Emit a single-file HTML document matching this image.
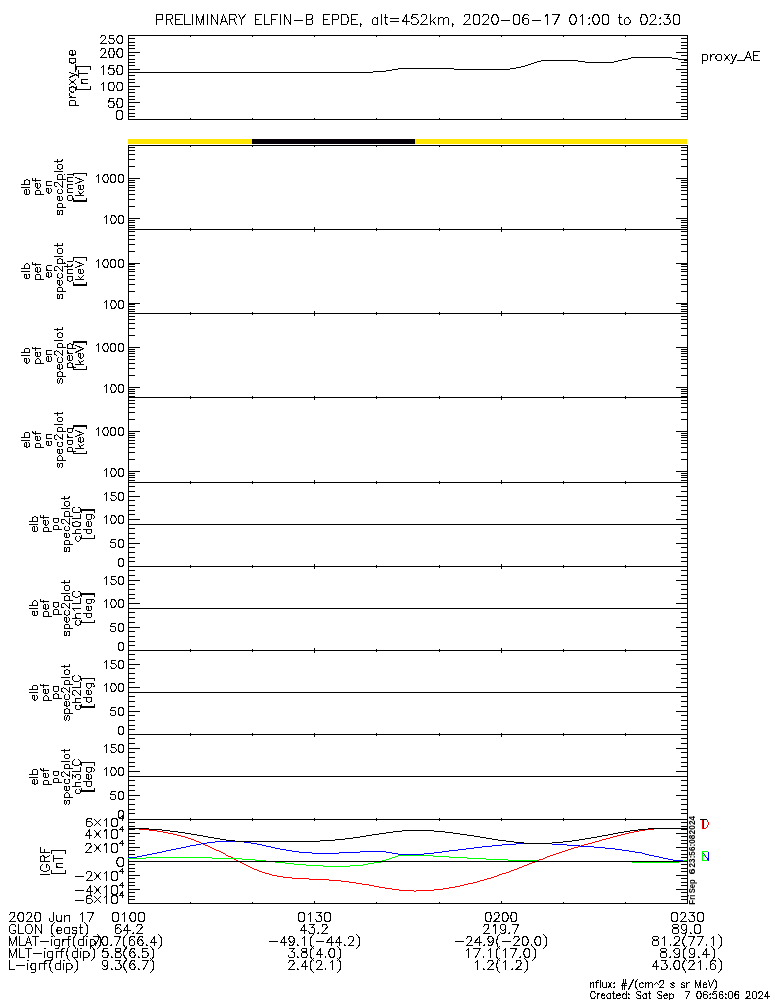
<!DOCTYPE html>
<html><head><meta charset="utf-8"><style>
html,body{margin:0;padding:0;background:#fff;width:775px;height:1000px;overflow:hidden}
svg{display:block}
text{font-family:"Liberation Sans",sans-serif;font-kerning:none;white-space:pre}
</style></head><body>
<svg width="775" height="1000" viewBox="0 0 775 1000">
<rect width="775" height="1000" fill="#fff"/>
<g shape-rendering="crispEdges">
<rect x="128" y="35" width="560" height="1" fill="#000"/>
<rect x="128" y="119" width="560" height="1" fill="#000"/>
<rect x="128" y="35" width="1" height="85" fill="#000"/>
<rect x="687" y="35" width="1" height="85" fill="#000"/>
<rect x="190" y="36" width="1" height="1" fill="#000"/>
<rect x="190" y="118" width="1" height="1" fill="#000"/>
<rect x="252" y="36" width="1" height="1" fill="#000"/>
<rect x="252" y="118" width="1" height="1" fill="#000"/>
<rect x="314" y="36" width="1" height="1" fill="#000"/>
<rect x="314" y="118" width="1" height="1" fill="#000"/>
<rect x="376" y="36" width="1" height="1" fill="#000"/>
<rect x="376" y="118" width="1" height="1" fill="#000"/>
<rect x="439" y="36" width="1" height="1" fill="#000"/>
<rect x="439" y="118" width="1" height="1" fill="#000"/>
<rect x="501" y="36" width="1" height="1" fill="#000"/>
<rect x="501" y="118" width="1" height="1" fill="#000"/>
<rect x="563" y="36" width="1" height="1" fill="#000"/>
<rect x="563" y="118" width="1" height="1" fill="#000"/>
<rect x="625" y="36" width="1" height="1" fill="#000"/>
<rect x="625" y="118" width="1" height="1" fill="#000"/>
<rect x="128" y="116" width="7" height="1" fill="#000"/>
<rect x="681" y="116" width="7" height="1" fill="#000"/>
<rect x="128" y="113" width="7" height="1" fill="#000"/>
<rect x="681" y="113" width="7" height="1" fill="#000"/>
<rect x="128" y="109" width="7" height="1" fill="#000"/>
<rect x="681" y="109" width="7" height="1" fill="#000"/>
<rect x="128" y="106" width="7" height="1" fill="#000"/>
<rect x="681" y="106" width="7" height="1" fill="#000"/>
<rect x="128" y="99" width="7" height="1" fill="#000"/>
<rect x="681" y="99" width="7" height="1" fill="#000"/>
<rect x="128" y="96" width="7" height="1" fill="#000"/>
<rect x="681" y="96" width="7" height="1" fill="#000"/>
<rect x="128" y="92" width="7" height="1" fill="#000"/>
<rect x="681" y="92" width="7" height="1" fill="#000"/>
<rect x="128" y="89" width="7" height="1" fill="#000"/>
<rect x="681" y="89" width="7" height="1" fill="#000"/>
<rect x="128" y="82" width="7" height="1" fill="#000"/>
<rect x="681" y="82" width="7" height="1" fill="#000"/>
<rect x="128" y="79" width="7" height="1" fill="#000"/>
<rect x="681" y="79" width="7" height="1" fill="#000"/>
<rect x="128" y="75" width="7" height="1" fill="#000"/>
<rect x="681" y="75" width="7" height="1" fill="#000"/>
<rect x="128" y="72" width="7" height="1" fill="#000"/>
<rect x="681" y="72" width="7" height="1" fill="#000"/>
<rect x="128" y="65" width="7" height="1" fill="#000"/>
<rect x="681" y="65" width="7" height="1" fill="#000"/>
<rect x="128" y="62" width="7" height="1" fill="#000"/>
<rect x="681" y="62" width="7" height="1" fill="#000"/>
<rect x="128" y="59" width="7" height="1" fill="#000"/>
<rect x="681" y="59" width="7" height="1" fill="#000"/>
<rect x="128" y="55" width="7" height="1" fill="#000"/>
<rect x="681" y="55" width="7" height="1" fill="#000"/>
<rect x="128" y="48" width="7" height="1" fill="#000"/>
<rect x="681" y="48" width="7" height="1" fill="#000"/>
<rect x="128" y="45" width="7" height="1" fill="#000"/>
<rect x="681" y="45" width="7" height="1" fill="#000"/>
<rect x="128" y="42" width="7" height="1" fill="#000"/>
<rect x="681" y="42" width="7" height="1" fill="#000"/>
<rect x="128" y="38" width="7" height="1" fill="#000"/>
<rect x="681" y="38" width="7" height="1" fill="#000"/>
<rect x="128" y="102" width="12" height="1" fill="#000"/>
<rect x="676" y="102" width="12" height="1" fill="#000"/>
<rect x="128" y="86" width="12" height="1" fill="#000"/>
<rect x="676" y="86" width="12" height="1" fill="#000"/>
<rect x="128" y="69" width="12" height="1" fill="#000"/>
<rect x="676" y="69" width="12" height="1" fill="#000"/>
<rect x="128" y="52" width="12" height="1" fill="#000"/>
<rect x="676" y="52" width="12" height="1" fill="#000"/>
<rect x="129" y="72" width="244" height="1" fill="#000"/>
<rect x="373" y="71" width="13" height="1" fill="#000"/>
<rect x="386" y="70" width="6" height="1" fill="#000"/>
<rect x="392" y="69" width="6" height="1" fill="#000"/>
<rect x="398" y="68" width="56" height="1" fill="#000"/>
<rect x="454" y="69" width="56" height="1" fill="#000"/>
<rect x="510" y="68" width="6" height="1" fill="#000"/>
<rect x="516" y="67" width="5" height="1" fill="#000"/>
<rect x="521" y="66" width="4" height="1" fill="#000"/>
<rect x="525" y="65" width="3" height="1" fill="#000"/>
<rect x="528" y="64" width="3" height="1" fill="#000"/>
<rect x="531" y="63" width="3" height="1" fill="#000"/>
<rect x="534" y="62" width="3" height="1" fill="#000"/>
<rect x="537" y="61" width="4" height="1" fill="#000"/>
<rect x="541" y="60" width="37" height="1" fill="#000"/>
<rect x="578" y="61" width="7" height="1" fill="#000"/>
<rect x="585" y="62" width="29" height="1" fill="#000"/>
<rect x="614" y="61" width="4" height="1" fill="#000"/>
<rect x="618" y="60" width="4" height="1" fill="#000"/>
<rect x="622" y="59" width="6" height="1" fill="#000"/>
<rect x="628" y="58" width="3" height="1" fill="#000"/>
<rect x="631" y="57" width="41" height="1" fill="#000"/>
<rect x="672" y="58" width="6" height="1" fill="#000"/>
<rect x="678" y="59" width="6" height="1" fill="#000"/>
<rect x="684" y="60" width="3" height="1" fill="#000"/>
<rect x="128" y="139" width="124" height="5" fill="#ffe600"/>
<rect x="252" y="139" width="163" height="5" fill="#050005"/>
<rect x="415" y="139" width="272" height="5" fill="#ffe600"/>
<rect x="128" y="145" width="560" height="1" fill="#000"/>
<rect x="128" y="229" width="560" height="1" fill="#000"/>
<rect x="128" y="145" width="1" height="85" fill="#000"/>
<rect x="687" y="145" width="1" height="85" fill="#000"/>
<rect x="190" y="146" width="1" height="1" fill="#000"/>
<rect x="190" y="228" width="1" height="1" fill="#000"/>
<rect x="252" y="146" width="1" height="1" fill="#000"/>
<rect x="252" y="228" width="1" height="1" fill="#000"/>
<rect x="314" y="146" width="1" height="1" fill="#000"/>
<rect x="314" y="227" width="1" height="2" fill="#000"/>
<rect x="376" y="146" width="1" height="1" fill="#000"/>
<rect x="376" y="228" width="1" height="1" fill="#000"/>
<rect x="439" y="146" width="1" height="1" fill="#000"/>
<rect x="439" y="228" width="1" height="1" fill="#000"/>
<rect x="501" y="146" width="1" height="1" fill="#000"/>
<rect x="501" y="227" width="1" height="2" fill="#000"/>
<rect x="563" y="146" width="1" height="1" fill="#000"/>
<rect x="563" y="228" width="1" height="1" fill="#000"/>
<rect x="625" y="146" width="1" height="1" fill="#000"/>
<rect x="625" y="228" width="1" height="1" fill="#000"/>
<rect x="128" y="227" width="7" height="1" fill="#000"/>
<rect x="681" y="227" width="7" height="1" fill="#000"/>
<rect x="128" y="225" width="7" height="1" fill="#000"/>
<rect x="681" y="225" width="7" height="1" fill="#000"/>
<rect x="128" y="222" width="7" height="1" fill="#000"/>
<rect x="681" y="222" width="7" height="1" fill="#000"/>
<rect x="128" y="220" width="7" height="1" fill="#000"/>
<rect x="681" y="220" width="7" height="1" fill="#000"/>
<rect x="128" y="206" width="7" height="1" fill="#000"/>
<rect x="681" y="206" width="7" height="1" fill="#000"/>
<rect x="128" y="199" width="7" height="1" fill="#000"/>
<rect x="681" y="199" width="7" height="1" fill="#000"/>
<rect x="128" y="194" width="7" height="1" fill="#000"/>
<rect x="681" y="194" width="7" height="1" fill="#000"/>
<rect x="128" y="190" width="7" height="1" fill="#000"/>
<rect x="681" y="190" width="7" height="1" fill="#000"/>
<rect x="128" y="187" width="7" height="1" fill="#000"/>
<rect x="681" y="187" width="7" height="1" fill="#000"/>
<rect x="128" y="185" width="7" height="1" fill="#000"/>
<rect x="681" y="185" width="7" height="1" fill="#000"/>
<rect x="128" y="182" width="7" height="1" fill="#000"/>
<rect x="681" y="182" width="7" height="1" fill="#000"/>
<rect x="128" y="180" width="7" height="1" fill="#000"/>
<rect x="681" y="180" width="7" height="1" fill="#000"/>
<rect x="128" y="166" width="7" height="1" fill="#000"/>
<rect x="681" y="166" width="7" height="1" fill="#000"/>
<rect x="128" y="159" width="7" height="1" fill="#000"/>
<rect x="681" y="159" width="7" height="1" fill="#000"/>
<rect x="128" y="154" width="7" height="1" fill="#000"/>
<rect x="681" y="154" width="7" height="1" fill="#000"/>
<rect x="128" y="150" width="7" height="1" fill="#000"/>
<rect x="681" y="150" width="7" height="1" fill="#000"/>
<rect x="128" y="147" width="7" height="1" fill="#000"/>
<rect x="681" y="147" width="7" height="1" fill="#000"/>
<rect x="128" y="218" width="12" height="1" fill="#000"/>
<rect x="676" y="218" width="12" height="1" fill="#000"/>
<rect x="128" y="178" width="12" height="1" fill="#000"/>
<rect x="676" y="178" width="12" height="1" fill="#000"/>
<rect x="128" y="229" width="560" height="1" fill="#000"/>
<rect x="128" y="313" width="560" height="1" fill="#000"/>
<rect x="128" y="229" width="1" height="85" fill="#000"/>
<rect x="687" y="229" width="1" height="85" fill="#000"/>
<rect x="190" y="230" width="1" height="1" fill="#000"/>
<rect x="190" y="312" width="1" height="1" fill="#000"/>
<rect x="252" y="230" width="1" height="1" fill="#000"/>
<rect x="252" y="312" width="1" height="1" fill="#000"/>
<rect x="314" y="230" width="1" height="2" fill="#000"/>
<rect x="314" y="311" width="1" height="2" fill="#000"/>
<rect x="376" y="230" width="1" height="1" fill="#000"/>
<rect x="376" y="312" width="1" height="1" fill="#000"/>
<rect x="439" y="230" width="1" height="1" fill="#000"/>
<rect x="439" y="312" width="1" height="1" fill="#000"/>
<rect x="501" y="230" width="1" height="2" fill="#000"/>
<rect x="501" y="311" width="1" height="2" fill="#000"/>
<rect x="563" y="230" width="1" height="1" fill="#000"/>
<rect x="563" y="312" width="1" height="1" fill="#000"/>
<rect x="625" y="230" width="1" height="1" fill="#000"/>
<rect x="625" y="312" width="1" height="1" fill="#000"/>
<rect x="128" y="311" width="7" height="1" fill="#000"/>
<rect x="681" y="311" width="7" height="1" fill="#000"/>
<rect x="128" y="309" width="7" height="1" fill="#000"/>
<rect x="681" y="309" width="7" height="1" fill="#000"/>
<rect x="128" y="306" width="7" height="1" fill="#000"/>
<rect x="681" y="306" width="7" height="1" fill="#000"/>
<rect x="128" y="304" width="7" height="1" fill="#000"/>
<rect x="681" y="304" width="7" height="1" fill="#000"/>
<rect x="128" y="291" width="7" height="1" fill="#000"/>
<rect x="681" y="291" width="7" height="1" fill="#000"/>
<rect x="128" y="284" width="7" height="1" fill="#000"/>
<rect x="681" y="284" width="7" height="1" fill="#000"/>
<rect x="128" y="279" width="7" height="1" fill="#000"/>
<rect x="681" y="279" width="7" height="1" fill="#000"/>
<rect x="128" y="275" width="7" height="1" fill="#000"/>
<rect x="681" y="275" width="7" height="1" fill="#000"/>
<rect x="128" y="271" width="7" height="1" fill="#000"/>
<rect x="681" y="271" width="7" height="1" fill="#000"/>
<rect x="128" y="269" width="7" height="1" fill="#000"/>
<rect x="681" y="269" width="7" height="1" fill="#000"/>
<rect x="128" y="266" width="7" height="1" fill="#000"/>
<rect x="681" y="266" width="7" height="1" fill="#000"/>
<rect x="128" y="264" width="7" height="1" fill="#000"/>
<rect x="681" y="264" width="7" height="1" fill="#000"/>
<rect x="128" y="251" width="7" height="1" fill="#000"/>
<rect x="681" y="251" width="7" height="1" fill="#000"/>
<rect x="128" y="244" width="7" height="1" fill="#000"/>
<rect x="681" y="244" width="7" height="1" fill="#000"/>
<rect x="128" y="239" width="7" height="1" fill="#000"/>
<rect x="681" y="239" width="7" height="1" fill="#000"/>
<rect x="128" y="235" width="7" height="1" fill="#000"/>
<rect x="681" y="235" width="7" height="1" fill="#000"/>
<rect x="128" y="231" width="7" height="1" fill="#000"/>
<rect x="681" y="231" width="7" height="1" fill="#000"/>
<rect x="128" y="303" width="12" height="1" fill="#000"/>
<rect x="676" y="303" width="12" height="1" fill="#000"/>
<rect x="128" y="263" width="12" height="1" fill="#000"/>
<rect x="676" y="263" width="12" height="1" fill="#000"/>
<rect x="128" y="313" width="560" height="1" fill="#000"/>
<rect x="128" y="397" width="560" height="1" fill="#000"/>
<rect x="128" y="313" width="1" height="85" fill="#000"/>
<rect x="687" y="313" width="1" height="85" fill="#000"/>
<rect x="190" y="314" width="1" height="1" fill="#000"/>
<rect x="190" y="396" width="1" height="1" fill="#000"/>
<rect x="252" y="314" width="1" height="1" fill="#000"/>
<rect x="252" y="396" width="1" height="1" fill="#000"/>
<rect x="314" y="314" width="1" height="2" fill="#000"/>
<rect x="314" y="396" width="1" height="1" fill="#000"/>
<rect x="376" y="314" width="1" height="1" fill="#000"/>
<rect x="376" y="396" width="1" height="1" fill="#000"/>
<rect x="439" y="314" width="1" height="1" fill="#000"/>
<rect x="439" y="396" width="1" height="1" fill="#000"/>
<rect x="501" y="314" width="1" height="2" fill="#000"/>
<rect x="501" y="396" width="1" height="1" fill="#000"/>
<rect x="563" y="314" width="1" height="1" fill="#000"/>
<rect x="563" y="396" width="1" height="1" fill="#000"/>
<rect x="625" y="314" width="1" height="1" fill="#000"/>
<rect x="625" y="396" width="1" height="1" fill="#000"/>
<rect x="128" y="396" width="7" height="1" fill="#000"/>
<rect x="681" y="396" width="7" height="1" fill="#000"/>
<rect x="128" y="393" width="7" height="1" fill="#000"/>
<rect x="681" y="393" width="7" height="1" fill="#000"/>
<rect x="128" y="391" width="7" height="1" fill="#000"/>
<rect x="681" y="391" width="7" height="1" fill="#000"/>
<rect x="128" y="389" width="7" height="1" fill="#000"/>
<rect x="681" y="389" width="7" height="1" fill="#000"/>
<rect x="128" y="375" width="7" height="1" fill="#000"/>
<rect x="681" y="375" width="7" height="1" fill="#000"/>
<rect x="128" y="368" width="7" height="1" fill="#000"/>
<rect x="681" y="368" width="7" height="1" fill="#000"/>
<rect x="128" y="363" width="7" height="1" fill="#000"/>
<rect x="681" y="363" width="7" height="1" fill="#000"/>
<rect x="128" y="359" width="7" height="1" fill="#000"/>
<rect x="681" y="359" width="7" height="1" fill="#000"/>
<rect x="128" y="356" width="7" height="1" fill="#000"/>
<rect x="681" y="356" width="7" height="1" fill="#000"/>
<rect x="128" y="353" width="7" height="1" fill="#000"/>
<rect x="681" y="353" width="7" height="1" fill="#000"/>
<rect x="128" y="351" width="7" height="1" fill="#000"/>
<rect x="681" y="351" width="7" height="1" fill="#000"/>
<rect x="128" y="349" width="7" height="1" fill="#000"/>
<rect x="681" y="349" width="7" height="1" fill="#000"/>
<rect x="128" y="335" width="7" height="1" fill="#000"/>
<rect x="681" y="335" width="7" height="1" fill="#000"/>
<rect x="128" y="328" width="7" height="1" fill="#000"/>
<rect x="681" y="328" width="7" height="1" fill="#000"/>
<rect x="128" y="323" width="7" height="1" fill="#000"/>
<rect x="681" y="323" width="7" height="1" fill="#000"/>
<rect x="128" y="319" width="7" height="1" fill="#000"/>
<rect x="681" y="319" width="7" height="1" fill="#000"/>
<rect x="128" y="316" width="7" height="1" fill="#000"/>
<rect x="681" y="316" width="7" height="1" fill="#000"/>
<rect x="128" y="387" width="12" height="1" fill="#000"/>
<rect x="676" y="387" width="12" height="1" fill="#000"/>
<rect x="128" y="347" width="12" height="1" fill="#000"/>
<rect x="676" y="347" width="12" height="1" fill="#000"/>
<rect x="128" y="397" width="560" height="1" fill="#000"/>
<rect x="128" y="482" width="560" height="1" fill="#000"/>
<rect x="128" y="397" width="1" height="86" fill="#000"/>
<rect x="687" y="397" width="1" height="86" fill="#000"/>
<rect x="190" y="398" width="1" height="1" fill="#000"/>
<rect x="190" y="481" width="1" height="1" fill="#000"/>
<rect x="252" y="398" width="1" height="1" fill="#000"/>
<rect x="252" y="481" width="1" height="1" fill="#000"/>
<rect x="314" y="398" width="1" height="2" fill="#000"/>
<rect x="314" y="480" width="1" height="2" fill="#000"/>
<rect x="376" y="398" width="1" height="1" fill="#000"/>
<rect x="376" y="481" width="1" height="1" fill="#000"/>
<rect x="439" y="398" width="1" height="1" fill="#000"/>
<rect x="439" y="481" width="1" height="1" fill="#000"/>
<rect x="501" y="398" width="1" height="2" fill="#000"/>
<rect x="501" y="480" width="1" height="2" fill="#000"/>
<rect x="563" y="398" width="1" height="1" fill="#000"/>
<rect x="563" y="481" width="1" height="1" fill="#000"/>
<rect x="625" y="398" width="1" height="1" fill="#000"/>
<rect x="625" y="481" width="1" height="1" fill="#000"/>
<rect x="128" y="480" width="7" height="1" fill="#000"/>
<rect x="681" y="480" width="7" height="1" fill="#000"/>
<rect x="128" y="477" width="7" height="1" fill="#000"/>
<rect x="681" y="477" width="7" height="1" fill="#000"/>
<rect x="128" y="475" width="7" height="1" fill="#000"/>
<rect x="681" y="475" width="7" height="1" fill="#000"/>
<rect x="128" y="473" width="7" height="1" fill="#000"/>
<rect x="681" y="473" width="7" height="1" fill="#000"/>
<rect x="128" y="459" width="7" height="1" fill="#000"/>
<rect x="681" y="459" width="7" height="1" fill="#000"/>
<rect x="128" y="452" width="7" height="1" fill="#000"/>
<rect x="681" y="452" width="7" height="1" fill="#000"/>
<rect x="128" y="447" width="7" height="1" fill="#000"/>
<rect x="681" y="447" width="7" height="1" fill="#000"/>
<rect x="128" y="443" width="7" height="1" fill="#000"/>
<rect x="681" y="443" width="7" height="1" fill="#000"/>
<rect x="128" y="440" width="7" height="1" fill="#000"/>
<rect x="681" y="440" width="7" height="1" fill="#000"/>
<rect x="128" y="437" width="7" height="1" fill="#000"/>
<rect x="681" y="437" width="7" height="1" fill="#000"/>
<rect x="128" y="435" width="7" height="1" fill="#000"/>
<rect x="681" y="435" width="7" height="1" fill="#000"/>
<rect x="128" y="433" width="7" height="1" fill="#000"/>
<rect x="681" y="433" width="7" height="1" fill="#000"/>
<rect x="128" y="419" width="7" height="1" fill="#000"/>
<rect x="681" y="419" width="7" height="1" fill="#000"/>
<rect x="128" y="412" width="7" height="1" fill="#000"/>
<rect x="681" y="412" width="7" height="1" fill="#000"/>
<rect x="128" y="407" width="7" height="1" fill="#000"/>
<rect x="681" y="407" width="7" height="1" fill="#000"/>
<rect x="128" y="403" width="7" height="1" fill="#000"/>
<rect x="681" y="403" width="7" height="1" fill="#000"/>
<rect x="128" y="400" width="7" height="1" fill="#000"/>
<rect x="681" y="400" width="7" height="1" fill="#000"/>
<rect x="128" y="471" width="12" height="1" fill="#000"/>
<rect x="676" y="471" width="12" height="1" fill="#000"/>
<rect x="128" y="431" width="12" height="1" fill="#000"/>
<rect x="676" y="431" width="12" height="1" fill="#000"/>
<rect x="128" y="482" width="560" height="1" fill="#000"/>
<rect x="128" y="566" width="560" height="1" fill="#000"/>
<rect x="128" y="482" width="1" height="85" fill="#000"/>
<rect x="687" y="482" width="1" height="85" fill="#000"/>
<rect x="190" y="483" width="1" height="1" fill="#000"/>
<rect x="190" y="565" width="1" height="1" fill="#000"/>
<rect x="252" y="483" width="1" height="1" fill="#000"/>
<rect x="252" y="565" width="1" height="1" fill="#000"/>
<rect x="314" y="483" width="1" height="1" fill="#000"/>
<rect x="314" y="564" width="1" height="2" fill="#000"/>
<rect x="376" y="483" width="1" height="1" fill="#000"/>
<rect x="376" y="565" width="1" height="1" fill="#000"/>
<rect x="439" y="483" width="1" height="1" fill="#000"/>
<rect x="439" y="565" width="1" height="1" fill="#000"/>
<rect x="501" y="483" width="1" height="1" fill="#000"/>
<rect x="501" y="564" width="1" height="2" fill="#000"/>
<rect x="563" y="483" width="1" height="1" fill="#000"/>
<rect x="563" y="565" width="1" height="1" fill="#000"/>
<rect x="625" y="483" width="1" height="1" fill="#000"/>
<rect x="625" y="565" width="1" height="1" fill="#000"/>
<rect x="128" y="486" width="7" height="1" fill="#000"/>
<rect x="681" y="486" width="7" height="1" fill="#000"/>
<rect x="128" y="491" width="7" height="1" fill="#000"/>
<rect x="681" y="491" width="7" height="1" fill="#000"/>
<rect x="128" y="500" width="7" height="1" fill="#000"/>
<rect x="681" y="500" width="7" height="1" fill="#000"/>
<rect x="128" y="505" width="7" height="1" fill="#000"/>
<rect x="681" y="505" width="7" height="1" fill="#000"/>
<rect x="128" y="510" width="7" height="1" fill="#000"/>
<rect x="681" y="510" width="7" height="1" fill="#000"/>
<rect x="128" y="514" width="7" height="1" fill="#000"/>
<rect x="681" y="514" width="7" height="1" fill="#000"/>
<rect x="128" y="524" width="7" height="1" fill="#000"/>
<rect x="681" y="524" width="7" height="1" fill="#000"/>
<rect x="128" y="528" width="7" height="1" fill="#000"/>
<rect x="681" y="528" width="7" height="1" fill="#000"/>
<rect x="128" y="533" width="7" height="1" fill="#000"/>
<rect x="681" y="533" width="7" height="1" fill="#000"/>
<rect x="128" y="538" width="7" height="1" fill="#000"/>
<rect x="681" y="538" width="7" height="1" fill="#000"/>
<rect x="128" y="547" width="7" height="1" fill="#000"/>
<rect x="681" y="547" width="7" height="1" fill="#000"/>
<rect x="128" y="552" width="7" height="1" fill="#000"/>
<rect x="681" y="552" width="7" height="1" fill="#000"/>
<rect x="128" y="557" width="7" height="1" fill="#000"/>
<rect x="681" y="557" width="7" height="1" fill="#000"/>
<rect x="128" y="561" width="7" height="1" fill="#000"/>
<rect x="681" y="561" width="7" height="1" fill="#000"/>
<rect x="128" y="496" width="12" height="1" fill="#000"/>
<rect x="676" y="496" width="12" height="1" fill="#000"/>
<rect x="128" y="519" width="12" height="1" fill="#000"/>
<rect x="676" y="519" width="12" height="1" fill="#000"/>
<rect x="128" y="543" width="12" height="1" fill="#000"/>
<rect x="676" y="543" width="12" height="1" fill="#000"/>
<rect x="128" y="524" width="560" height="1" fill="#000"/>
<rect x="128" y="566" width="560" height="1" fill="#000"/>
<rect x="128" y="650" width="560" height="1" fill="#000"/>
<rect x="128" y="566" width="1" height="85" fill="#000"/>
<rect x="687" y="566" width="1" height="85" fill="#000"/>
<rect x="190" y="567" width="1" height="1" fill="#000"/>
<rect x="190" y="649" width="1" height="1" fill="#000"/>
<rect x="252" y="567" width="1" height="1" fill="#000"/>
<rect x="252" y="649" width="1" height="1" fill="#000"/>
<rect x="314" y="567" width="1" height="2" fill="#000"/>
<rect x="314" y="648" width="1" height="2" fill="#000"/>
<rect x="376" y="567" width="1" height="1" fill="#000"/>
<rect x="376" y="649" width="1" height="1" fill="#000"/>
<rect x="439" y="567" width="1" height="1" fill="#000"/>
<rect x="439" y="649" width="1" height="1" fill="#000"/>
<rect x="501" y="567" width="1" height="2" fill="#000"/>
<rect x="501" y="648" width="1" height="2" fill="#000"/>
<rect x="563" y="567" width="1" height="1" fill="#000"/>
<rect x="563" y="649" width="1" height="1" fill="#000"/>
<rect x="625" y="567" width="1" height="1" fill="#000"/>
<rect x="625" y="649" width="1" height="1" fill="#000"/>
<rect x="128" y="570" width="7" height="1" fill="#000"/>
<rect x="681" y="570" width="7" height="1" fill="#000"/>
<rect x="128" y="575" width="7" height="1" fill="#000"/>
<rect x="681" y="575" width="7" height="1" fill="#000"/>
<rect x="128" y="584" width="7" height="1" fill="#000"/>
<rect x="681" y="584" width="7" height="1" fill="#000"/>
<rect x="128" y="589" width="7" height="1" fill="#000"/>
<rect x="681" y="589" width="7" height="1" fill="#000"/>
<rect x="128" y="594" width="7" height="1" fill="#000"/>
<rect x="681" y="594" width="7" height="1" fill="#000"/>
<rect x="128" y="598" width="7" height="1" fill="#000"/>
<rect x="681" y="598" width="7" height="1" fill="#000"/>
<rect x="128" y="608" width="7" height="1" fill="#000"/>
<rect x="681" y="608" width="7" height="1" fill="#000"/>
<rect x="128" y="612" width="7" height="1" fill="#000"/>
<rect x="681" y="612" width="7" height="1" fill="#000"/>
<rect x="128" y="617" width="7" height="1" fill="#000"/>
<rect x="681" y="617" width="7" height="1" fill="#000"/>
<rect x="128" y="622" width="7" height="1" fill="#000"/>
<rect x="681" y="622" width="7" height="1" fill="#000"/>
<rect x="128" y="631" width="7" height="1" fill="#000"/>
<rect x="681" y="631" width="7" height="1" fill="#000"/>
<rect x="128" y="636" width="7" height="1" fill="#000"/>
<rect x="681" y="636" width="7" height="1" fill="#000"/>
<rect x="128" y="641" width="7" height="1" fill="#000"/>
<rect x="681" y="641" width="7" height="1" fill="#000"/>
<rect x="128" y="645" width="7" height="1" fill="#000"/>
<rect x="681" y="645" width="7" height="1" fill="#000"/>
<rect x="128" y="580" width="12" height="1" fill="#000"/>
<rect x="676" y="580" width="12" height="1" fill="#000"/>
<rect x="128" y="603" width="12" height="1" fill="#000"/>
<rect x="676" y="603" width="12" height="1" fill="#000"/>
<rect x="128" y="627" width="12" height="1" fill="#000"/>
<rect x="676" y="627" width="12" height="1" fill="#000"/>
<rect x="128" y="608" width="560" height="1" fill="#000"/>
<rect x="128" y="650" width="560" height="1" fill="#000"/>
<rect x="128" y="734" width="560" height="1" fill="#000"/>
<rect x="128" y="650" width="1" height="85" fill="#000"/>
<rect x="687" y="650" width="1" height="85" fill="#000"/>
<rect x="190" y="651" width="1" height="1" fill="#000"/>
<rect x="190" y="733" width="1" height="1" fill="#000"/>
<rect x="252" y="651" width="1" height="1" fill="#000"/>
<rect x="252" y="733" width="1" height="1" fill="#000"/>
<rect x="314" y="651" width="1" height="2" fill="#000"/>
<rect x="314" y="733" width="1" height="1" fill="#000"/>
<rect x="376" y="651" width="1" height="1" fill="#000"/>
<rect x="376" y="733" width="1" height="1" fill="#000"/>
<rect x="439" y="651" width="1" height="1" fill="#000"/>
<rect x="439" y="733" width="1" height="1" fill="#000"/>
<rect x="501" y="651" width="1" height="2" fill="#000"/>
<rect x="501" y="733" width="1" height="1" fill="#000"/>
<rect x="563" y="651" width="1" height="1" fill="#000"/>
<rect x="563" y="733" width="1" height="1" fill="#000"/>
<rect x="625" y="651" width="1" height="1" fill="#000"/>
<rect x="625" y="733" width="1" height="1" fill="#000"/>
<rect x="128" y="654" width="7" height="1" fill="#000"/>
<rect x="681" y="654" width="7" height="1" fill="#000"/>
<rect x="128" y="659" width="7" height="1" fill="#000"/>
<rect x="681" y="659" width="7" height="1" fill="#000"/>
<rect x="128" y="668" width="7" height="1" fill="#000"/>
<rect x="681" y="668" width="7" height="1" fill="#000"/>
<rect x="128" y="673" width="7" height="1" fill="#000"/>
<rect x="681" y="673" width="7" height="1" fill="#000"/>
<rect x="128" y="678" width="7" height="1" fill="#000"/>
<rect x="681" y="678" width="7" height="1" fill="#000"/>
<rect x="128" y="682" width="7" height="1" fill="#000"/>
<rect x="681" y="682" width="7" height="1" fill="#000"/>
<rect x="128" y="692" width="7" height="1" fill="#000"/>
<rect x="681" y="692" width="7" height="1" fill="#000"/>
<rect x="128" y="696" width="7" height="1" fill="#000"/>
<rect x="681" y="696" width="7" height="1" fill="#000"/>
<rect x="128" y="701" width="7" height="1" fill="#000"/>
<rect x="681" y="701" width="7" height="1" fill="#000"/>
<rect x="128" y="706" width="7" height="1" fill="#000"/>
<rect x="681" y="706" width="7" height="1" fill="#000"/>
<rect x="128" y="715" width="7" height="1" fill="#000"/>
<rect x="681" y="715" width="7" height="1" fill="#000"/>
<rect x="128" y="720" width="7" height="1" fill="#000"/>
<rect x="681" y="720" width="7" height="1" fill="#000"/>
<rect x="128" y="725" width="7" height="1" fill="#000"/>
<rect x="681" y="725" width="7" height="1" fill="#000"/>
<rect x="128" y="729" width="7" height="1" fill="#000"/>
<rect x="681" y="729" width="7" height="1" fill="#000"/>
<rect x="128" y="664" width="12" height="1" fill="#000"/>
<rect x="676" y="664" width="12" height="1" fill="#000"/>
<rect x="128" y="687" width="12" height="1" fill="#000"/>
<rect x="676" y="687" width="12" height="1" fill="#000"/>
<rect x="128" y="711" width="12" height="1" fill="#000"/>
<rect x="676" y="711" width="12" height="1" fill="#000"/>
<rect x="128" y="692" width="560" height="1" fill="#000"/>
<rect x="128" y="734" width="560" height="1" fill="#000"/>
<rect x="128" y="819" width="560" height="1" fill="#000"/>
<rect x="128" y="734" width="1" height="86" fill="#000"/>
<rect x="687" y="734" width="1" height="86" fill="#000"/>
<rect x="190" y="735" width="1" height="1" fill="#000"/>
<rect x="190" y="818" width="1" height="1" fill="#000"/>
<rect x="252" y="735" width="1" height="1" fill="#000"/>
<rect x="252" y="818" width="1" height="1" fill="#000"/>
<rect x="314" y="735" width="1" height="2" fill="#000"/>
<rect x="314" y="818" width="1" height="1" fill="#000"/>
<rect x="376" y="735" width="1" height="1" fill="#000"/>
<rect x="376" y="818" width="1" height="1" fill="#000"/>
<rect x="439" y="735" width="1" height="1" fill="#000"/>
<rect x="439" y="818" width="1" height="1" fill="#000"/>
<rect x="501" y="735" width="1" height="2" fill="#000"/>
<rect x="501" y="818" width="1" height="1" fill="#000"/>
<rect x="563" y="735" width="1" height="1" fill="#000"/>
<rect x="563" y="818" width="1" height="1" fill="#000"/>
<rect x="625" y="735" width="1" height="1" fill="#000"/>
<rect x="625" y="818" width="1" height="1" fill="#000"/>
<rect x="128" y="738" width="7" height="1" fill="#000"/>
<rect x="681" y="738" width="7" height="1" fill="#000"/>
<rect x="128" y="743" width="7" height="1" fill="#000"/>
<rect x="681" y="743" width="7" height="1" fill="#000"/>
<rect x="128" y="752" width="7" height="1" fill="#000"/>
<rect x="681" y="752" width="7" height="1" fill="#000"/>
<rect x="128" y="757" width="7" height="1" fill="#000"/>
<rect x="681" y="757" width="7" height="1" fill="#000"/>
<rect x="128" y="762" width="7" height="1" fill="#000"/>
<rect x="681" y="762" width="7" height="1" fill="#000"/>
<rect x="128" y="766" width="7" height="1" fill="#000"/>
<rect x="681" y="766" width="7" height="1" fill="#000"/>
<rect x="128" y="776" width="7" height="1" fill="#000"/>
<rect x="681" y="776" width="7" height="1" fill="#000"/>
<rect x="128" y="780" width="7" height="1" fill="#000"/>
<rect x="681" y="780" width="7" height="1" fill="#000"/>
<rect x="128" y="785" width="7" height="1" fill="#000"/>
<rect x="681" y="785" width="7" height="1" fill="#000"/>
<rect x="128" y="790" width="7" height="1" fill="#000"/>
<rect x="681" y="790" width="7" height="1" fill="#000"/>
<rect x="128" y="799" width="7" height="1" fill="#000"/>
<rect x="681" y="799" width="7" height="1" fill="#000"/>
<rect x="128" y="804" width="7" height="1" fill="#000"/>
<rect x="681" y="804" width="7" height="1" fill="#000"/>
<rect x="128" y="809" width="7" height="1" fill="#000"/>
<rect x="681" y="809" width="7" height="1" fill="#000"/>
<rect x="128" y="813" width="7" height="1" fill="#000"/>
<rect x="681" y="813" width="7" height="1" fill="#000"/>
<rect x="128" y="748" width="12" height="1" fill="#000"/>
<rect x="676" y="748" width="12" height="1" fill="#000"/>
<rect x="128" y="771" width="12" height="1" fill="#000"/>
<rect x="676" y="771" width="12" height="1" fill="#000"/>
<rect x="128" y="795" width="12" height="1" fill="#000"/>
<rect x="676" y="795" width="12" height="1" fill="#000"/>
<rect x="128" y="776" width="560" height="1" fill="#000"/>
<rect x="128" y="819" width="560" height="1" fill="#000"/>
<rect x="128" y="903" width="560" height="1" fill="#000"/>
<rect x="128" y="819" width="1" height="85" fill="#000"/>
<rect x="687" y="819" width="1" height="85" fill="#000"/>
<rect x="190" y="820" width="1" height="1" fill="#000"/>
<rect x="190" y="902" width="1" height="1" fill="#000"/>
<rect x="252" y="820" width="1" height="1" fill="#000"/>
<rect x="252" y="902" width="1" height="1" fill="#000"/>
<rect x="314" y="820" width="1" height="1" fill="#000"/>
<rect x="314" y="901" width="1" height="2" fill="#000"/>
<rect x="376" y="820" width="1" height="1" fill="#000"/>
<rect x="376" y="902" width="1" height="1" fill="#000"/>
<rect x="439" y="820" width="1" height="1" fill="#000"/>
<rect x="439" y="902" width="1" height="1" fill="#000"/>
<rect x="501" y="820" width="1" height="1" fill="#000"/>
<rect x="501" y="901" width="1" height="2" fill="#000"/>
<rect x="563" y="820" width="1" height="1" fill="#000"/>
<rect x="563" y="902" width="1" height="1" fill="#000"/>
<rect x="625" y="820" width="1" height="1" fill="#000"/>
<rect x="625" y="902" width="1" height="1" fill="#000"/>
<rect x="128" y="899" width="7" height="1" fill="#000"/>
<rect x="681" y="899" width="7" height="1" fill="#000"/>
<rect x="128" y="896" width="7" height="1" fill="#000"/>
<rect x="681" y="896" width="7" height="1" fill="#000"/>
<rect x="128" y="892" width="7" height="1" fill="#000"/>
<rect x="681" y="892" width="7" height="1" fill="#000"/>
<rect x="128" y="885" width="7" height="1" fill="#000"/>
<rect x="681" y="885" width="7" height="1" fill="#000"/>
<rect x="128" y="882" width="7" height="1" fill="#000"/>
<rect x="681" y="882" width="7" height="1" fill="#000"/>
<rect x="128" y="878" width="7" height="1" fill="#000"/>
<rect x="681" y="878" width="7" height="1" fill="#000"/>
<rect x="128" y="871" width="7" height="1" fill="#000"/>
<rect x="681" y="871" width="7" height="1" fill="#000"/>
<rect x="128" y="868" width="7" height="1" fill="#000"/>
<rect x="681" y="868" width="7" height="1" fill="#000"/>
<rect x="128" y="864" width="7" height="1" fill="#000"/>
<rect x="681" y="864" width="7" height="1" fill="#000"/>
<rect x="128" y="857" width="7" height="1" fill="#000"/>
<rect x="681" y="857" width="7" height="1" fill="#000"/>
<rect x="128" y="854" width="7" height="1" fill="#000"/>
<rect x="681" y="854" width="7" height="1" fill="#000"/>
<rect x="128" y="850" width="7" height="1" fill="#000"/>
<rect x="681" y="850" width="7" height="1" fill="#000"/>
<rect x="128" y="843" width="7" height="1" fill="#000"/>
<rect x="681" y="843" width="7" height="1" fill="#000"/>
<rect x="128" y="840" width="7" height="1" fill="#000"/>
<rect x="681" y="840" width="7" height="1" fill="#000"/>
<rect x="128" y="836" width="7" height="1" fill="#000"/>
<rect x="681" y="836" width="7" height="1" fill="#000"/>
<rect x="128" y="829" width="7" height="1" fill="#000"/>
<rect x="681" y="829" width="7" height="1" fill="#000"/>
<rect x="128" y="826" width="7" height="1" fill="#000"/>
<rect x="681" y="826" width="7" height="1" fill="#000"/>
<rect x="128" y="822" width="7" height="1" fill="#000"/>
<rect x="681" y="822" width="7" height="1" fill="#000"/>
<rect x="128" y="889" width="12" height="1" fill="#000"/>
<rect x="676" y="889" width="12" height="1" fill="#000"/>
<rect x="128" y="875" width="12" height="1" fill="#000"/>
<rect x="676" y="875" width="12" height="1" fill="#000"/>
<rect x="128" y="861" width="12" height="1" fill="#000"/>
<rect x="676" y="861" width="12" height="1" fill="#000"/>
<rect x="128" y="847" width="12" height="1" fill="#000"/>
<rect x="676" y="847" width="12" height="1" fill="#000"/>
<rect x="128" y="833" width="12" height="1" fill="#000"/>
<rect x="676" y="833" width="12" height="1" fill="#000"/>
<rect x="129" y="828" width="10" height="1" fill="#ff0000"/>
<rect x="139" y="829" width="10" height="1" fill="#ff0000"/>
<rect x="149" y="830" width="8" height="1" fill="#ff0000"/>
<rect x="157" y="831" width="6" height="1" fill="#ff0000"/>
<rect x="163" y="832" width="5" height="1" fill="#ff0000"/>
<rect x="168" y="833" width="5" height="1" fill="#ff0000"/>
<rect x="173" y="834" width="4" height="1" fill="#ff0000"/>
<rect x="177" y="835" width="4" height="1" fill="#ff0000"/>
<rect x="181" y="836" width="4" height="1" fill="#ff0000"/>
<rect x="185" y="837" width="3" height="1" fill="#ff0000"/>
<rect x="188" y="838" width="3" height="1" fill="#ff0000"/>
<rect x="191" y="839" width="3" height="1" fill="#ff0000"/>
<rect x="194" y="840" width="2" height="1" fill="#ff0000"/>
<rect x="196" y="841" width="3" height="1" fill="#ff0000"/>
<rect x="199" y="842" width="2" height="1" fill="#ff0000"/>
<rect x="201" y="843" width="2" height="1" fill="#ff0000"/>
<rect x="203" y="844" width="2" height="1" fill="#ff0000"/>
<rect x="205" y="845" width="3" height="1" fill="#ff0000"/>
<rect x="208" y="846" width="2" height="1" fill="#ff0000"/>
<rect x="210" y="847" width="2" height="1" fill="#ff0000"/>
<rect x="212" y="848" width="2" height="1" fill="#ff0000"/>
<rect x="214" y="849" width="2" height="1" fill="#ff0000"/>
<rect x="216" y="850" width="3" height="1" fill="#ff0000"/>
<rect x="219" y="851" width="2" height="1" fill="#ff0000"/>
<rect x="221" y="852" width="2" height="1" fill="#ff0000"/>
<rect x="223" y="853" width="2" height="1" fill="#ff0000"/>
<rect x="225" y="854" width="1" height="1" fill="#ff0000"/>
<rect x="226" y="855" width="2" height="1" fill="#ff0000"/>
<rect x="228" y="856" width="3" height="1" fill="#ff0000"/>
<rect x="231" y="857" width="2" height="1" fill="#ff0000"/>
<rect x="233" y="858" width="1" height="1" fill="#ff0000"/>
<rect x="234" y="859" width="2" height="1" fill="#ff0000"/>
<rect x="236" y="860" width="2" height="1" fill="#ff0000"/>
<rect x="238" y="861" width="2" height="1" fill="#ff0000"/>
<rect x="240" y="862" width="2" height="1" fill="#ff0000"/>
<rect x="242" y="863" width="2" height="1" fill="#ff0000"/>
<rect x="244" y="864" width="2" height="1" fill="#ff0000"/>
<rect x="246" y="865" width="2" height="1" fill="#ff0000"/>
<rect x="248" y="866" width="2" height="1" fill="#ff0000"/>
<rect x="250" y="867" width="2" height="1" fill="#ff0000"/>
<rect x="252" y="868" width="2" height="1" fill="#ff0000"/>
<rect x="254" y="869" width="3" height="1" fill="#ff0000"/>
<rect x="257" y="870" width="2" height="1" fill="#ff0000"/>
<rect x="259" y="871" width="3" height="1" fill="#ff0000"/>
<rect x="262" y="872" width="3" height="1" fill="#ff0000"/>
<rect x="265" y="873" width="4" height="1" fill="#ff0000"/>
<rect x="269" y="874" width="3" height="1" fill="#ff0000"/>
<rect x="272" y="875" width="5" height="1" fill="#ff0000"/>
<rect x="277" y="876" width="6" height="1" fill="#ff0000"/>
<rect x="283" y="877" width="9" height="1" fill="#ff0000"/>
<rect x="292" y="878" width="17" height="1" fill="#ff0000"/>
<rect x="309" y="879" width="20" height="1" fill="#ff0000"/>
<rect x="329" y="880" width="12" height="1" fill="#ff0000"/>
<rect x="341" y="881" width="8" height="1" fill="#ff0000"/>
<rect x="349" y="882" width="7" height="1" fill="#ff0000"/>
<rect x="356" y="883" width="6" height="1" fill="#ff0000"/>
<rect x="362" y="884" width="7" height="1" fill="#ff0000"/>
<rect x="369" y="885" width="5" height="1" fill="#ff0000"/>
<rect x="374" y="886" width="5" height="1" fill="#ff0000"/>
<rect x="379" y="887" width="6" height="1" fill="#ff0000"/>
<rect x="385" y="888" width="7" height="1" fill="#ff0000"/>
<rect x="392" y="889" width="7" height="1" fill="#ff0000"/>
<rect x="399" y="890" width="15" height="1" fill="#ff0000"/>
<rect x="414" y="891" width="2" height="1" fill="#ff0000"/>
<rect x="416" y="890" width="18" height="1" fill="#ff0000"/>
<rect x="434" y="889" width="9" height="1" fill="#ff0000"/>
<rect x="443" y="888" width="6" height="1" fill="#ff0000"/>
<rect x="449" y="887" width="6" height="1" fill="#ff0000"/>
<rect x="455" y="886" width="5" height="1" fill="#ff0000"/>
<rect x="460" y="885" width="4" height="1" fill="#ff0000"/>
<rect x="464" y="884" width="4" height="1" fill="#ff0000"/>
<rect x="468" y="883" width="5" height="1" fill="#ff0000"/>
<rect x="473" y="882" width="4" height="1" fill="#ff0000"/>
<rect x="477" y="881" width="3" height="1" fill="#ff0000"/>
<rect x="480" y="880" width="4" height="1" fill="#ff0000"/>
<rect x="484" y="879" width="3" height="1" fill="#ff0000"/>
<rect x="487" y="878" width="4" height="1" fill="#ff0000"/>
<rect x="491" y="877" width="3" height="1" fill="#ff0000"/>
<rect x="494" y="876" width="3" height="1" fill="#ff0000"/>
<rect x="497" y="875" width="2" height="1" fill="#ff0000"/>
<rect x="499" y="874" width="3" height="1" fill="#ff0000"/>
<rect x="502" y="873" width="4" height="1" fill="#ff0000"/>
<rect x="506" y="872" width="3" height="1" fill="#ff0000"/>
<rect x="509" y="871" width="2" height="1" fill="#ff0000"/>
<rect x="511" y="870" width="3" height="1" fill="#ff0000"/>
<rect x="514" y="869" width="3" height="1" fill="#ff0000"/>
<rect x="517" y="868" width="2" height="1" fill="#ff0000"/>
<rect x="519" y="867" width="3" height="1" fill="#ff0000"/>
<rect x="522" y="866" width="2" height="1" fill="#ff0000"/>
<rect x="524" y="865" width="3" height="1" fill="#ff0000"/>
<rect x="527" y="864" width="2" height="1" fill="#ff0000"/>
<rect x="529" y="863" width="3" height="1" fill="#ff0000"/>
<rect x="532" y="862" width="3" height="1" fill="#ff0000"/>
<rect x="535" y="861" width="2" height="1" fill="#ff0000"/>
<rect x="537" y="860" width="2" height="1" fill="#ff0000"/>
<rect x="539" y="859" width="4" height="1" fill="#ff0000"/>
<rect x="543" y="858" width="2" height="1" fill="#ff0000"/>
<rect x="545" y="857" width="2" height="1" fill="#ff0000"/>
<rect x="547" y="856" width="3" height="1" fill="#ff0000"/>
<rect x="550" y="855" width="3" height="1" fill="#ff0000"/>
<rect x="553" y="854" width="3" height="1" fill="#ff0000"/>
<rect x="556" y="853" width="3" height="1" fill="#ff0000"/>
<rect x="559" y="852" width="3" height="1" fill="#ff0000"/>
<rect x="562" y="851" width="3" height="1" fill="#ff0000"/>
<rect x="565" y="850" width="3" height="1" fill="#ff0000"/>
<rect x="568" y="849" width="3" height="1" fill="#ff0000"/>
<rect x="571" y="848" width="3" height="1" fill="#ff0000"/>
<rect x="574" y="847" width="4" height="1" fill="#ff0000"/>
<rect x="578" y="846" width="3" height="1" fill="#ff0000"/>
<rect x="581" y="845" width="3" height="1" fill="#ff0000"/>
<rect x="584" y="844" width="4" height="1" fill="#ff0000"/>
<rect x="588" y="843" width="4" height="1" fill="#ff0000"/>
<rect x="592" y="842" width="3" height="1" fill="#ff0000"/>
<rect x="595" y="841" width="4" height="1" fill="#ff0000"/>
<rect x="599" y="840" width="3" height="1" fill="#ff0000"/>
<rect x="602" y="839" width="4" height="1" fill="#ff0000"/>
<rect x="606" y="838" width="4" height="1" fill="#ff0000"/>
<rect x="610" y="837" width="3" height="1" fill="#ff0000"/>
<rect x="613" y="836" width="4" height="1" fill="#ff0000"/>
<rect x="617" y="835" width="4" height="1" fill="#ff0000"/>
<rect x="621" y="834" width="4" height="1" fill="#ff0000"/>
<rect x="625" y="833" width="4" height="1" fill="#ff0000"/>
<rect x="629" y="832" width="5" height="1" fill="#ff0000"/>
<rect x="634" y="831" width="5" height="1" fill="#ff0000"/>
<rect x="639" y="830" width="6" height="1" fill="#ff0000"/>
<rect x="645" y="829" width="9" height="1" fill="#ff0000"/>
<rect x="654" y="828" width="33" height="1" fill="#ff0000"/>
<rect x="128" y="857" width="9" height="1" fill="#0000ff"/>
<rect x="137" y="856" width="5" height="1" fill="#0000ff"/>
<rect x="142" y="855" width="5" height="1" fill="#0000ff"/>
<rect x="147" y="854" width="5" height="1" fill="#0000ff"/>
<rect x="152" y="853" width="5" height="1" fill="#0000ff"/>
<rect x="157" y="852" width="5" height="1" fill="#0000ff"/>
<rect x="162" y="851" width="4" height="1" fill="#0000ff"/>
<rect x="166" y="850" width="5" height="1" fill="#0000ff"/>
<rect x="171" y="849" width="5" height="1" fill="#0000ff"/>
<rect x="176" y="848" width="5" height="1" fill="#0000ff"/>
<rect x="181" y="847" width="5" height="1" fill="#0000ff"/>
<rect x="186" y="846" width="4" height="1" fill="#0000ff"/>
<rect x="190" y="845" width="6" height="1" fill="#0000ff"/>
<rect x="196" y="844" width="5" height="1" fill="#0000ff"/>
<rect x="201" y="843" width="6" height="1" fill="#0000ff"/>
<rect x="207" y="842" width="8" height="1" fill="#0000ff"/>
<rect x="215" y="841" width="29" height="1" fill="#0000ff"/>
<rect x="244" y="842" width="7" height="1" fill="#0000ff"/>
<rect x="251" y="843" width="6" height="1" fill="#0000ff"/>
<rect x="257" y="844" width="5" height="1" fill="#0000ff"/>
<rect x="262" y="845" width="4" height="1" fill="#0000ff"/>
<rect x="266" y="846" width="5" height="1" fill="#0000ff"/>
<rect x="271" y="847" width="4" height="1" fill="#0000ff"/>
<rect x="275" y="848" width="5" height="1" fill="#0000ff"/>
<rect x="280" y="849" width="6" height="1" fill="#0000ff"/>
<rect x="286" y="850" width="6" height="1" fill="#0000ff"/>
<rect x="292" y="851" width="7" height="1" fill="#0000ff"/>
<rect x="299" y="852" width="13" height="1" fill="#0000ff"/>
<rect x="312" y="853" width="27" height="1" fill="#0000ff"/>
<rect x="339" y="852" width="21" height="1" fill="#0000ff"/>
<rect x="360" y="851" width="26" height="1" fill="#0000ff"/>
<rect x="386" y="852" width="6" height="1" fill="#0000ff"/>
<rect x="392" y="853" width="6" height="1" fill="#0000ff"/>
<rect x="398" y="854" width="26" height="1" fill="#0000ff"/>
<rect x="424" y="853" width="10" height="1" fill="#0000ff"/>
<rect x="434" y="852" width="8" height="1" fill="#0000ff"/>
<rect x="442" y="851" width="7" height="1" fill="#0000ff"/>
<rect x="449" y="850" width="9" height="1" fill="#0000ff"/>
<rect x="458" y="849" width="8" height="1" fill="#0000ff"/>
<rect x="466" y="848" width="8" height="1" fill="#0000ff"/>
<rect x="474" y="847" width="8" height="1" fill="#0000ff"/>
<rect x="482" y="846" width="10" height="1" fill="#0000ff"/>
<rect x="492" y="845" width="10" height="1" fill="#0000ff"/>
<rect x="502" y="844" width="14" height="1" fill="#0000ff"/>
<rect x="516" y="843" width="36" height="1" fill="#0000ff"/>
<rect x="552" y="844" width="15" height="1" fill="#0000ff"/>
<rect x="567" y="845" width="13" height="1" fill="#0000ff"/>
<rect x="580" y="846" width="14" height="1" fill="#0000ff"/>
<rect x="594" y="847" width="11" height="1" fill="#0000ff"/>
<rect x="605" y="848" width="10" height="1" fill="#0000ff"/>
<rect x="615" y="849" width="7" height="1" fill="#0000ff"/>
<rect x="622" y="850" width="7" height="1" fill="#0000ff"/>
<rect x="629" y="851" width="6" height="1" fill="#0000ff"/>
<rect x="635" y="852" width="7" height="1" fill="#0000ff"/>
<rect x="642" y="853" width="3" height="1" fill="#0000ff"/>
<rect x="645" y="854" width="4" height="1" fill="#0000ff"/>
<rect x="649" y="855" width="5" height="1" fill="#0000ff"/>
<rect x="654" y="856" width="5" height="1" fill="#0000ff"/>
<rect x="659" y="857" width="4" height="1" fill="#0000ff"/>
<rect x="663" y="858" width="5" height="1" fill="#0000ff"/>
<rect x="668" y="859" width="5" height="1" fill="#0000ff"/>
<rect x="673" y="860" width="14" height="1" fill="#0000ff"/>
<rect x="128" y="858" width="18" height="1" fill="#00ff00"/>
<rect x="146" y="857" width="66" height="1" fill="#00ff00"/>
<rect x="212" y="858" width="30" height="1" fill="#00ff00"/>
<rect x="242" y="859" width="13" height="1" fill="#00ff00"/>
<rect x="255" y="860" width="11" height="1" fill="#00ff00"/>
<rect x="266" y="861" width="9" height="1" fill="#00ff00"/>
<rect x="275" y="862" width="10" height="1" fill="#00ff00"/>
<rect x="285" y="863" width="9" height="1" fill="#00ff00"/>
<rect x="294" y="864" width="12" height="1" fill="#00ff00"/>
<rect x="306" y="865" width="17" height="1" fill="#00ff00"/>
<rect x="323" y="866" width="27" height="1" fill="#00ff00"/>
<rect x="350" y="865" width="13" height="1" fill="#00ff00"/>
<rect x="363" y="864" width="5" height="1" fill="#00ff00"/>
<rect x="368" y="863" width="6" height="1" fill="#00ff00"/>
<rect x="374" y="862" width="7" height="1" fill="#00ff00"/>
<rect x="381" y="861" width="1" height="1" fill="#00ff00"/>
<rect x="382" y="860" width="4" height="1" fill="#00ff00"/>
<rect x="386" y="859" width="3" height="1" fill="#00ff00"/>
<rect x="389" y="858" width="3" height="1" fill="#00ff00"/>
<rect x="392" y="857" width="3" height="1" fill="#00ff00"/>
<rect x="395" y="856" width="3" height="1" fill="#00ff00"/>
<rect x="398" y="855" width="35" height="1" fill="#00ff00"/>
<rect x="433" y="856" width="16" height="1" fill="#00ff00"/>
<rect x="449" y="857" width="18" height="1" fill="#00ff00"/>
<rect x="467" y="858" width="19" height="1" fill="#00ff00"/>
<rect x="486" y="859" width="22" height="1" fill="#00ff00"/>
<rect x="508" y="860" width="29" height="1" fill="#00ff00"/>
<rect x="537" y="861" width="95" height="1" fill="#00ff00"/>
<rect x="632" y="862" width="47" height="1" fill="#00ff00"/>
<rect x="679" y="861" width="4" height="1" fill="#00ff00"/>
<rect x="683" y="860" width="4" height="1" fill="#00ff00"/>
<rect x="128" y="828" width="21" height="1" fill="#000000"/>
<rect x="149" y="829" width="13" height="1" fill="#000000"/>
<rect x="162" y="830" width="8" height="1" fill="#000000"/>
<rect x="170" y="831" width="8" height="1" fill="#000000"/>
<rect x="178" y="832" width="7" height="1" fill="#000000"/>
<rect x="185" y="833" width="6" height="1" fill="#000000"/>
<rect x="191" y="834" width="6" height="1" fill="#000000"/>
<rect x="197" y="835" width="6" height="1" fill="#000000"/>
<rect x="203" y="836" width="5" height="1" fill="#000000"/>
<rect x="208" y="837" width="6" height="1" fill="#000000"/>
<rect x="214" y="838" width="6" height="1" fill="#000000"/>
<rect x="220" y="839" width="6" height="1" fill="#000000"/>
<rect x="226" y="840" width="9" height="1" fill="#000000"/>
<rect x="235" y="841" width="85" height="1" fill="#000000"/>
<rect x="320" y="840" width="15" height="1" fill="#000000"/>
<rect x="335" y="839" width="10" height="1" fill="#000000"/>
<rect x="345" y="838" width="8" height="1" fill="#000000"/>
<rect x="353" y="837" width="7" height="1" fill="#000000"/>
<rect x="360" y="836" width="6" height="1" fill="#000000"/>
<rect x="366" y="835" width="6" height="1" fill="#000000"/>
<rect x="372" y="834" width="7" height="1" fill="#000000"/>
<rect x="379" y="833" width="7" height="1" fill="#000000"/>
<rect x="386" y="832" width="7" height="1" fill="#000000"/>
<rect x="393" y="831" width="9" height="1" fill="#000000"/>
<rect x="402" y="830" width="32" height="1" fill="#000000"/>
<rect x="434" y="831" width="11" height="1" fill="#000000"/>
<rect x="445" y="832" width="8" height="1" fill="#000000"/>
<rect x="453" y="833" width="7" height="1" fill="#000000"/>
<rect x="460" y="834" width="7" height="1" fill="#000000"/>
<rect x="467" y="835" width="7" height="1" fill="#000000"/>
<rect x="474" y="836" width="6" height="1" fill="#000000"/>
<rect x="480" y="837" width="6" height="1" fill="#000000"/>
<rect x="486" y="838" width="6" height="1" fill="#000000"/>
<rect x="492" y="839" width="6" height="1" fill="#000000"/>
<rect x="498" y="840" width="8" height="1" fill="#000000"/>
<rect x="506" y="841" width="8" height="1" fill="#000000"/>
<rect x="514" y="842" width="10" height="1" fill="#000000"/>
<rect x="524" y="843" width="28" height="1" fill="#000000"/>
<rect x="552" y="842" width="11" height="1" fill="#000000"/>
<rect x="563" y="841" width="9" height="1" fill="#000000"/>
<rect x="572" y="840" width="7" height="1" fill="#000000"/>
<rect x="579" y="839" width="6" height="1" fill="#000000"/>
<rect x="585" y="838" width="6" height="1" fill="#000000"/>
<rect x="591" y="837" width="6" height="1" fill="#000000"/>
<rect x="597" y="836" width="5" height="1" fill="#000000"/>
<rect x="602" y="835" width="6" height="1" fill="#000000"/>
<rect x="608" y="834" width="5" height="1" fill="#000000"/>
<rect x="613" y="833" width="5" height="1" fill="#000000"/>
<rect x="618" y="832" width="6" height="1" fill="#000000"/>
<rect x="624" y="831" width="6" height="1" fill="#000000"/>
<rect x="630" y="830" width="8" height="1" fill="#000000"/>
<rect x="638" y="829" width="10" height="1" fill="#000000"/>
<rect x="648" y="828" width="39" height="1" fill="#000000"/>
<rect x="128" y="861" width="560" height="1" fill="#000"/>
<rect x="702" y="819" width="1" height="10" fill="#ff0000"/>
<rect x="703" y="828" width="1" height="1" fill="#ff0000"/>
<rect x="704" y="828" width="1" height="1" fill="#ff0000"/>
<rect x="705" y="828" width="1" height="1" fill="#ff0000"/>
<rect x="706" y="827" width="1" height="1" fill="#ff0000"/>
<rect x="707" y="825" width="1" height="2" fill="#ff0000"/>
<rect x="708" y="822" width="1" height="3" fill="#ff0000"/>
<rect x="707" y="820" width="1" height="2" fill="#ff0000"/>
<rect x="703" y="819" width="1" height="1" fill="#ff0000"/>
<rect x="704" y="819" width="1" height="1" fill="#ff0000"/>
<rect x="705" y="819" width="1" height="1" fill="#ff0000"/>
<rect x="706" y="819" width="1" height="1" fill="#ff0000"/>
<rect x="700" y="819" width="7" height="1" fill="#000"/>
<rect x="703" y="819" width="1" height="10" fill="#000"/>
<rect x="702" y="852" width="1" height="9" fill="#0000ff"/>
<rect x="703" y="853" width="1" height="1" fill="#0000ff"/>
<rect x="704" y="854" width="1" height="1" fill="#0000ff"/>
<rect x="705" y="855" width="1" height="2" fill="#0000ff"/>
<rect x="706" y="857" width="1" height="1" fill="#0000ff"/>
<rect x="707" y="858" width="1" height="2" fill="#0000ff"/>
<rect x="708" y="852" width="1" height="9" fill="#0000ff"/>
<rect x="702" y="851" width="1" height="10" fill="#00ff00"/>
<rect x="702" y="851" width="6" height="1" fill="#00ff00"/>
<rect x="702" y="855" width="4" height="1" fill="#00ff00"/>
<rect x="702" y="860" width="6" height="1" fill="#00ff00"/>
<path fill="none" stroke="#000" stroke-width="1" stroke-linecap="square" d="M156.5 14.5L156.5 24.5M156.5 14.5L160.5 14.5L162.5 14.5L162.5 15.5L162.5 16.5L162.5 17.5L162.5 18.5L162.5 19.5L160.5 19.5L156.5 19.5M166.5 14.5L166.5 24.5M166.5 14.5L170.5 14.5L171.5 14.5L172.5 15.5L172.5 16.5L172.5 17.5L172.5 18.5L171.5 18.5L170.5 19.5L166.5 19.5M169.5 19.5L172.5 24.5M175.5 14.5L175.5 24.5M175.5 14.5L182.5 14.5M175.5 19.5L179.5 19.5M175.5 24.5L182.5 24.5M184.5 14.5L184.5 24.5M184.5 24.5L190.5 24.5M192.5 14.5L192.5 24.5M196.5 14.5L196.5 24.5M196.5 14.5L200.5 24.5M203.5 14.5L200.5 24.5M203.5 14.5L203.5 24.5M207.5 14.5L207.5 24.5M211.5 14.5L211.5 24.5M211.5 14.5L217.5 24.5M217.5 14.5L217.5 24.5M223.5 14.5L220.5 24.5M223.5 14.5L227.5 24.5M221.5 21.5L226.5 21.5M229.5 14.5L229.5 24.5M229.5 14.5L233.5 14.5L235.5 14.5L235.5 15.5L236.5 16.5L236.5 17.5L235.5 18.5L233.5 19.5L229.5 19.5M233.5 19.5L236.5 24.5M238.5 14.5L241.5 19.5L241.5 24.5M245.5 14.5L241.5 19.5M255.5 14.5L255.5 24.5M255.5 14.5L261.5 14.5M255.5 19.5L258.5 19.5M255.5 24.5L261.5 24.5M264.5 14.5L264.5 24.5M264.5 24.5L269.5 24.5M271.5 14.5L271.5 24.5M271.5 14.5L277.5 14.5M271.5 19.5L275.5 19.5M280.5 14.5L280.5 24.5M284.5 14.5L284.5 24.5M284.5 14.5L290.5 24.5M290.5 14.5L290.5 24.5M294.5 20.5L302.5 20.5M306.5 14.5L306.5 24.5M306.5 14.5L310.5 14.5L311.5 14.5L312.5 15.5L312.5 16.5L312.5 17.5L312.5 18.5L311.5 18.5L310.5 19.5M306.5 19.5L310.5 19.5L311.5 19.5L312.5 20.5L312.5 21.5L312.5 22.5L312.5 23.5L311.5 24.5L310.5 24.5L306.5 24.5M323.5 14.5L323.5 24.5M323.5 14.5L329.5 14.5M323.5 19.5L327.5 19.5M323.5 24.5L329.5 24.5M332.5 14.5L332.5 24.5M332.5 14.5L336.5 14.5L337.5 14.5L338.5 15.5L338.5 16.5L338.5 17.5L338.5 18.5L337.5 19.5L336.5 19.5L332.5 19.5M341.5 14.5L341.5 24.5M341.5 14.5L345.5 14.5L346.5 14.5L347.5 15.5L347.5 16.5L348.5 18.5L348.5 20.5L347.5 22.5L347.5 23.5L346.5 24.5L345.5 24.5L341.5 24.5M351.5 14.5L351.5 24.5M351.5 14.5L357.5 14.5M351.5 19.5L355.5 19.5M351.5 24.5L357.5 24.5M361.5 24.5L360.5 24.5L360.5 23.5L361.5 24.5L360.5 25.5L360.5 26.5M377.5 17.5L377.5 24.5M377.5 19.5L376.5 18.5L375.5 17.5L374.5 17.5L373.5 18.5L372.5 19.5L372.5 20.5L372.5 21.5L372.5 23.5L373.5 24.5L374.5 24.5L375.5 24.5L376.5 24.5L377.5 23.5M381.5 14.5L381.5 24.5M385.5 14.5L385.5 22.5L386.5 24.5L387.5 24.5M384.5 17.5L387.5 17.5M390.5 18.5L398.5 18.5M390.5 21.5L398.5 21.5M406.5 14.5L402.5 21.5L409.5 21.5M406.5 14.5L406.5 24.5M417.5 14.5L412.5 14.5L411.5 18.5L412.5 18.5L413.5 17.5L415.5 17.5L416.5 18.5L417.5 19.5L418.5 20.5L418.5 21.5L417.5 23.5L416.5 24.5L415.5 24.5L413.5 24.5L412.5 24.5L411.5 23.5L411.5 22.5M421.5 16.5L421.5 15.5L422.5 14.5L423.5 14.5L424.5 14.5L425.5 14.5L426.5 15.5L426.5 16.5L426.5 17.5L426.5 18.5L425.5 19.5L420.5 24.5L427.5 24.5M430.5 14.5L430.5 24.5M435.5 17.5L430.5 22.5M432.5 20.5L435.5 24.5M438.5 17.5L438.5 24.5M438.5 19.5L439.5 18.5L440.5 17.5L442.5 17.5L443.5 18.5L443.5 19.5L443.5 24.5M443.5 19.5L444.5 18.5L445.5 17.5L447.5 17.5L448.5 18.5L448.5 19.5L448.5 24.5M453.5 24.5L452.5 24.5L452.5 23.5L453.5 24.5L452.5 25.5L452.5 26.5M464.5 16.5L464.5 15.5L465.5 14.5L466.5 14.5L468.5 14.5L469.5 14.5L469.5 15.5L469.5 16.5L469.5 17.5L469.5 18.5L468.5 19.5L463.5 24.5L470.5 24.5M475.5 14.5L474.5 14.5L473.5 16.5L473.5 18.5L473.5 20.5L473.5 22.5L474.5 24.5L475.5 24.5L476.5 24.5L478.5 24.5L479.5 22.5L479.5 20.5L479.5 18.5L479.5 16.5L478.5 14.5L476.5 14.5L475.5 14.5M482.5 16.5L483.5 15.5L483.5 14.5L484.5 14.5L486.5 14.5L487.5 14.5L488.5 15.5L488.5 16.5L488.5 17.5L488.5 18.5L487.5 19.5L482.5 24.5L488.5 24.5M494.5 14.5L493.5 14.5L492.5 16.5L491.5 18.5L491.5 20.5L492.5 22.5L493.5 24.5L494.5 24.5L495.5 24.5L496.5 24.5L497.5 22.5L498.5 20.5L498.5 18.5L497.5 16.5L496.5 14.5L495.5 14.5L494.5 14.5M501.5 20.5L509.5 20.5M515.5 14.5L514.5 14.5L513.5 16.5L513.5 18.5L513.5 20.5L513.5 22.5L514.5 24.5L515.5 24.5L516.5 24.5L518.5 24.5L519.5 22.5L519.5 20.5L519.5 18.5L519.5 16.5L518.5 14.5L516.5 14.5L515.5 14.5M528.5 15.5L527.5 14.5L526.5 14.5L525.5 14.5L524.5 14.5L523.5 16.5L522.5 18.5L522.5 21.5L523.5 23.5L524.5 24.5L525.5 24.5L526.5 24.5L527.5 24.5L528.5 23.5L528.5 21.5L528.5 19.5L527.5 18.5L526.5 18.5L525.5 18.5L524.5 18.5L523.5 19.5L522.5 21.5M532.5 20.5L540.5 20.5M545.5 16.5L545.5 15.5L547.5 14.5L547.5 24.5M559.5 14.5L554.5 24.5M552.5 14.5L559.5 14.5M572.5 14.5L571.5 14.5L570.5 16.5L569.5 18.5L569.5 20.5L570.5 22.5L571.5 24.5L572.5 24.5L573.5 24.5L574.5 24.5L575.5 22.5L576.5 20.5L576.5 18.5L575.5 16.5L574.5 14.5L573.5 14.5L572.5 14.5M580.5 16.5L581.5 15.5L582.5 14.5L582.5 24.5M589.5 17.5L588.5 18.5L589.5 18.5L589.5 17.5M589.5 23.5L588.5 24.5L589.5 24.5L589.5 23.5M595.5 14.5L594.5 14.5L593.5 16.5L592.5 18.5L592.5 20.5L593.5 22.5L594.5 24.5L595.5 24.5L596.5 24.5L597.5 24.5L598.5 22.5L599.5 20.5L599.5 18.5L598.5 16.5L597.5 14.5L596.5 14.5L595.5 14.5M604.5 14.5L603.5 14.5L602.5 16.5L602.5 18.5L602.5 20.5L602.5 22.5L603.5 24.5L604.5 24.5L605.5 24.5L607.5 24.5L608.5 22.5L608.5 20.5L608.5 18.5L608.5 16.5L607.5 14.5L605.5 14.5L604.5 14.5M619.5 14.5L619.5 22.5L620.5 24.5L621.5 24.5L622.5 24.5M618.5 17.5L621.5 17.5M626.5 17.5L625.5 18.5L624.5 19.5L624.5 20.5L624.5 21.5L624.5 23.5L625.5 24.5L626.5 24.5L628.5 24.5L629.5 23.5L630.5 21.5L630.5 20.5L629.5 19.5L628.5 18.5L628.5 17.5L626.5 17.5M643.5 14.5L641.5 14.5L641.5 16.5L640.5 18.5L640.5 20.5L641.5 22.5L641.5 24.5L643.5 24.5L644.5 24.5L645.5 24.5L646.5 22.5L647.5 20.5L647.5 18.5L646.5 16.5L645.5 14.5L644.5 14.5L643.5 14.5M650.5 16.5L650.5 15.5L651.5 14.5L652.5 14.5L653.5 14.5L654.5 14.5L655.5 15.5L655.5 16.5L655.5 17.5L655.5 18.5L654.5 19.5L649.5 24.5L656.5 24.5M660.5 17.5L659.5 18.5L660.5 18.5L660.5 17.5M660.5 23.5L659.5 24.5L660.5 24.5L660.5 23.5M664.5 14.5L669.5 14.5L666.5 18.5L668.5 18.5L669.5 18.5L669.5 19.5L670.5 20.5L670.5 21.5L669.5 23.5L668.5 24.5L667.5 24.5L666.5 24.5L664.5 24.5L664.5 23.5L663.5 22.5M675.5 14.5L674.5 14.5L673.5 16.5L673.5 18.5L673.5 20.5L673.5 22.5L674.5 24.5L675.5 24.5L676.5 24.5L678.5 24.5L679.5 22.5L679.5 20.5L679.5 18.5L679.5 16.5L678.5 14.5L676.5 14.5L675.5 14.5M100.5 37.5L101.5 36.5L101.5 35.5L102.5 35.5L104.5 35.5L105.5 36.5L105.5 37.5L105.5 38.5L104.5 39.5L100.5 43.5L106.5 43.5M113.5 35.5L109.5 35.5L109.5 38.5L110.5 38.5L111.5 38.5L113.5 38.5L113.5 39.5L114.5 40.5L114.5 41.5L113.5 42.5L113.5 43.5L111.5 43.5L110.5 43.5L109.5 43.5L109.5 42.5L108.5 41.5M119.5 35.5L118.5 35.5L117.5 37.5L116.5 38.5L116.5 40.5L117.5 41.5L118.5 43.5L119.5 43.5L120.5 43.5L121.5 43.5L122.5 41.5L122.5 40.5L122.5 38.5L122.5 37.5L121.5 35.5L120.5 35.5L119.5 35.5M100.5 50.5L101.5 49.5L101.5 48.5L102.5 48.5L104.5 48.5L105.5 49.5L105.5 50.5L105.5 51.5L104.5 53.5L100.5 57.5L106.5 57.5M111.5 48.5L109.5 48.5L109.5 50.5L108.5 52.5L108.5 53.5L109.5 55.5L109.5 57.5L111.5 57.5L113.5 57.5L113.5 55.5L114.5 53.5L114.5 52.5L113.5 50.5L113.5 48.5L111.5 48.5M119.5 48.5L118.5 48.5L117.5 50.5L116.5 52.5L116.5 53.5L117.5 55.5L118.5 57.5L119.5 57.5L120.5 57.5L121.5 57.5L122.5 55.5L122.5 53.5L122.5 52.5L122.5 50.5L121.5 48.5L120.5 48.5L119.5 48.5M101.5 67.5L102.5 66.5L103.5 65.5L103.5 74.5M113.5 65.5L109.5 65.5L108.5 69.5L109.5 68.5L110.5 68.5L111.5 68.5L113.5 68.5L113.5 69.5L114.5 71.5L113.5 73.5L113.5 74.5L111.5 74.5L110.5 74.5L109.5 74.5L108.5 73.5L108.5 72.5M119.5 65.5L117.5 65.5L117.5 67.5L116.5 69.5L116.5 70.5L117.5 72.5L117.5 74.5L119.5 74.5L120.5 74.5L121.5 74.5L122.5 72.5L122.5 70.5L122.5 69.5L122.5 67.5L121.5 65.5L120.5 65.5L119.5 65.5M101.5 84.5L102.5 83.5L103.5 82.5L103.5 90.5M110.5 82.5L109.5 82.5L108.5 84.5L108.5 85.5L108.5 87.5L108.5 88.5L109.5 90.5L110.5 90.5L111.5 90.5L113.5 90.5L113.5 88.5L114.5 87.5L114.5 85.5L113.5 84.5L113.5 82.5L111.5 82.5L110.5 82.5M119.5 82.5L117.5 82.5L117.5 84.5L116.5 85.5L116.5 87.5L117.5 88.5L117.5 90.5L119.5 90.5L120.5 90.5L121.5 90.5L122.5 88.5L122.5 87.5L122.5 85.5L122.5 84.5L121.5 82.5L120.5 82.5L119.5 82.5M113.5 98.5L109.5 98.5L108.5 102.5L109.5 101.5L110.5 101.5L111.5 101.5L113.5 101.5L113.5 102.5L114.5 104.5L113.5 106.5L113.5 107.5L111.5 107.5L110.5 107.5L109.5 107.5L108.5 106.5L108.5 105.5M119.5 98.5L117.5 98.5L117.5 100.5L116.5 102.5L116.5 103.5L117.5 105.5L117.5 107.5L119.5 107.5L120.5 107.5L121.5 107.5L122.5 105.5L122.5 103.5L122.5 102.5L122.5 100.5L121.5 98.5L120.5 98.5L119.5 98.5M119.5 110.5L117.5 110.5L116.5 112.5L116.5 114.5L116.5 115.5L116.5 117.5L117.5 119.5L119.5 119.5L121.5 119.5L122.5 117.5L122.5 115.5L122.5 114.5L122.5 112.5L121.5 110.5L119.5 110.5M69.5 105.5L78.5 105.5M70.5 105.5L69.5 104.5L69.5 103.5L69.5 102.5L69.5 101.5L70.5 100.5L72.5 100.5L74.5 100.5L75.5 101.5L75.5 102.5L75.5 103.5L75.5 104.5L74.5 105.5M69.5 97.5L75.5 97.5M72.5 97.5L70.5 96.5L69.5 95.5L69.5 93.5M69.5 90.5L70.5 91.5L72.5 92.5L74.5 91.5L75.5 90.5L75.5 88.5L75.5 87.5L74.5 87.5L72.5 86.5L70.5 87.5L69.5 87.5L69.5 88.5L69.5 90.5M69.5 84.5L75.5 79.5M69.5 79.5L75.5 84.5M69.5 77.5L75.5 74.5M69.5 72.5L75.5 74.5L77.5 75.5L78.5 76.5L78.5 77.5M75.5 71.5L75.5 64.5M69.5 58.5L75.5 58.5M70.5 58.5L69.5 59.5L69.5 60.5L69.5 61.5L69.5 62.5L70.5 62.5L72.5 63.5L74.5 62.5L75.5 62.5L75.5 61.5L75.5 60.5L75.5 59.5L74.5 58.5M72.5 55.5L72.5 50.5L71.5 50.5L70.5 50.5L69.5 51.5L69.5 53.5L69.5 54.5L70.5 54.5L72.5 55.5L74.5 54.5L75.5 54.5L75.5 53.5L75.5 51.5L74.5 50.5M76.5 89.5L90.5 89.5M76.5 89.5L90.5 89.5M76.5 89.5L76.5 86.5M90.5 89.5L90.5 86.5M81.5 83.5L87.5 83.5M83.5 83.5L81.5 82.5L81.5 81.5L81.5 80.5L81.5 79.5L83.5 79.5L87.5 79.5M78.5 73.5L87.5 73.5M78.5 76.5L78.5 70.5M76.5 66.5L90.5 66.5M76.5 66.5L90.5 66.5M76.5 69.5L76.5 66.5M90.5 69.5L90.5 66.5M702.5 54.5L702.5 63.5M702.5 55.5L703.5 54.5L704.5 54.5L705.5 54.5L706.5 54.5L707.5 55.5L707.5 57.5L707.5 59.5L706.5 60.5L705.5 60.5L704.5 60.5L703.5 60.5L702.5 59.5M710.5 54.5L710.5 60.5M710.5 57.5L711.5 55.5L712.5 54.5L714.5 54.5M718.5 54.5L717.5 54.5L716.5 55.5L715.5 57.5L716.5 59.5L717.5 60.5L718.5 60.5L719.5 60.5L720.5 60.5L721.5 59.5L721.5 57.5L721.5 55.5L720.5 54.5L719.5 54.5L718.5 54.5M724.5 54.5L729.5 60.5M729.5 54.5L724.5 60.5M731.5 54.5L733.5 60.5M736.5 54.5L733.5 60.5L732.5 62.5L732.5 63.5L731.5 63.5L730.5 63.5M737.5 60.5L744.5 60.5M748.5 51.5L744.5 60.5M748.5 51.5L751.5 60.5M746.5 57.5L750.5 57.5M753.5 51.5L753.5 60.5M753.5 51.5L759.5 51.5M753.5 55.5L757.5 55.5M753.5 60.5L759.5 60.5M96.5 176.5L97.5 175.5L98.5 174.5L98.5 182.5M105.5 174.5L104.5 174.5L103.5 176.5L102.5 177.5L102.5 179.5L103.5 180.5L104.5 182.5L105.5 182.5L106.5 182.5L107.5 182.5L107.5 180.5L108.5 179.5L108.5 177.5L107.5 176.5L107.5 174.5L106.5 174.5L105.5 174.5M112.5 174.5L111.5 174.5L110.5 176.5L110.5 177.5L110.5 179.5L110.5 180.5L111.5 182.5L112.5 182.5L113.5 182.5L114.5 182.5L115.5 180.5L115.5 179.5L115.5 177.5L115.5 176.5L114.5 174.5L113.5 174.5L112.5 174.5M120.5 174.5L119.5 174.5L118.5 176.5L118.5 177.5L118.5 179.5L118.5 180.5L119.5 182.5L120.5 182.5L121.5 182.5L122.5 182.5L123.5 180.5L123.5 179.5L123.5 177.5L123.5 176.5L122.5 174.5L121.5 174.5L120.5 174.5M104.5 217.5L105.5 216.5L106.5 215.5L106.5 223.5M113.5 215.5L111.5 215.5L111.5 217.5L110.5 218.5L110.5 220.5L111.5 221.5L111.5 223.5L113.5 223.5L114.5 223.5L115.5 221.5L116.5 220.5L116.5 218.5L115.5 217.5L114.5 215.5L113.5 215.5M120.5 215.5L119.5 215.5L118.5 217.5L118.5 218.5L118.5 220.5L118.5 221.5L119.5 223.5L120.5 223.5L121.5 223.5L122.5 223.5L123.5 221.5L123.5 220.5L123.5 218.5L123.5 217.5L122.5 215.5L121.5 215.5L120.5 215.5M26.5 194.5L26.5 189.5L25.5 189.5L24.5 190.5L24.5 191.5L24.5 192.5L24.5 193.5L25.5 194.5L26.5 194.5L27.5 194.5L28.5 194.5L29.5 193.5L29.5 192.5L29.5 191.5L29.5 190.5L28.5 189.5M21.5 187.5L29.5 187.5M21.5 184.5L29.5 184.5M25.5 184.5L24.5 183.5L24.5 182.5L24.5 181.5L24.5 180.5L25.5 180.5L26.5 179.5L27.5 179.5L28.5 180.5L29.5 180.5L29.5 181.5L29.5 182.5L29.5 183.5L28.5 184.5M35.5 194.5L43.5 194.5M36.5 194.5L35.5 194.5L35.5 193.5L35.5 192.5L35.5 191.5L36.5 190.5L37.5 190.5L38.5 190.5L39.5 190.5L40.5 191.5L40.5 192.5L40.5 193.5L40.5 194.5L39.5 194.5M37.5 188.5L37.5 183.5L36.5 183.5L35.5 183.5L35.5 184.5L35.5 185.5L35.5 186.5L36.5 187.5L37.5 188.5L38.5 188.5L39.5 187.5L40.5 186.5L40.5 185.5L40.5 184.5L39.5 183.5M32.5 178.5L32.5 179.5L32.5 180.5L34.5 180.5L40.5 180.5M35.5 181.5L35.5 178.5M48.5 193.5L48.5 188.5L47.5 188.5L46.5 188.5L46.5 189.5L46.5 191.5L47.5 192.5L48.5 193.5L49.5 193.5L50.5 192.5L51.5 191.5L51.5 189.5L50.5 188.5M46.5 185.5L51.5 185.5M47.5 185.5L46.5 184.5L46.5 183.5L46.5 182.5L46.5 181.5L47.5 181.5L51.5 181.5M58.5 210.5L57.5 210.5L57.5 211.5L57.5 213.5L57.5 214.5L58.5 214.5L59.5 214.5L59.5 213.5L59.5 211.5L60.5 210.5L61.5 210.5L62.5 210.5L62.5 211.5L62.5 213.5L62.5 214.5L61.5 214.5M57.5 207.5L65.5 207.5M58.5 207.5L57.5 206.5L57.5 205.5L57.5 204.5L58.5 203.5L59.5 203.5L60.5 203.5L61.5 203.5L62.5 204.5L62.5 205.5L62.5 206.5L61.5 207.5M59.5 200.5L59.5 196.5L58.5 196.5L57.5 196.5L57.5 197.5L57.5 198.5L57.5 199.5L58.5 200.5L59.5 200.5L60.5 200.5L61.5 200.5L62.5 199.5L62.5 198.5L62.5 197.5L61.5 196.5M58.5 189.5L57.5 190.5L57.5 192.5L58.5 193.5L59.5 193.5L60.5 193.5L61.5 193.5L62.5 192.5L62.5 190.5L61.5 189.5M56.5 186.5L55.5 186.5L54.5 185.5L54.5 183.5L54.5 182.5L55.5 182.5L56.5 182.5L57.5 182.5L58.5 183.5L62.5 187.5L62.5 181.5M57.5 179.5L65.5 179.5M58.5 179.5L57.5 178.5L57.5 177.5L57.5 176.5L57.5 175.5L58.5 174.5L59.5 174.5L60.5 174.5L61.5 174.5L62.5 175.5L62.5 176.5L62.5 177.5L62.5 178.5L61.5 179.5M54.5 171.5L62.5 171.5M57.5 167.5L57.5 168.5L58.5 168.5L59.5 169.5L60.5 169.5L61.5 168.5L62.5 168.5L62.5 167.5L62.5 166.5L62.5 165.5L61.5 164.5L60.5 164.5L59.5 164.5L58.5 164.5L57.5 165.5L57.5 166.5L57.5 167.5M54.5 161.5L60.5 161.5L62.5 160.5L62.5 159.5M57.5 162.5L57.5 159.5M67.5 198.5L67.5 199.5L68.5 200.5L69.5 200.5L70.5 200.5L71.5 200.5L72.5 199.5L72.5 198.5L72.5 197.5L72.5 196.5L71.5 195.5L70.5 195.5L69.5 195.5L68.5 195.5L67.5 196.5L67.5 197.5L67.5 198.5M67.5 192.5L72.5 192.5M68.5 192.5L67.5 191.5L67.5 190.5L67.5 189.5L68.5 188.5L72.5 188.5M68.5 188.5L67.5 187.5L67.5 186.5L67.5 185.5L67.5 184.5L68.5 184.5L72.5 184.5M67.5 181.5L72.5 181.5M68.5 181.5L67.5 180.5L67.5 179.5L67.5 178.5L67.5 177.5L68.5 177.5L72.5 177.5M64.5 174.5L64.5 173.5L64.5 174.5M67.5 174.5L72.5 174.5M73.5 201.5L86.5 201.5M73.5 200.5L86.5 200.5M73.5 201.5L73.5 198.5M86.5 201.5L86.5 198.5M75.5 195.5L83.5 195.5M78.5 191.5L81.5 195.5M80.5 194.5L83.5 191.5M80.5 189.5L80.5 185.5L79.5 185.5L78.5 185.5L78.5 186.5L78.5 187.5L78.5 188.5L79.5 189.5L80.5 189.5L81.5 189.5L82.5 189.5L83.5 188.5L83.5 187.5L83.5 186.5L83.5 185.5L82.5 185.5M75.5 183.5L83.5 180.5M75.5 177.5L83.5 180.5M73.5 173.5L86.5 173.5M73.5 173.5L86.5 173.5M73.5 175.5L73.5 173.5M86.5 175.5L86.5 173.5M96.5 261.5L97.5 260.5L98.5 259.5L98.5 267.5M105.5 259.5L104.5 259.5L103.5 261.5L102.5 262.5L102.5 264.5L103.5 265.5L104.5 267.5L105.5 267.5L106.5 267.5L107.5 267.5L107.5 265.5L108.5 264.5L108.5 262.5L107.5 261.5L107.5 259.5L106.5 259.5L105.5 259.5M112.5 259.5L111.5 259.5L110.5 261.5L110.5 262.5L110.5 264.5L110.5 265.5L111.5 267.5L112.5 267.5L113.5 267.5L114.5 267.5L115.5 265.5L115.5 264.5L115.5 262.5L115.5 261.5L114.5 259.5L113.5 259.5L112.5 259.5M120.5 259.5L119.5 259.5L118.5 261.5L118.5 262.5L118.5 264.5L118.5 265.5L119.5 267.5L120.5 267.5L121.5 267.5L122.5 267.5L123.5 265.5L123.5 264.5L123.5 262.5L123.5 261.5L122.5 259.5L121.5 259.5L120.5 259.5M104.5 302.5L105.5 301.5L106.5 300.5L106.5 308.5M113.5 300.5L111.5 300.5L111.5 302.5L110.5 303.5L110.5 305.5L111.5 306.5L111.5 308.5L113.5 308.5L114.5 308.5L115.5 306.5L116.5 305.5L116.5 303.5L115.5 302.5L114.5 300.5L113.5 300.5M120.5 300.5L119.5 300.5L118.5 302.5L118.5 303.5L118.5 305.5L118.5 306.5L119.5 308.5L120.5 308.5L121.5 308.5L122.5 308.5L123.5 306.5L123.5 305.5L123.5 303.5L123.5 302.5L122.5 300.5L121.5 300.5L120.5 300.5M26.5 278.5L26.5 274.5L25.5 274.5L24.5 274.5L24.5 275.5L24.5 276.5L24.5 277.5L25.5 278.5L26.5 278.5L27.5 278.5L28.5 278.5L29.5 277.5L29.5 276.5L29.5 275.5L29.5 274.5L28.5 274.5M21.5 271.5L29.5 271.5M21.5 268.5L29.5 268.5M25.5 268.5L24.5 267.5L24.5 266.5L24.5 265.5L25.5 264.5L26.5 263.5L27.5 263.5L28.5 264.5L29.5 265.5L29.5 266.5L29.5 267.5L28.5 268.5M35.5 279.5L43.5 279.5M36.5 279.5L35.5 278.5L35.5 277.5L35.5 276.5L35.5 275.5L36.5 274.5L37.5 274.5L38.5 274.5L39.5 274.5L40.5 275.5L40.5 276.5L40.5 277.5L40.5 278.5L39.5 279.5M37.5 272.5L37.5 267.5L36.5 267.5L35.5 268.5L35.5 269.5L35.5 270.5L35.5 271.5L36.5 271.5L37.5 272.5L38.5 272.5L39.5 271.5L40.5 271.5L40.5 270.5L40.5 269.5L40.5 268.5L39.5 267.5M32.5 262.5L32.5 263.5L32.5 264.5L34.5 264.5L40.5 264.5M35.5 265.5L35.5 263.5M48.5 277.5L48.5 272.5L47.5 272.5L46.5 273.5L46.5 274.5L46.5 275.5L46.5 276.5L47.5 276.5L48.5 277.5L49.5 277.5L50.5 276.5L51.5 276.5L51.5 275.5L51.5 274.5L51.5 273.5L50.5 272.5M46.5 270.5L51.5 270.5M47.5 270.5L46.5 268.5L46.5 266.5L47.5 265.5L51.5 265.5M58.5 294.5L57.5 294.5L57.5 296.5L57.5 297.5L57.5 298.5L58.5 298.5L59.5 298.5L59.5 297.5L59.5 295.5L60.5 294.5L61.5 294.5L62.5 294.5L62.5 296.5L62.5 297.5L62.5 298.5L61.5 298.5M57.5 291.5L65.5 291.5M58.5 291.5L57.5 291.5L57.5 290.5L57.5 289.5L57.5 288.5L58.5 287.5L59.5 287.5L60.5 287.5L61.5 287.5L62.5 288.5L62.5 289.5L62.5 290.5L62.5 291.5L61.5 291.5M59.5 285.5L59.5 280.5L58.5 280.5L57.5 280.5L57.5 281.5L57.5 282.5L57.5 283.5L58.5 284.5L59.5 285.5L60.5 285.5L61.5 284.5L62.5 283.5L62.5 282.5L62.5 281.5L61.5 280.5M58.5 273.5L57.5 274.5L57.5 275.5L57.5 276.5L57.5 277.5L58.5 277.5L59.5 278.5L60.5 278.5L61.5 277.5L62.5 277.5L62.5 276.5L62.5 275.5L62.5 274.5L61.5 273.5M56.5 270.5L55.5 270.5L54.5 270.5L54.5 269.5L54.5 267.5L55.5 266.5L56.5 266.5L57.5 266.5L58.5 267.5L62.5 271.5L62.5 266.5M57.5 263.5L65.5 263.5M58.5 263.5L57.5 262.5L57.5 261.5L57.5 260.5L57.5 259.5L58.5 259.5L59.5 258.5L60.5 258.5L61.5 259.5L62.5 259.5L62.5 260.5L62.5 261.5L62.5 262.5L61.5 263.5M54.5 256.5L62.5 256.5M57.5 251.5L57.5 252.5L58.5 253.5L59.5 253.5L60.5 253.5L61.5 253.5L62.5 252.5L62.5 251.5L62.5 250.5L62.5 249.5L61.5 248.5L60.5 248.5L59.5 248.5L58.5 248.5L57.5 249.5L57.5 250.5L57.5 251.5M54.5 245.5L60.5 245.5L62.5 245.5L62.5 244.5L62.5 243.5M57.5 246.5L57.5 243.5M67.5 276.5L72.5 276.5M68.5 276.5L67.5 277.5L67.5 278.5L67.5 279.5L67.5 280.5L68.5 280.5L69.5 281.5L70.5 281.5L71.5 280.5L72.5 280.5L72.5 279.5L72.5 278.5L72.5 277.5L71.5 276.5M67.5 273.5L72.5 273.5M68.5 273.5L67.5 272.5L67.5 271.5L67.5 270.5L67.5 269.5L68.5 269.5L72.5 269.5M64.5 266.5L70.5 266.5L72.5 265.5L72.5 264.5M67.5 267.5L67.5 264.5M64.5 262.5L64.5 261.5L64.5 262.5M67.5 261.5L72.5 261.5M73.5 285.5L86.5 285.5M73.5 284.5L86.5 284.5M73.5 285.5L73.5 282.5M86.5 285.5L86.5 282.5M75.5 279.5L83.5 279.5M78.5 276.5L81.5 279.5M80.5 278.5L83.5 275.5M80.5 273.5L80.5 269.5L79.5 269.5L78.5 269.5L78.5 270.5L78.5 271.5L78.5 272.5L79.5 273.5L80.5 273.5L81.5 273.5L82.5 273.5L83.5 272.5L83.5 271.5L83.5 270.5L82.5 269.5M75.5 267.5L83.5 264.5M75.5 261.5L83.5 264.5M73.5 257.5L86.5 257.5M73.5 257.5L86.5 257.5M73.5 260.5L73.5 257.5M86.5 260.5L86.5 257.5M96.5 345.5L97.5 344.5L98.5 343.5L98.5 351.5M105.5 343.5L104.5 343.5L103.5 345.5L102.5 346.5L102.5 348.5L103.5 349.5L104.5 351.5L105.5 351.5L106.5 351.5L107.5 351.5L107.5 349.5L108.5 348.5L108.5 346.5L107.5 345.5L107.5 343.5L106.5 343.5L105.5 343.5M112.5 343.5L111.5 343.5L110.5 345.5L110.5 346.5L110.5 348.5L110.5 349.5L111.5 351.5L112.5 351.5L113.5 351.5L114.5 351.5L115.5 349.5L115.5 348.5L115.5 346.5L115.5 345.5L114.5 343.5L113.5 343.5L112.5 343.5M120.5 343.5L119.5 343.5L118.5 345.5L118.5 346.5L118.5 348.5L118.5 349.5L119.5 351.5L120.5 351.5L121.5 351.5L122.5 351.5L123.5 349.5L123.5 348.5L123.5 346.5L123.5 345.5L122.5 343.5L121.5 343.5L120.5 343.5M104.5 386.5L105.5 385.5L106.5 384.5L106.5 392.5M113.5 384.5L111.5 384.5L111.5 386.5L110.5 387.5L110.5 389.5L111.5 390.5L111.5 392.5L113.5 392.5L114.5 392.5L115.5 390.5L116.5 389.5L116.5 387.5L115.5 386.5L114.5 384.5L113.5 384.5M120.5 384.5L119.5 384.5L118.5 386.5L118.5 387.5L118.5 389.5L118.5 390.5L119.5 392.5L120.5 392.5L121.5 392.5L122.5 392.5L123.5 390.5L123.5 389.5L123.5 387.5L123.5 386.5L122.5 384.5L121.5 384.5L120.5 384.5M26.5 363.5L26.5 358.5L25.5 358.5L24.5 358.5L24.5 359.5L24.5 360.5L24.5 361.5L25.5 362.5L26.5 363.5L27.5 363.5L28.5 362.5L29.5 361.5L29.5 360.5L29.5 359.5L28.5 358.5M21.5 355.5L29.5 355.5M21.5 352.5L29.5 352.5M25.5 352.5L24.5 352.5L24.5 351.5L24.5 350.5L24.5 349.5L25.5 348.5L26.5 348.5L27.5 348.5L28.5 348.5L29.5 349.5L29.5 350.5L29.5 351.5L29.5 352.5L28.5 352.5M35.5 363.5L43.5 363.5M36.5 363.5L35.5 362.5L35.5 361.5L35.5 360.5L36.5 359.5L37.5 358.5L38.5 358.5L39.5 359.5L40.5 360.5L40.5 361.5L40.5 362.5L39.5 363.5M37.5 356.5L37.5 352.5L36.5 352.5L35.5 352.5L35.5 353.5L35.5 354.5L35.5 355.5L36.5 356.5L37.5 356.5L38.5 356.5L39.5 356.5L40.5 355.5L40.5 354.5L40.5 353.5L40.5 352.5L39.5 352.5M32.5 347.5L32.5 348.5L34.5 348.5L40.5 348.5M35.5 350.5L35.5 347.5M48.5 361.5L48.5 356.5L47.5 356.5L46.5 357.5L46.5 358.5L46.5 359.5L46.5 360.5L47.5 361.5L48.5 361.5L49.5 361.5L50.5 361.5L51.5 360.5L51.5 359.5L51.5 358.5L51.5 357.5L50.5 356.5M46.5 354.5L51.5 354.5M47.5 354.5L46.5 353.5L46.5 352.5L46.5 351.5L46.5 350.5L47.5 350.5L51.5 350.5M58.5 378.5L57.5 379.5L57.5 380.5L57.5 381.5L57.5 382.5L58.5 383.5L59.5 382.5L59.5 381.5L59.5 380.5L60.5 379.5L60.5 378.5L61.5 378.5L62.5 379.5L62.5 380.5L62.5 381.5L62.5 382.5L61.5 383.5M57.5 376.5L65.5 376.5M58.5 376.5L57.5 375.5L57.5 374.5L57.5 373.5L57.5 372.5L58.5 372.5L59.5 371.5L60.5 371.5L61.5 372.5L62.5 372.5L62.5 373.5L62.5 374.5L62.5 375.5L61.5 376.5M59.5 369.5L59.5 364.5L58.5 364.5L57.5 365.5L57.5 366.5L57.5 367.5L57.5 368.5L58.5 368.5L59.5 369.5L60.5 369.5L61.5 368.5L62.5 368.5L62.5 367.5L62.5 366.5L62.5 365.5L61.5 364.5M58.5 357.5L57.5 358.5L57.5 359.5L57.5 360.5L57.5 361.5L58.5 362.5L59.5 362.5L60.5 362.5L61.5 362.5L62.5 361.5L62.5 360.5L62.5 359.5L62.5 358.5L61.5 357.5M56.5 355.5L55.5 354.5L54.5 354.5L54.5 353.5L54.5 352.5L54.5 351.5L55.5 351.5L56.5 350.5L57.5 351.5L58.5 351.5L62.5 355.5L62.5 350.5M57.5 347.5L65.5 347.5M58.5 347.5L57.5 346.5L57.5 344.5L58.5 343.5L59.5 343.5L60.5 343.5L61.5 343.5L62.5 344.5L62.5 346.5L61.5 347.5M54.5 340.5L62.5 340.5M57.5 335.5L57.5 336.5L58.5 337.5L59.5 337.5L60.5 337.5L61.5 337.5L62.5 336.5L62.5 335.5L62.5 334.5L62.5 333.5L61.5 333.5L60.5 332.5L59.5 332.5L58.5 333.5L57.5 333.5L57.5 334.5L57.5 335.5M54.5 329.5L60.5 329.5L62.5 329.5L62.5 328.5L62.5 327.5M57.5 330.5L57.5 328.5M67.5 367.5L75.5 367.5M68.5 367.5L67.5 366.5L67.5 365.5L67.5 364.5L67.5 363.5L68.5 363.5L69.5 362.5L70.5 362.5L71.5 363.5L72.5 363.5L72.5 364.5L72.5 365.5L72.5 366.5L71.5 367.5M69.5 360.5L69.5 355.5L68.5 355.5L67.5 356.5L67.5 357.5L67.5 358.5L67.5 359.5L68.5 360.5L69.5 360.5L70.5 360.5L71.5 360.5L72.5 359.5L72.5 358.5L72.5 357.5L72.5 356.5L71.5 355.5M67.5 353.5L72.5 353.5M69.5 353.5L68.5 352.5L67.5 352.5L67.5 351.5L67.5 350.5M67.5 348.5L75.5 348.5M68.5 348.5L67.5 347.5L67.5 346.5L67.5 345.5L67.5 344.5L68.5 344.5L69.5 343.5L70.5 343.5L71.5 344.5L72.5 344.5L72.5 345.5L72.5 346.5L72.5 347.5L71.5 348.5M73.5 369.5L86.5 369.5M73.5 369.5L86.5 369.5M73.5 369.5L73.5 366.5M86.5 369.5L86.5 366.5M75.5 364.5L83.5 364.5M78.5 360.5L81.5 364.5M80.5 362.5L83.5 360.5M80.5 358.5L80.5 353.5L79.5 353.5L78.5 353.5L78.5 354.5L78.5 355.5L78.5 356.5L79.5 357.5L80.5 358.5L81.5 358.5L82.5 357.5L83.5 356.5L83.5 355.5L83.5 354.5L82.5 353.5M75.5 352.5L83.5 348.5M75.5 345.5L83.5 348.5M73.5 342.5L86.5 342.5M73.5 341.5L86.5 341.5M73.5 344.5L73.5 341.5M86.5 344.5L86.5 341.5M96.5 429.5L97.5 428.5L98.5 427.5L98.5 435.5M105.5 427.5L104.5 427.5L103.5 429.5L102.5 430.5L102.5 432.5L103.5 433.5L104.5 435.5L105.5 435.5L106.5 435.5L107.5 435.5L107.5 433.5L108.5 432.5L108.5 430.5L107.5 429.5L107.5 427.5L106.5 427.5L105.5 427.5M112.5 427.5L111.5 427.5L110.5 429.5L110.5 430.5L110.5 432.5L110.5 433.5L111.5 435.5L112.5 435.5L113.5 435.5L114.5 435.5L115.5 433.5L115.5 432.5L115.5 430.5L115.5 429.5L114.5 427.5L113.5 427.5L112.5 427.5M120.5 427.5L119.5 427.5L118.5 429.5L118.5 430.5L118.5 432.5L118.5 433.5L119.5 435.5L120.5 435.5L121.5 435.5L122.5 435.5L123.5 433.5L123.5 432.5L123.5 430.5L123.5 429.5L122.5 427.5L121.5 427.5L120.5 427.5M104.5 470.5L105.5 469.5L106.5 468.5L106.5 476.5M113.5 468.5L111.5 468.5L111.5 470.5L110.5 471.5L110.5 473.5L111.5 474.5L111.5 476.5L113.5 476.5L114.5 476.5L115.5 474.5L116.5 473.5L116.5 471.5L115.5 470.5L114.5 468.5L113.5 468.5M120.5 468.5L119.5 468.5L118.5 470.5L118.5 471.5L118.5 473.5L118.5 474.5L119.5 476.5L120.5 476.5L121.5 476.5L122.5 476.5L123.5 474.5L123.5 473.5L123.5 471.5L123.5 470.5L122.5 468.5L121.5 468.5L120.5 468.5M26.5 447.5L26.5 442.5L25.5 442.5L24.5 443.5L24.5 444.5L24.5 445.5L24.5 446.5L25.5 446.5L26.5 447.5L27.5 447.5L28.5 446.5L29.5 446.5L29.5 445.5L29.5 444.5L29.5 443.5L28.5 442.5M21.5 440.5L29.5 440.5M21.5 437.5L29.5 437.5M25.5 437.5L24.5 436.5L24.5 435.5L24.5 434.5L24.5 433.5L25.5 432.5L26.5 432.5L27.5 432.5L28.5 432.5L29.5 433.5L29.5 434.5L29.5 435.5L29.5 436.5L28.5 437.5M35.5 447.5L43.5 447.5M36.5 447.5L35.5 446.5L35.5 445.5L35.5 444.5L36.5 443.5L37.5 443.5L38.5 443.5L39.5 443.5L40.5 444.5L40.5 445.5L40.5 446.5L39.5 447.5M37.5 440.5L37.5 436.5L36.5 436.5L35.5 436.5L35.5 437.5L35.5 438.5L35.5 439.5L36.5 440.5L37.5 440.5L38.5 440.5L39.5 440.5L40.5 439.5L40.5 438.5L40.5 437.5L39.5 436.5M32.5 431.5L32.5 432.5L34.5 433.5L40.5 433.5M35.5 434.5L35.5 431.5M48.5 445.5L48.5 441.5L47.5 441.5L46.5 441.5L46.5 442.5L46.5 443.5L46.5 444.5L47.5 445.5L48.5 445.5L49.5 445.5L50.5 445.5L51.5 444.5L51.5 443.5L51.5 442.5L51.5 441.5L50.5 441.5M46.5 438.5L51.5 438.5M47.5 438.5L46.5 437.5L46.5 436.5L46.5 435.5L46.5 434.5L47.5 434.5L51.5 434.5M58.5 463.5L57.5 463.5L57.5 464.5L57.5 465.5L57.5 466.5L58.5 467.5L59.5 466.5L59.5 464.5L60.5 463.5L61.5 463.5L62.5 463.5L62.5 464.5L62.5 465.5L62.5 466.5L61.5 467.5M57.5 460.5L65.5 460.5M58.5 460.5L57.5 459.5L57.5 458.5L57.5 457.5L58.5 456.5L59.5 455.5L60.5 455.5L61.5 456.5L62.5 457.5L62.5 458.5L62.5 459.5L61.5 460.5M59.5 453.5L59.5 449.5L58.5 449.5L57.5 449.5L57.5 450.5L57.5 451.5L57.5 452.5L58.5 453.5L59.5 453.5L60.5 453.5L61.5 453.5L62.5 452.5L62.5 451.5L62.5 450.5L62.5 449.5L61.5 449.5M58.5 442.5L57.5 442.5L57.5 443.5L57.5 444.5L57.5 445.5L58.5 446.5L59.5 446.5L60.5 446.5L61.5 446.5L62.5 445.5L62.5 444.5L62.5 443.5L62.5 442.5L61.5 442.5M56.5 439.5L55.5 439.5L54.5 438.5L54.5 437.5L54.5 436.5L54.5 435.5L55.5 435.5L56.5 434.5L57.5 435.5L58.5 436.5L62.5 439.5L62.5 434.5M57.5 431.5L65.5 431.5M58.5 431.5L57.5 431.5L57.5 430.5L57.5 429.5L57.5 428.5L58.5 427.5L59.5 427.5L60.5 427.5L61.5 427.5L62.5 428.5L62.5 429.5L62.5 430.5L62.5 431.5L61.5 431.5M54.5 424.5L62.5 424.5M57.5 420.5L58.5 421.5L59.5 421.5L60.5 421.5L61.5 421.5L62.5 420.5L62.5 418.5L61.5 417.5L60.5 417.5L59.5 417.5L58.5 417.5L57.5 418.5L57.5 420.5M54.5 413.5L60.5 413.5L62.5 413.5L62.5 412.5M57.5 415.5L57.5 412.5M67.5 451.5L75.5 451.5M68.5 451.5L67.5 450.5L67.5 449.5L67.5 448.5L68.5 447.5L69.5 447.5L70.5 447.5L71.5 447.5L72.5 448.5L72.5 449.5L72.5 450.5L71.5 451.5M67.5 440.5L72.5 440.5M68.5 440.5L67.5 441.5L67.5 442.5L67.5 443.5L68.5 444.5L69.5 444.5L70.5 444.5L71.5 444.5L72.5 443.5L72.5 442.5L72.5 441.5L71.5 440.5M67.5 437.5L72.5 437.5M69.5 437.5L68.5 436.5L67.5 436.5L67.5 435.5L67.5 434.5M67.5 428.5L72.5 428.5M68.5 428.5L67.5 428.5L67.5 429.5L67.5 430.5L67.5 431.5L68.5 432.5L69.5 432.5L70.5 432.5L71.5 432.5L72.5 431.5L72.5 430.5L72.5 429.5L72.5 428.5L71.5 428.5M73.5 453.5L86.5 453.5M73.5 453.5L86.5 453.5M73.5 453.5L73.5 451.5M86.5 453.5L86.5 451.5M75.5 448.5L83.5 448.5M78.5 444.5L81.5 448.5M80.5 446.5L83.5 444.5M80.5 442.5L80.5 437.5L79.5 437.5L78.5 438.5L78.5 439.5L78.5 440.5L78.5 441.5L79.5 441.5L80.5 442.5L81.5 442.5L82.5 441.5L83.5 441.5L83.5 440.5L83.5 439.5L83.5 438.5L82.5 437.5M75.5 436.5L83.5 433.5M75.5 430.5L83.5 433.5M73.5 426.5L86.5 426.5M73.5 425.5L86.5 425.5M73.5 428.5L73.5 425.5M86.5 428.5L86.5 425.5M104.5 494.5L105.5 493.5L106.5 492.5L106.5 500.5M115.5 492.5L111.5 492.5L111.5 495.5L112.5 495.5L113.5 495.5L114.5 495.5L115.5 496.5L116.5 497.5L116.5 498.5L115.5 499.5L114.5 500.5L113.5 500.5L112.5 500.5L111.5 500.5L111.5 499.5L110.5 498.5M120.5 492.5L119.5 492.5L118.5 494.5L118.5 495.5L118.5 497.5L118.5 498.5L119.5 500.5L120.5 500.5L121.5 500.5L122.5 500.5L123.5 498.5L123.5 497.5L123.5 495.5L123.5 494.5L122.5 492.5L121.5 492.5L120.5 492.5M104.5 517.5L105.5 516.5L106.5 515.5L106.5 523.5M113.5 515.5L111.5 515.5L111.5 517.5L110.5 518.5L110.5 520.5L111.5 521.5L111.5 523.5L113.5 523.5L114.5 523.5L115.5 521.5L116.5 520.5L116.5 518.5L115.5 517.5L114.5 515.5L113.5 515.5M120.5 515.5L119.5 515.5L118.5 517.5L118.5 518.5L118.5 520.5L118.5 521.5L119.5 523.5L120.5 523.5L121.5 523.5L122.5 523.5L123.5 521.5L123.5 520.5L123.5 518.5L123.5 517.5L122.5 515.5L121.5 515.5L120.5 515.5M115.5 539.5L111.5 539.5L110.5 542.5L111.5 542.5L112.5 542.5L113.5 542.5L114.5 542.5L115.5 543.5L115.5 544.5L115.5 545.5L115.5 546.5L114.5 547.5L113.5 547.5L112.5 547.5L111.5 547.5L110.5 546.5L110.5 545.5M120.5 539.5L119.5 539.5L118.5 541.5L118.5 542.5L118.5 544.5L118.5 545.5L119.5 547.5L120.5 547.5L121.5 547.5L122.5 547.5L123.5 545.5L123.5 544.5L123.5 542.5L123.5 541.5L122.5 539.5L121.5 539.5L120.5 539.5M120.5 558.5L119.5 558.5L118.5 560.5L118.5 561.5L118.5 563.5L118.5 564.5L119.5 566.5L120.5 566.5L121.5 566.5L122.5 566.5L123.5 564.5L123.5 563.5L123.5 561.5L123.5 560.5L122.5 558.5L121.5 558.5L120.5 558.5M34.5 531.5L34.5 526.5L33.5 526.5L32.5 527.5L32.5 528.5L32.5 529.5L32.5 530.5L33.5 531.5L34.5 531.5L35.5 531.5L36.5 531.5L37.5 530.5L37.5 529.5L37.5 528.5L37.5 527.5L36.5 526.5M29.5 524.5L37.5 524.5M29.5 521.5L37.5 521.5M33.5 521.5L32.5 520.5L32.5 519.5L32.5 518.5L32.5 517.5L33.5 517.5L34.5 516.5L35.5 516.5L36.5 517.5L37.5 517.5L37.5 518.5L37.5 519.5L37.5 520.5L36.5 521.5M43.5 531.5L51.5 531.5M44.5 531.5L43.5 531.5L43.5 530.5L43.5 529.5L43.5 528.5L44.5 527.5L45.5 527.5L46.5 527.5L47.5 527.5L48.5 528.5L48.5 529.5L48.5 530.5L48.5 531.5L47.5 531.5M45.5 525.5L45.5 520.5L44.5 520.5L43.5 520.5L43.5 521.5L43.5 522.5L43.5 523.5L44.5 524.5L45.5 525.5L46.5 525.5L47.5 524.5L48.5 523.5L48.5 522.5L48.5 521.5L47.5 520.5M40.5 515.5L40.5 516.5L40.5 517.5L42.5 517.5L48.5 517.5M43.5 518.5L43.5 515.5M53.5 529.5L61.5 529.5M54.5 529.5L53.5 529.5L53.5 528.5L53.5 527.5L53.5 526.5L54.5 525.5L55.5 525.5L56.5 525.5L57.5 525.5L58.5 526.5L58.5 527.5L58.5 528.5L58.5 529.5L57.5 529.5M53.5 518.5L58.5 518.5M54.5 518.5L53.5 519.5L53.5 521.5L54.5 522.5L55.5 522.5L56.5 522.5L57.5 522.5L58.5 521.5L58.5 519.5L57.5 518.5M65.5 547.5L64.5 547.5L64.5 548.5L64.5 550.5L64.5 551.5L65.5 551.5L66.5 551.5L66.5 550.5L66.5 548.5L67.5 547.5L68.5 547.5L69.5 547.5L69.5 548.5L69.5 550.5L69.5 551.5L68.5 551.5M64.5 544.5L72.5 544.5M65.5 544.5L64.5 543.5L64.5 542.5L64.5 541.5L65.5 540.5L66.5 540.5L67.5 540.5L68.5 540.5L69.5 541.5L69.5 542.5L69.5 543.5L68.5 544.5M66.5 537.5L66.5 533.5L65.5 533.5L64.5 533.5L64.5 534.5L64.5 535.5L64.5 536.5L65.5 537.5L66.5 537.5L67.5 537.5L68.5 537.5L69.5 536.5L69.5 535.5L69.5 534.5L68.5 533.5M65.5 526.5L64.5 527.5L64.5 529.5L65.5 530.5L66.5 530.5L67.5 530.5L68.5 530.5L69.5 529.5L69.5 527.5L68.5 526.5M63.5 523.5L62.5 523.5L61.5 522.5L61.5 520.5L61.5 519.5L62.5 519.5L63.5 519.5L64.5 519.5L65.5 520.5L69.5 524.5L69.5 518.5M64.5 516.5L72.5 516.5M65.5 516.5L64.5 515.5L64.5 514.5L64.5 513.5L64.5 512.5L65.5 511.5L66.5 511.5L67.5 511.5L68.5 511.5L69.5 512.5L69.5 513.5L69.5 514.5L69.5 515.5L68.5 516.5M61.5 508.5L69.5 508.5M64.5 504.5L64.5 505.5L65.5 505.5L66.5 506.5L67.5 506.5L68.5 505.5L69.5 505.5L69.5 504.5L69.5 503.5L69.5 502.5L68.5 501.5L67.5 501.5L66.5 501.5L65.5 501.5L64.5 502.5L64.5 503.5L64.5 504.5M61.5 498.5L67.5 498.5L69.5 497.5L69.5 496.5M64.5 499.5L64.5 496.5M76.5 536.5L75.5 537.5L75.5 538.5L75.5 539.5L76.5 540.5L77.5 541.5L78.5 541.5L79.5 540.5L80.5 539.5L80.5 538.5L80.5 537.5L79.5 536.5M72.5 533.5L80.5 533.5M76.5 533.5L75.5 532.5L75.5 531.5L75.5 530.5L76.5 529.5L80.5 529.5M72.5 524.5L72.5 525.5L74.5 526.5L75.5 526.5L77.5 526.5L78.5 526.5L80.5 525.5L80.5 524.5L80.5 523.5L80.5 522.5L78.5 522.5L77.5 521.5L75.5 521.5L74.5 522.5L72.5 522.5L72.5 523.5L72.5 524.5M72.5 518.5L80.5 518.5M80.5 518.5L80.5 514.5M74.5 507.5L73.5 507.5L72.5 508.5L72.5 509.5L72.5 510.5L72.5 511.5L73.5 512.5L74.5 512.5L75.5 512.5L77.5 512.5L78.5 512.5L79.5 512.5L80.5 511.5L80.5 510.5L80.5 509.5L80.5 508.5L79.5 507.5L78.5 507.5M81.5 538.5L94.5 538.5M81.5 538.5L94.5 538.5M81.5 538.5L81.5 535.5M94.5 538.5L94.5 535.5M83.5 529.5L91.5 529.5M87.5 529.5L86.5 529.5L86.5 530.5L86.5 531.5L86.5 532.5L87.5 533.5L88.5 533.5L89.5 533.5L90.5 533.5L91.5 532.5L91.5 531.5L91.5 530.5L91.5 529.5L90.5 529.5M88.5 526.5L88.5 521.5L87.5 521.5L86.5 522.5L86.5 523.5L86.5 524.5L86.5 525.5L87.5 526.5L88.5 526.5L89.5 526.5L90.5 526.5L91.5 525.5L91.5 524.5L91.5 523.5L91.5 522.5L90.5 521.5M86.5 514.5L92.5 514.5L93.5 515.5L94.5 516.5L94.5 517.5L93.5 518.5M87.5 514.5L86.5 515.5L86.5 516.5L86.5 517.5L86.5 518.5L87.5 519.5L88.5 519.5L89.5 519.5L90.5 519.5L91.5 518.5L91.5 517.5L91.5 516.5L91.5 515.5L90.5 514.5M81.5 510.5L94.5 510.5M81.5 509.5L94.5 509.5M81.5 512.5L81.5 509.5M94.5 512.5L94.5 509.5M104.5 578.5L105.5 577.5L106.5 576.5L106.5 584.5M115.5 576.5L111.5 576.5L111.5 579.5L112.5 579.5L113.5 579.5L114.5 579.5L115.5 580.5L116.5 581.5L116.5 582.5L115.5 583.5L114.5 584.5L113.5 584.5L112.5 584.5L111.5 584.5L111.5 583.5L110.5 582.5M120.5 576.5L119.5 576.5L118.5 578.5L118.5 579.5L118.5 581.5L118.5 582.5L119.5 584.5L120.5 584.5L121.5 584.5L122.5 584.5L123.5 582.5L123.5 581.5L123.5 579.5L123.5 578.5L122.5 576.5L121.5 576.5L120.5 576.5M104.5 601.5L105.5 600.5L106.5 599.5L106.5 607.5M113.5 599.5L111.5 599.5L111.5 601.5L110.5 602.5L110.5 604.5L111.5 605.5L111.5 607.5L113.5 607.5L114.5 607.5L115.5 605.5L116.5 604.5L116.5 602.5L115.5 601.5L114.5 599.5L113.5 599.5M120.5 599.5L119.5 599.5L118.5 601.5L118.5 602.5L118.5 604.5L118.5 605.5L119.5 607.5L120.5 607.5L121.5 607.5L122.5 607.5L123.5 605.5L123.5 604.5L123.5 602.5L123.5 601.5L122.5 599.5L121.5 599.5L120.5 599.5M115.5 623.5L111.5 623.5L110.5 626.5L111.5 626.5L112.5 626.5L113.5 626.5L114.5 626.5L115.5 627.5L115.5 628.5L115.5 629.5L115.5 630.5L114.5 631.5L113.5 631.5L112.5 631.5L111.5 631.5L110.5 630.5L110.5 629.5M120.5 623.5L119.5 623.5L118.5 625.5L118.5 626.5L118.5 628.5L118.5 629.5L119.5 631.5L120.5 631.5L121.5 631.5L122.5 631.5L123.5 629.5L123.5 628.5L123.5 626.5L123.5 625.5L122.5 623.5L121.5 623.5L120.5 623.5M120.5 642.5L119.5 642.5L118.5 644.5L118.5 645.5L118.5 647.5L118.5 648.5L119.5 650.5L120.5 650.5L121.5 650.5L122.5 650.5L123.5 648.5L123.5 647.5L123.5 645.5L123.5 644.5L122.5 642.5L121.5 642.5L120.5 642.5M34.5 615.5L34.5 611.5L33.5 611.5L32.5 611.5L32.5 612.5L32.5 613.5L32.5 614.5L33.5 615.5L34.5 615.5L35.5 615.5L36.5 615.5L37.5 614.5L37.5 613.5L37.5 612.5L37.5 611.5L36.5 611.5M29.5 608.5L37.5 608.5M29.5 605.5L37.5 605.5M33.5 605.5L32.5 604.5L32.5 603.5L32.5 602.5L33.5 601.5L34.5 600.5L35.5 600.5L36.5 601.5L37.5 602.5L37.5 603.5L37.5 604.5L36.5 605.5M43.5 616.5L51.5 616.5M44.5 616.5L43.5 615.5L43.5 614.5L43.5 613.5L43.5 612.5L44.5 611.5L45.5 611.5L46.5 611.5L47.5 611.5L48.5 612.5L48.5 613.5L48.5 614.5L48.5 615.5L47.5 616.5M45.5 609.5L45.5 604.5L44.5 604.5L43.5 605.5L43.5 606.5L43.5 607.5L43.5 608.5L44.5 608.5L45.5 609.5L46.5 609.5L47.5 608.5L48.5 608.5L48.5 607.5L48.5 606.5L48.5 605.5L47.5 604.5M40.5 599.5L40.5 600.5L40.5 601.5L42.5 601.5L48.5 601.5M43.5 602.5L43.5 600.5M53.5 614.5L61.5 614.5M54.5 614.5L53.5 613.5L53.5 612.5L53.5 611.5L53.5 610.5L54.5 609.5L55.5 609.5L56.5 609.5L57.5 609.5L58.5 610.5L58.5 611.5L58.5 612.5L58.5 613.5L57.5 614.5M53.5 602.5L58.5 602.5M54.5 602.5L53.5 603.5L53.5 604.5L53.5 605.5L53.5 606.5L54.5 606.5L55.5 607.5L56.5 607.5L57.5 606.5L58.5 606.5L58.5 605.5L58.5 604.5L58.5 603.5L57.5 602.5M65.5 631.5L64.5 631.5L64.5 633.5L64.5 634.5L64.5 635.5L65.5 635.5L66.5 635.5L66.5 634.5L66.5 632.5L67.5 631.5L68.5 631.5L69.5 631.5L69.5 633.5L69.5 634.5L69.5 635.5L68.5 635.5M64.5 628.5L72.5 628.5M65.5 628.5L64.5 628.5L64.5 627.5L64.5 626.5L64.5 625.5L65.5 624.5L66.5 624.5L67.5 624.5L68.5 624.5L69.5 625.5L69.5 626.5L69.5 627.5L69.5 628.5L68.5 628.5M66.5 622.5L66.5 617.5L65.5 617.5L64.5 617.5L64.5 618.5L64.5 619.5L64.5 620.5L65.5 621.5L66.5 622.5L67.5 622.5L68.5 621.5L69.5 620.5L69.5 619.5L69.5 618.5L68.5 617.5M65.5 610.5L64.5 611.5L64.5 612.5L64.5 613.5L64.5 614.5L65.5 614.5L66.5 615.5L67.5 615.5L68.5 614.5L69.5 614.5L69.5 613.5L69.5 612.5L69.5 611.5L68.5 610.5M63.5 607.5L62.5 607.5L61.5 607.5L61.5 606.5L61.5 604.5L62.5 603.5L63.5 603.5L64.5 603.5L65.5 604.5L69.5 608.5L69.5 603.5M64.5 600.5L72.5 600.5M65.5 600.5L64.5 599.5L64.5 598.5L64.5 597.5L64.5 596.5L65.5 596.5L66.5 595.5L67.5 595.5L68.5 596.5L69.5 596.5L69.5 597.5L69.5 598.5L69.5 599.5L68.5 600.5M61.5 593.5L69.5 593.5M64.5 588.5L64.5 589.5L65.5 590.5L66.5 590.5L67.5 590.5L68.5 590.5L69.5 589.5L69.5 588.5L69.5 587.5L69.5 586.5L68.5 585.5L67.5 585.5L66.5 585.5L65.5 585.5L64.5 586.5L64.5 587.5L64.5 588.5M61.5 582.5L67.5 582.5L69.5 582.5L69.5 581.5L69.5 580.5M64.5 583.5L64.5 580.5M76.5 620.5L75.5 621.5L75.5 622.5L75.5 623.5L75.5 624.5L76.5 624.5L77.5 625.5L78.5 625.5L79.5 624.5L80.5 624.5L80.5 623.5L80.5 622.5L80.5 621.5L79.5 620.5M72.5 618.5L80.5 618.5M76.5 618.5L75.5 616.5L75.5 615.5L75.5 614.5L76.5 613.5L80.5 613.5M74.5 610.5L73.5 609.5L72.5 608.5L80.5 608.5M72.5 603.5L80.5 603.5M80.5 603.5L80.5 598.5M74.5 591.5L73.5 591.5L72.5 592.5L72.5 593.5L72.5 594.5L72.5 595.5L73.5 596.5L74.5 596.5L75.5 597.5L77.5 597.5L78.5 596.5L79.5 596.5L80.5 595.5L80.5 594.5L80.5 593.5L80.5 592.5L79.5 591.5L78.5 591.5M81.5 622.5L94.5 622.5M81.5 622.5L94.5 622.5M81.5 622.5L81.5 620.5M94.5 622.5L94.5 620.5M83.5 613.5L91.5 613.5M87.5 613.5L86.5 614.5L86.5 615.5L86.5 616.5L87.5 617.5L88.5 617.5L89.5 617.5L90.5 617.5L91.5 616.5L91.5 615.5L91.5 614.5L90.5 613.5M88.5 610.5L88.5 606.5L87.5 606.5L86.5 606.5L86.5 607.5L86.5 608.5L86.5 609.5L87.5 610.5L88.5 610.5L89.5 610.5L90.5 610.5L91.5 609.5L91.5 608.5L91.5 607.5L91.5 606.5L90.5 606.5M86.5 599.5L92.5 599.5L93.5 599.5L94.5 600.5L94.5 601.5L93.5 602.5M87.5 599.5L86.5 599.5L86.5 600.5L86.5 601.5L86.5 602.5L87.5 603.5L88.5 603.5L89.5 603.5L90.5 603.5L91.5 602.5L91.5 601.5L91.5 600.5L91.5 599.5L90.5 599.5M81.5 594.5L94.5 594.5M81.5 593.5L94.5 593.5M81.5 596.5L81.5 593.5M94.5 596.5L94.5 593.5M104.5 662.5L105.5 661.5L106.5 660.5L106.5 668.5M115.5 660.5L111.5 660.5L111.5 663.5L112.5 663.5L113.5 663.5L114.5 663.5L115.5 664.5L116.5 665.5L116.5 666.5L115.5 667.5L114.5 668.5L113.5 668.5L112.5 668.5L111.5 668.5L111.5 667.5L110.5 666.5M120.5 660.5L119.5 660.5L118.5 662.5L118.5 663.5L118.5 665.5L118.5 666.5L119.5 668.5L120.5 668.5L121.5 668.5L122.5 668.5L123.5 666.5L123.5 665.5L123.5 663.5L123.5 662.5L122.5 660.5L121.5 660.5L120.5 660.5M104.5 685.5L105.5 684.5L106.5 683.5L106.5 691.5M113.5 683.5L111.5 683.5L111.5 685.5L110.5 686.5L110.5 688.5L111.5 689.5L111.5 691.5L113.5 691.5L114.5 691.5L115.5 689.5L116.5 688.5L116.5 686.5L115.5 685.5L114.5 683.5L113.5 683.5M120.5 683.5L119.5 683.5L118.5 685.5L118.5 686.5L118.5 688.5L118.5 689.5L119.5 691.5L120.5 691.5L121.5 691.5L122.5 691.5L123.5 689.5L123.5 688.5L123.5 686.5L123.5 685.5L122.5 683.5L121.5 683.5L120.5 683.5M115.5 707.5L111.5 707.5L110.5 710.5L111.5 710.5L112.5 710.5L113.5 710.5L114.5 710.5L115.5 711.5L115.5 712.5L115.5 713.5L115.5 714.5L114.5 715.5L113.5 715.5L112.5 715.5L111.5 715.5L110.5 714.5L110.5 713.5M120.5 707.5L119.5 707.5L118.5 709.5L118.5 710.5L118.5 712.5L118.5 713.5L119.5 715.5L120.5 715.5L121.5 715.5L122.5 715.5L123.5 713.5L123.5 712.5L123.5 710.5L123.5 709.5L122.5 707.5L121.5 707.5L120.5 707.5M120.5 726.5L119.5 726.5L118.5 728.5L118.5 729.5L118.5 731.5L118.5 732.5L119.5 734.5L120.5 734.5L121.5 734.5L122.5 734.5L123.5 732.5L123.5 731.5L123.5 729.5L123.5 728.5L122.5 726.5L121.5 726.5L120.5 726.5M34.5 700.5L34.5 695.5L33.5 695.5L32.5 695.5L32.5 696.5L32.5 697.5L32.5 698.5L33.5 699.5L34.5 700.5L35.5 700.5L36.5 699.5L37.5 698.5L37.5 697.5L37.5 696.5L36.5 695.5M29.5 692.5L37.5 692.5M29.5 689.5L37.5 689.5M33.5 689.5L32.5 689.5L32.5 688.5L32.5 687.5L32.5 686.5L33.5 685.5L34.5 685.5L35.5 685.5L36.5 685.5L37.5 686.5L37.5 687.5L37.5 688.5L37.5 689.5L36.5 689.5M43.5 700.5L51.5 700.5M44.5 700.5L43.5 699.5L43.5 698.5L43.5 697.5L44.5 696.5L45.5 695.5L46.5 695.5L47.5 696.5L48.5 697.5L48.5 698.5L48.5 699.5L47.5 700.5M45.5 693.5L45.5 689.5L44.5 689.5L43.5 689.5L43.5 690.5L43.5 691.5L43.5 692.5L44.5 693.5L45.5 693.5L46.5 693.5L47.5 693.5L48.5 692.5L48.5 691.5L48.5 690.5L48.5 689.5L47.5 689.5M40.5 684.5L40.5 685.5L42.5 685.5L48.5 685.5M43.5 687.5L43.5 684.5M53.5 698.5L61.5 698.5M54.5 698.5L53.5 697.5L53.5 696.5L53.5 695.5L53.5 694.5L54.5 694.5L55.5 693.5L56.5 693.5L57.5 694.5L58.5 694.5L58.5 695.5L58.5 696.5L58.5 697.5L57.5 698.5M53.5 686.5L58.5 686.5M54.5 686.5L53.5 687.5L53.5 688.5L53.5 689.5L53.5 690.5L54.5 691.5L55.5 691.5L56.5 691.5L57.5 691.5L58.5 690.5L58.5 689.5L58.5 688.5L58.5 687.5L57.5 686.5M65.5 715.5L64.5 716.5L64.5 717.5L64.5 718.5L64.5 719.5L65.5 720.5L66.5 719.5L66.5 718.5L66.5 717.5L67.5 716.5L67.5 715.5L68.5 715.5L69.5 716.5L69.5 717.5L69.5 718.5L69.5 719.5L68.5 720.5M64.5 713.5L72.5 713.5M65.5 713.5L64.5 712.5L64.5 711.5L64.5 710.5L64.5 709.5L65.5 709.5L66.5 708.5L67.5 708.5L68.5 709.5L69.5 709.5L69.5 710.5L69.5 711.5L69.5 712.5L68.5 713.5M66.5 706.5L66.5 701.5L65.5 701.5L64.5 702.5L64.5 703.5L64.5 704.5L64.5 705.5L65.5 705.5L66.5 706.5L67.5 706.5L68.5 705.5L69.5 705.5L69.5 704.5L69.5 703.5L69.5 702.5L68.5 701.5M65.5 694.5L64.5 695.5L64.5 696.5L64.5 697.5L64.5 698.5L65.5 699.5L66.5 699.5L67.5 699.5L68.5 699.5L69.5 698.5L69.5 697.5L69.5 696.5L69.5 695.5L68.5 694.5M63.5 692.5L62.5 691.5L61.5 691.5L61.5 690.5L61.5 689.5L61.5 688.5L62.5 688.5L63.5 687.5L64.5 688.5L65.5 688.5L69.5 692.5L69.5 687.5M64.5 684.5L72.5 684.5M65.5 684.5L64.5 683.5L64.5 681.5L65.5 680.5L66.5 680.5L67.5 680.5L68.5 680.5L69.5 681.5L69.5 683.5L68.5 684.5M61.5 677.5L69.5 677.5M64.5 672.5L64.5 673.5L65.5 674.5L66.5 674.5L67.5 674.5L68.5 674.5L69.5 673.5L69.5 672.5L69.5 671.5L69.5 670.5L68.5 670.5L67.5 669.5L66.5 669.5L65.5 670.5L64.5 670.5L64.5 671.5L64.5 672.5M61.5 666.5L67.5 666.5L69.5 666.5L69.5 665.5L69.5 664.5M64.5 667.5L64.5 665.5M76.5 705.5L75.5 705.5L75.5 706.5L75.5 707.5L75.5 708.5L76.5 709.5L77.5 709.5L78.5 709.5L79.5 709.5L80.5 708.5L80.5 707.5L80.5 706.5L80.5 705.5L79.5 705.5M72.5 702.5L80.5 702.5M76.5 702.5L75.5 701.5L75.5 700.5L75.5 699.5L75.5 698.5L76.5 698.5L80.5 698.5M74.5 695.5L73.5 694.5L72.5 694.5L72.5 693.5L72.5 692.5L72.5 691.5L73.5 690.5L74.5 690.5L75.5 690.5L76.5 691.5L80.5 695.5L80.5 690.5M72.5 687.5L80.5 687.5M80.5 687.5L80.5 682.5M74.5 675.5L73.5 676.5L72.5 676.5L72.5 677.5L72.5 679.5L73.5 680.5L74.5 681.5L75.5 681.5L77.5 681.5L78.5 681.5L79.5 680.5L80.5 679.5L80.5 677.5L80.5 676.5L79.5 676.5L78.5 675.5M81.5 707.5L94.5 707.5M81.5 706.5L94.5 706.5M81.5 707.5L81.5 704.5M94.5 707.5L94.5 704.5M83.5 697.5L91.5 697.5M87.5 697.5L86.5 698.5L86.5 699.5L86.5 700.5L86.5 701.5L87.5 701.5L88.5 702.5L89.5 702.5L90.5 701.5L91.5 701.5L91.5 700.5L91.5 699.5L91.5 698.5L90.5 697.5M88.5 694.5L88.5 690.5L87.5 690.5L86.5 690.5L86.5 691.5L86.5 693.5L87.5 694.5L88.5 694.5L89.5 694.5L90.5 694.5L91.5 693.5L91.5 691.5L90.5 690.5M86.5 683.5L92.5 683.5L93.5 683.5L93.5 684.5L94.5 685.5L94.5 686.5L93.5 686.5M87.5 683.5L86.5 684.5L86.5 685.5L86.5 686.5L87.5 687.5L88.5 688.5L89.5 688.5L90.5 687.5L91.5 686.5L91.5 685.5L91.5 684.5L90.5 683.5M81.5 678.5L94.5 678.5M81.5 678.5L94.5 678.5M81.5 680.5L81.5 678.5M94.5 680.5L94.5 678.5M104.5 746.5L105.5 745.5L106.5 744.5L106.5 752.5M115.5 744.5L111.5 744.5L111.5 747.5L112.5 747.5L113.5 747.5L114.5 747.5L115.5 748.5L116.5 749.5L116.5 750.5L115.5 751.5L114.5 752.5L113.5 752.5L112.5 752.5L111.5 752.5L111.5 751.5L110.5 750.5M120.5 744.5L119.5 744.5L118.5 746.5L118.5 747.5L118.5 749.5L118.5 750.5L119.5 752.5L120.5 752.5L121.5 752.5L122.5 752.5L123.5 750.5L123.5 749.5L123.5 747.5L123.5 746.5L122.5 744.5L121.5 744.5L120.5 744.5M104.5 769.5L105.5 768.5L106.5 767.5L106.5 775.5M113.5 767.5L111.5 767.5L111.5 769.5L110.5 770.5L110.5 772.5L111.5 773.5L111.5 775.5L113.5 775.5L114.5 775.5L115.5 773.5L116.5 772.5L116.5 770.5L115.5 769.5L114.5 767.5L113.5 767.5M120.5 767.5L119.5 767.5L118.5 769.5L118.5 770.5L118.5 772.5L118.5 773.5L119.5 775.5L120.5 775.5L121.5 775.5L122.5 775.5L123.5 773.5L123.5 772.5L123.5 770.5L123.5 769.5L122.5 767.5L121.5 767.5L120.5 767.5M115.5 791.5L111.5 791.5L110.5 794.5L111.5 794.5L112.5 794.5L113.5 794.5L114.5 794.5L115.5 795.5L115.5 796.5L115.5 797.5L115.5 798.5L114.5 799.5L113.5 799.5L112.5 799.5L111.5 799.5L110.5 798.5L110.5 797.5M120.5 791.5L119.5 791.5L118.5 793.5L118.5 794.5L118.5 796.5L118.5 797.5L119.5 799.5L120.5 799.5L121.5 799.5L122.5 799.5L123.5 797.5L123.5 796.5L123.5 794.5L123.5 793.5L122.5 791.5L121.5 791.5L120.5 791.5M120.5 810.5L119.5 810.5L118.5 812.5L118.5 813.5L118.5 815.5L118.5 816.5L119.5 818.5L120.5 818.5L121.5 818.5L122.5 818.5L123.5 816.5L123.5 815.5L123.5 813.5L123.5 812.5L122.5 810.5L121.5 810.5L120.5 810.5M34.5 784.5L34.5 779.5L33.5 779.5L32.5 780.5L32.5 781.5L32.5 782.5L32.5 783.5L33.5 783.5L34.5 784.5L35.5 784.5L36.5 783.5L37.5 783.5L37.5 782.5L37.5 781.5L37.5 780.5L36.5 779.5M29.5 777.5L37.5 777.5M29.5 774.5L37.5 774.5M33.5 774.5L32.5 773.5L32.5 772.5L32.5 771.5L32.5 770.5L33.5 769.5L34.5 769.5L35.5 769.5L36.5 769.5L37.5 770.5L37.5 771.5L37.5 772.5L37.5 773.5L36.5 774.5M43.5 784.5L51.5 784.5M44.5 784.5L43.5 783.5L43.5 782.5L43.5 781.5L44.5 780.5L45.5 780.5L46.5 780.5L47.5 780.5L48.5 781.5L48.5 782.5L48.5 783.5L47.5 784.5M45.5 777.5L45.5 773.5L44.5 773.5L43.5 773.5L43.5 774.5L43.5 775.5L43.5 776.5L44.5 777.5L45.5 777.5L46.5 777.5L47.5 777.5L48.5 776.5L48.5 775.5L48.5 774.5L47.5 773.5M40.5 768.5L40.5 769.5L42.5 770.5L48.5 770.5M43.5 771.5L43.5 768.5M53.5 782.5L61.5 782.5M54.5 782.5L53.5 781.5L53.5 779.5L54.5 778.5L55.5 778.5L56.5 778.5L57.5 778.5L58.5 779.5L58.5 781.5L57.5 782.5M53.5 771.5L58.5 771.5M54.5 771.5L53.5 771.5L53.5 772.5L53.5 773.5L53.5 774.5L54.5 775.5L55.5 775.5L56.5 775.5L57.5 775.5L58.5 774.5L58.5 773.5L58.5 772.5L58.5 771.5L57.5 771.5M65.5 800.5L64.5 800.5L64.5 801.5L64.5 802.5L64.5 803.5L65.5 804.5L66.5 803.5L66.5 801.5L67.5 800.5L68.5 800.5L69.5 800.5L69.5 801.5L69.5 802.5L69.5 803.5L68.5 804.5M64.5 797.5L72.5 797.5M65.5 797.5L64.5 796.5L64.5 795.5L64.5 794.5L65.5 793.5L66.5 792.5L67.5 792.5L68.5 793.5L69.5 794.5L69.5 795.5L69.5 796.5L68.5 797.5M66.5 790.5L66.5 786.5L65.5 786.5L64.5 786.5L64.5 787.5L64.5 788.5L64.5 789.5L65.5 790.5L66.5 790.5L67.5 790.5L68.5 790.5L69.5 789.5L69.5 788.5L69.5 787.5L69.5 786.5L68.5 786.5M65.5 779.5L64.5 779.5L64.5 780.5L64.5 781.5L64.5 782.5L65.5 783.5L66.5 783.5L67.5 783.5L68.5 783.5L69.5 782.5L69.5 781.5L69.5 780.5L69.5 779.5L68.5 779.5M63.5 776.5L62.5 776.5L61.5 775.5L61.5 774.5L61.5 773.5L61.5 772.5L62.5 772.5L63.5 771.5L64.5 772.5L65.5 773.5L69.5 776.5L69.5 771.5M64.5 768.5L72.5 768.5M65.5 768.5L64.5 768.5L64.5 767.5L64.5 766.5L64.5 765.5L65.5 764.5L66.5 764.5L67.5 764.5L68.5 764.5L69.5 765.5L69.5 766.5L69.5 767.5L69.5 768.5L68.5 768.5M61.5 761.5L69.5 761.5M64.5 757.5L65.5 758.5L66.5 758.5L67.5 758.5L68.5 758.5L69.5 757.5L69.5 755.5L68.5 754.5L67.5 754.5L66.5 754.5L65.5 754.5L64.5 755.5L64.5 757.5M61.5 750.5L67.5 750.5L69.5 750.5L69.5 749.5M64.5 752.5L64.5 749.5M76.5 789.5L75.5 790.5L75.5 791.5L75.5 792.5L76.5 793.5L77.5 793.5L78.5 793.5L79.5 793.5L80.5 792.5L80.5 791.5L80.5 790.5L79.5 789.5M72.5 786.5L80.5 786.5M76.5 786.5L75.5 785.5L75.5 784.5L75.5 783.5L75.5 782.5L76.5 782.5L80.5 782.5M72.5 778.5L72.5 774.5L75.5 777.5L75.5 775.5L76.5 774.5L77.5 774.5L78.5 774.5L79.5 774.5L80.5 775.5L80.5 776.5L80.5 777.5L80.5 778.5L79.5 779.5L78.5 779.5M72.5 771.5L80.5 771.5M80.5 771.5L80.5 767.5M74.5 759.5L73.5 760.5L72.5 761.5L72.5 763.5L72.5 764.5L73.5 764.5L74.5 765.5L75.5 765.5L77.5 765.5L78.5 765.5L79.5 764.5L80.5 764.5L80.5 763.5L80.5 761.5L79.5 760.5L78.5 759.5M81.5 791.5L94.5 791.5M81.5 790.5L94.5 790.5M81.5 791.5L81.5 788.5M94.5 791.5L94.5 788.5M83.5 781.5L91.5 781.5M87.5 781.5L86.5 782.5L86.5 783.5L86.5 784.5L86.5 785.5L87.5 786.5L88.5 786.5L89.5 786.5L90.5 786.5L91.5 785.5L91.5 784.5L91.5 783.5L91.5 782.5L90.5 781.5M88.5 779.5L88.5 774.5L87.5 774.5L86.5 774.5L86.5 775.5L86.5 776.5L86.5 777.5L86.5 778.5L87.5 778.5L88.5 779.5L89.5 779.5L90.5 778.5L91.5 778.5L91.5 777.5L91.5 776.5L91.5 775.5L90.5 774.5M86.5 767.5L92.5 767.5L93.5 768.5L94.5 769.5L94.5 770.5L93.5 771.5M87.5 767.5L86.5 768.5L86.5 769.5L86.5 770.5L86.5 771.5L87.5 771.5L88.5 772.5L89.5 772.5L90.5 771.5L91.5 771.5L91.5 770.5L91.5 769.5L91.5 768.5L90.5 767.5M81.5 762.5L94.5 762.5M81.5 762.5L94.5 762.5M81.5 765.5L81.5 762.5M94.5 765.5L94.5 762.5M91.5 819.5L91.5 818.5L89.5 818.5L87.5 818.5L86.5 820.5L86.5 821.5L86.5 823.5L86.5 825.5L87.5 826.5L89.5 826.5L90.5 826.5L91.5 825.5L92.5 824.5L92.5 823.5L91.5 822.5L90.5 821.5L89.5 821.5L87.5 821.5L86.5 822.5L86.5 823.5M94.5 819.5L100.5 825.5M100.5 819.5L94.5 825.5M104.5 820.5L105.5 819.5L106.5 818.5L106.5 826.5M114.5 818.5L112.5 818.5L111.5 820.5L111.5 821.5L111.5 823.5L111.5 824.5L112.5 826.5L114.5 826.5L116.5 826.5L117.5 824.5L117.5 823.5L117.5 821.5L117.5 820.5L116.5 818.5L114.5 818.5M122.5 815.5L119.5 818.5L123.5 818.5M122.5 815.5L122.5 820.5M89.5 829.5L85.5 835.5L91.5 835.5M89.5 829.5L89.5 838.5M94.5 830.5L100.5 837.5M100.5 830.5L94.5 837.5M104.5 831.5L104.5 830.5L106.5 829.5L106.5 838.5M114.5 829.5L112.5 829.5L111.5 831.5L111.5 833.5L111.5 834.5L111.5 836.5L112.5 838.5L114.5 838.5L116.5 838.5L117.5 836.5L117.5 834.5L117.5 833.5L117.5 831.5L116.5 829.5L114.5 829.5M122.5 826.5L119.5 829.5L123.5 829.5M122.5 826.5L122.5 831.5M85.5 845.5L86.5 844.5L86.5 843.5L87.5 843.5L89.5 843.5L90.5 843.5L90.5 844.5L91.5 845.5L91.5 846.5L90.5 846.5L89.5 848.5L85.5 852.5L91.5 852.5M94.5 844.5L100.5 851.5M100.5 844.5L94.5 851.5M104.5 845.5L104.5 844.5L106.5 843.5L106.5 852.5M114.5 843.5L112.5 843.5L111.5 845.5L111.5 847.5L111.5 848.5L111.5 850.5L112.5 852.5L114.5 852.5L116.5 852.5L117.5 850.5L117.5 848.5L117.5 847.5L117.5 845.5L116.5 843.5L114.5 843.5M122.5 840.5L119.5 843.5L123.5 843.5M122.5 840.5L122.5 845.5M119.5 857.5L118.5 857.5L117.5 859.5L116.5 861.5L116.5 862.5L117.5 864.5L118.5 866.5L119.5 866.5L120.5 866.5L122.5 866.5L123.5 864.5L123.5 862.5L123.5 861.5L123.5 859.5L122.5 857.5L120.5 857.5L119.5 857.5M75.5 876.5L83.5 876.5M86.5 873.5L86.5 872.5L87.5 871.5L88.5 871.5L89.5 871.5L90.5 871.5L91.5 872.5L91.5 873.5L91.5 874.5L90.5 876.5L86.5 880.5L92.5 880.5M94.5 872.5L100.5 879.5M100.5 872.5L94.5 879.5M104.5 873.5L105.5 872.5L106.5 871.5L106.5 880.5M114.5 871.5L112.5 871.5L111.5 873.5L111.5 875.5L111.5 876.5L111.5 878.5L112.5 880.5L114.5 880.5L116.5 880.5L117.5 878.5L117.5 876.5L117.5 875.5L117.5 873.5L116.5 871.5L114.5 871.5M122.5 868.5L119.5 871.5L123.5 871.5M122.5 868.5L122.5 873.5M75.5 890.5L83.5 890.5M90.5 885.5L86.5 891.5L92.5 891.5M90.5 885.5L90.5 894.5M94.5 886.5L100.5 893.5M100.5 886.5L94.5 893.5M104.5 887.5L105.5 886.5L106.5 885.5L106.5 894.5M114.5 885.5L112.5 885.5L111.5 887.5L111.5 889.5L111.5 890.5L111.5 892.5L112.5 894.5L114.5 894.5L116.5 894.5L117.5 892.5L117.5 890.5L117.5 889.5L117.5 887.5L116.5 885.5L114.5 885.5M122.5 882.5L119.5 885.5L123.5 885.5M122.5 882.5L122.5 887.5M75.5 900.5L83.5 900.5M91.5 896.5L91.5 895.5L89.5 895.5L87.5 895.5L86.5 897.5L86.5 898.5L86.5 900.5L86.5 902.5L87.5 903.5L89.5 903.5L90.5 903.5L91.5 902.5L92.5 901.5L92.5 900.5L91.5 899.5L90.5 898.5L89.5 898.5L87.5 898.5L86.5 899.5L86.5 900.5M94.5 896.5L100.5 902.5M100.5 896.5L94.5 902.5M104.5 897.5L105.5 896.5L106.5 895.5L106.5 903.5M114.5 895.5L112.5 895.5L111.5 897.5L111.5 898.5L111.5 900.5L111.5 901.5L112.5 903.5L114.5 903.5L116.5 903.5L117.5 901.5L117.5 900.5L117.5 898.5L117.5 897.5L116.5 895.5L114.5 895.5M122.5 891.5L119.5 895.5L123.5 895.5M122.5 891.5L122.5 897.5M40.5 874.5L49.5 874.5M42.5 864.5L41.5 865.5L40.5 866.5L40.5 867.5L40.5 868.5L40.5 869.5L41.5 870.5L42.5 870.5L43.5 871.5L46.5 871.5L47.5 870.5L48.5 870.5L49.5 869.5L49.5 868.5L49.5 867.5L49.5 866.5L48.5 865.5L47.5 864.5L46.5 864.5M46.5 867.5L46.5 864.5M40.5 861.5L49.5 861.5M40.5 861.5L40.5 858.5L40.5 856.5L41.5 856.5L42.5 855.5L43.5 855.5L43.5 856.5L44.5 856.5L44.5 858.5L44.5 861.5M44.5 858.5L49.5 855.5M40.5 852.5L49.5 852.5M40.5 852.5L40.5 847.5M44.5 852.5L44.5 849.5M51.5 873.5L65.5 873.5M51.5 873.5L65.5 873.5M51.5 873.5L51.5 870.5M65.5 873.5L65.5 870.5M56.5 867.5L62.5 867.5M58.5 867.5L56.5 866.5L56.5 865.5L56.5 864.5L56.5 863.5L58.5 863.5L62.5 863.5M53.5 858.5L62.5 858.5M53.5 861.5L53.5 855.5M51.5 850.5L65.5 850.5M51.5 850.5L65.5 850.5M51.5 853.5L51.5 850.5M65.5 853.5L65.5 850.5M9.5 914.5L10.5 913.5L10.5 912.5L11.5 912.5L13.5 912.5L14.5 912.5L14.5 913.5L14.5 914.5L14.5 915.5L13.5 917.5L9.5 921.5L15.5 921.5M20.5 912.5L19.5 912.5L18.5 914.5L17.5 916.5L17.5 917.5L18.5 919.5L19.5 921.5L20.5 921.5L21.5 921.5L22.5 921.5L23.5 919.5L23.5 917.5L23.5 916.5L23.5 914.5L22.5 912.5L21.5 912.5L20.5 912.5M26.5 914.5L27.5 913.5L27.5 912.5L28.5 912.5L30.5 912.5L31.5 913.5L31.5 914.5L31.5 915.5L30.5 917.5L26.5 921.5L32.5 921.5M37.5 912.5L35.5 912.5L35.5 914.5L34.5 916.5L34.5 917.5L35.5 919.5L35.5 921.5L37.5 921.5L38.5 921.5L39.5 921.5L40.5 919.5L40.5 917.5L40.5 916.5L40.5 914.5L39.5 912.5L38.5 912.5L37.5 912.5M53.5 912.5L53.5 919.5L53.5 920.5L52.5 921.5L51.5 921.5L50.5 921.5L49.5 920.5L49.5 919.5L49.5 918.5M56.5 915.5L56.5 919.5L57.5 921.5L58.5 921.5L59.5 921.5L60.5 921.5L61.5 919.5M61.5 915.5L61.5 921.5M64.5 915.5L64.5 921.5M64.5 917.5L66.5 915.5L67.5 915.5L68.5 915.5L69.5 915.5L69.5 917.5L69.5 921.5M80.5 914.5L81.5 913.5L82.5 912.5L82.5 921.5M93.5 912.5L89.5 921.5M87.5 912.5L93.5 912.5M115.5 912.5L113.5 912.5L112.5 914.5L112.5 916.5L112.5 917.5L112.5 919.5L113.5 921.5L115.5 921.5L117.5 921.5L118.5 919.5L118.5 917.5L118.5 916.5L118.5 914.5L117.5 912.5L115.5 912.5M122.5 914.5L123.5 913.5L124.5 912.5L124.5 921.5M132.5 912.5L131.5 912.5L130.5 914.5L129.5 916.5L129.5 917.5L130.5 919.5L131.5 921.5L132.5 921.5L133.5 921.5L134.5 921.5L135.5 919.5L135.5 917.5L135.5 916.5L135.5 914.5L134.5 912.5L133.5 912.5L132.5 912.5M141.5 912.5L139.5 912.5L138.5 914.5L138.5 916.5L138.5 917.5L138.5 919.5L139.5 921.5L141.5 921.5L143.5 921.5L144.5 919.5L144.5 917.5L144.5 916.5L144.5 914.5L143.5 912.5L141.5 912.5M301.5 912.5L299.5 912.5L298.5 914.5L298.5 916.5L298.5 917.5L298.5 919.5L299.5 921.5L301.5 921.5L303.5 921.5L304.5 919.5L304.5 917.5L304.5 916.5L304.5 914.5L303.5 912.5L301.5 912.5M308.5 914.5L309.5 913.5L310.5 912.5L310.5 921.5M316.5 912.5L321.5 912.5L318.5 915.5L320.5 915.5L320.5 916.5L321.5 916.5L321.5 918.5L321.5 920.5L320.5 921.5L319.5 921.5L317.5 921.5L316.5 921.5L316.5 920.5L315.5 919.5M327.5 912.5L325.5 912.5L324.5 914.5L324.5 916.5L324.5 917.5L324.5 919.5L325.5 921.5L327.5 921.5L329.5 921.5L330.5 919.5L330.5 917.5L330.5 916.5L330.5 914.5L329.5 912.5L327.5 912.5M488.5 912.5L486.5 912.5L485.5 914.5L485.5 916.5L485.5 917.5L485.5 919.5L486.5 921.5L488.5 921.5L490.5 921.5L490.5 919.5L491.5 917.5L491.5 916.5L490.5 914.5L490.5 912.5L488.5 912.5M494.5 914.5L494.5 913.5L495.5 912.5L497.5 912.5L498.5 912.5L498.5 913.5L499.5 914.5L499.5 915.5L498.5 915.5L498.5 917.5L493.5 921.5L499.5 921.5M504.5 912.5L503.5 912.5L502.5 914.5L502.5 916.5L502.5 917.5L502.5 919.5L503.5 921.5L504.5 921.5L505.5 921.5L506.5 921.5L507.5 919.5L508.5 917.5L508.5 916.5L507.5 914.5L506.5 912.5L505.5 912.5L504.5 912.5M513.5 912.5L511.5 912.5L511.5 914.5L510.5 916.5L510.5 917.5L511.5 919.5L511.5 921.5L513.5 921.5L515.5 921.5L516.5 919.5L516.5 917.5L516.5 916.5L516.5 914.5L515.5 912.5L513.5 912.5M674.5 912.5L672.5 912.5L671.5 914.5L671.5 916.5L671.5 917.5L671.5 919.5L672.5 921.5L674.5 921.5L676.5 921.5L677.5 919.5L677.5 917.5L677.5 916.5L677.5 914.5L676.5 912.5L674.5 912.5M680.5 914.5L681.5 913.5L681.5 912.5L682.5 912.5L684.5 912.5L685.5 913.5L685.5 914.5L685.5 915.5L684.5 917.5L680.5 921.5L686.5 921.5M689.5 912.5L694.5 912.5L691.5 915.5L693.5 915.5L693.5 916.5L694.5 916.5L694.5 918.5L694.5 920.5L693.5 921.5L692.5 921.5L690.5 921.5L689.5 921.5L689.5 920.5L688.5 919.5M700.5 912.5L698.5 912.5L697.5 914.5L697.5 916.5L697.5 917.5L697.5 919.5L698.5 921.5L700.5 921.5L702.5 921.5L703.5 919.5L703.5 917.5L703.5 916.5L703.5 914.5L702.5 912.5L700.5 912.5M15.5 926.5L15.5 925.5L14.5 924.5L13.5 924.5L12.5 924.5L11.5 924.5L10.5 925.5L9.5 926.5L9.5 927.5L9.5 930.5L9.5 931.5L10.5 932.5L11.5 933.5L12.5 933.5L13.5 933.5L14.5 933.5L15.5 932.5L15.5 931.5L15.5 930.5M13.5 930.5L15.5 930.5M18.5 924.5L18.5 933.5M18.5 933.5L23.5 933.5M28.5 924.5L27.5 924.5L26.5 925.5L25.5 926.5L25.5 927.5L25.5 930.5L25.5 931.5L26.5 932.5L27.5 933.5L28.5 933.5L29.5 933.5L30.5 933.5L31.5 932.5L31.5 931.5L32.5 930.5L32.5 927.5L31.5 926.5L31.5 925.5L30.5 924.5L29.5 924.5L28.5 924.5M35.5 924.5L35.5 933.5M35.5 924.5L41.5 933.5M41.5 924.5L41.5 933.5M54.5 922.5L53.5 923.5L52.5 924.5L51.5 926.5L51.5 928.5L51.5 930.5L51.5 932.5L52.5 934.5L53.5 935.5L54.5 936.5M56.5 930.5L61.5 930.5L61.5 929.5L61.5 928.5L60.5 927.5L58.5 927.5L57.5 927.5L57.5 928.5L56.5 930.5L57.5 932.5L57.5 933.5L58.5 933.5L60.5 933.5L61.5 932.5M69.5 927.5L69.5 933.5M69.5 928.5L68.5 927.5L67.5 927.5L66.5 927.5L65.5 927.5L64.5 928.5L64.5 930.5L64.5 932.5L65.5 933.5L66.5 933.5L67.5 933.5L68.5 933.5L69.5 932.5M76.5 928.5L76.5 927.5L75.5 927.5L74.5 927.5L72.5 927.5L72.5 928.5L72.5 929.5L73.5 930.5L75.5 930.5L76.5 930.5L76.5 931.5L76.5 932.5L76.5 933.5L75.5 933.5L74.5 933.5L72.5 933.5L72.5 932.5M80.5 924.5L80.5 931.5L80.5 933.5L81.5 933.5L82.5 933.5M79.5 927.5L82.5 927.5M84.5 922.5L85.5 923.5L86.5 924.5L87.5 926.5L87.5 928.5L87.5 930.5L87.5 932.5L86.5 934.5L85.5 935.5L84.5 936.5M120.5 925.5L120.5 924.5L118.5 924.5L116.5 924.5L115.5 926.5L115.5 928.5L115.5 930.5L115.5 932.5L116.5 933.5L118.5 933.5L119.5 933.5L120.5 932.5L121.5 930.5L120.5 929.5L119.5 928.5L118.5 927.5L116.5 928.5L115.5 929.5L115.5 930.5M127.5 924.5L123.5 930.5L130.5 930.5M127.5 924.5L127.5 933.5M133.5 932.5L132.5 933.5L133.5 933.5L133.5 932.5M136.5 926.5L137.5 925.5L137.5 924.5L138.5 924.5L140.5 924.5L141.5 924.5L141.5 925.5L142.5 926.5L142.5 927.5L141.5 927.5L140.5 929.5L136.5 933.5L142.5 933.5M304.5 924.5L300.5 930.5L306.5 930.5M304.5 924.5L304.5 933.5M309.5 924.5L314.5 924.5L311.5 927.5L313.5 927.5L314.5 928.5L314.5 930.5L314.5 932.5L313.5 933.5L312.5 933.5L311.5 933.5L309.5 933.5L309.5 932.5L308.5 931.5M318.5 932.5L317.5 933.5L318.5 933.5L318.5 932.5M322.5 926.5L322.5 925.5L322.5 924.5L323.5 924.5L325.5 924.5L326.5 924.5L326.5 925.5L327.5 926.5L327.5 927.5L326.5 927.5L325.5 929.5L321.5 933.5L327.5 933.5M483.5 926.5L484.5 925.5L484.5 924.5L485.5 924.5L487.5 924.5L488.5 924.5L488.5 925.5L488.5 926.5L488.5 927.5L487.5 929.5L483.5 933.5L489.5 933.5M493.5 926.5L493.5 925.5L495.5 924.5L495.5 933.5M505.5 927.5L505.5 928.5L504.5 929.5L503.5 930.5L502.5 930.5L501.5 929.5L500.5 928.5L500.5 927.5L500.5 925.5L501.5 924.5L502.5 924.5L503.5 924.5L504.5 924.5L505.5 925.5L505.5 927.5L505.5 929.5L505.5 931.5L504.5 933.5L503.5 933.5L502.5 933.5L501.5 933.5L500.5 932.5M509.5 932.5L508.5 933.5L509.5 933.5L509.5 932.5M518.5 924.5L514.5 933.5M512.5 924.5L518.5 924.5M674.5 924.5L673.5 924.5L672.5 925.5L672.5 926.5L673.5 927.5L674.5 927.5L676.5 928.5L677.5 928.5L678.5 929.5L678.5 930.5L678.5 931.5L678.5 932.5L677.5 933.5L676.5 933.5L674.5 933.5L673.5 933.5L672.5 932.5L672.5 931.5L672.5 930.5L672.5 929.5L673.5 928.5L675.5 928.5L676.5 927.5L677.5 927.5L678.5 926.5L678.5 925.5L677.5 924.5L676.5 924.5L674.5 924.5M686.5 927.5L686.5 928.5L685.5 929.5L684.5 930.5L683.5 930.5L682.5 929.5L681.5 928.5L681.5 927.5L681.5 925.5L682.5 924.5L683.5 924.5L684.5 924.5L685.5 924.5L686.5 925.5L686.5 927.5L686.5 929.5L686.5 931.5L685.5 933.5L684.5 933.5L683.5 933.5L682.5 933.5L681.5 932.5M690.5 932.5L690.5 933.5L691.5 933.5L690.5 932.5M697.5 924.5L695.5 924.5L694.5 926.5L694.5 928.5L694.5 929.5L694.5 931.5L695.5 933.5L697.5 933.5L699.5 933.5L700.5 931.5L700.5 929.5L700.5 928.5L700.5 926.5L699.5 924.5L697.5 924.5M9.5 936.5L9.5 945.5M9.5 936.5L12.5 945.5M16.5 936.5L12.5 945.5M16.5 936.5L16.5 945.5M19.5 936.5L19.5 945.5M19.5 945.5L24.5 945.5M28.5 936.5L25.5 945.5M28.5 936.5L31.5 945.5M26.5 942.5L30.5 942.5M35.5 936.5L35.5 945.5M32.5 936.5L38.5 936.5M40.5 941.5L48.5 941.5M51 936.5h1M51.5 939.5L51.5 945.5M59.5 939.5L59.5 946.5L58.5 947.5L58.5 948.5L57.5 948.5L56.5 948.5L55.5 948.5M59.5 940.5L58.5 939.5L57.5 939.5L56.5 939.5L55.5 939.5L54.5 940.5L54.5 942.5L54.5 944.5L55.5 945.5L56.5 945.5L57.5 945.5L58.5 945.5L59.5 944.5M62.5 939.5L62.5 945.5M62.5 942.5L63.5 940.5L63.5 939.5L64.5 939.5L66.5 939.5M70.5 936.5L69.5 936.5L68.5 936.5L68.5 938.5L68.5 945.5M67.5 939.5L70.5 939.5M75.5 934.5L75.5 935.5L74.5 936.5L73.5 938.5L73.5 940.5L73.5 942.5L73.5 944.5L74.5 946.5L75.5 947.5L75.5 948.5M83.5 936.5L83.5 945.5M83.5 940.5L82.5 939.5L81.5 939.5L80.5 939.5L79.5 939.5L78.5 940.5L78.5 942.5L78.5 944.5L79.5 945.5L80.5 945.5L81.5 945.5L82.5 945.5L83.5 944.5M86.5 936.5L87.5 936.5L86.5 936.5M86.5 939.5L86.5 945.5M90.5 939.5L90.5 948.5M90.5 940.5L90.5 939.5L91.5 939.5L93.5 939.5L94.5 940.5L95.5 942.5L94.5 944.5L93.5 945.5L91.5 945.5L90.5 945.5L90.5 944.5M97.5 934.5L98.5 935.5L99.5 936.5L100.5 938.5L100.5 940.5L100.5 942.5L100.5 944.5L99.5 946.5L98.5 947.5L97.5 948.5M99.5 936.5L95.5 945.5M93.5 936.5L99.5 936.5M104.5 936.5L103.5 936.5L102.5 938.5L101.5 940.5L101.5 941.5L102.5 943.5L103.5 945.5L104.5 945.5L105.5 945.5L106.5 945.5L107.5 943.5L107.5 941.5L107.5 940.5L107.5 938.5L106.5 936.5L105.5 936.5L104.5 936.5M111.5 944.5L110.5 945.5L111.5 945.5L111.5 944.5M120.5 936.5L116.5 945.5M114.5 936.5L120.5 936.5M126.5 934.5L125.5 935.5L124.5 936.5L123.5 938.5L123.5 940.5L123.5 942.5L123.5 944.5L124.5 946.5L125.5 947.5L126.5 948.5M134.5 937.5L134.5 936.5L132.5 936.5L131.5 936.5L130.5 936.5L129.5 938.5L129.5 940.5L129.5 942.5L129.5 944.5L130.5 945.5L131.5 945.5L132.5 945.5L133.5 945.5L134.5 944.5L134.5 942.5L134.5 941.5L133.5 940.5L132.5 939.5L131.5 939.5L130.5 940.5L129.5 941.5L129.5 942.5M142.5 937.5L142.5 936.5L141.5 936.5L140.5 936.5L139.5 936.5L138.5 938.5L137.5 940.5L137.5 942.5L138.5 944.5L139.5 945.5L140.5 945.5L142.5 945.5L142.5 944.5L143.5 942.5L142.5 941.5L142.5 940.5L140.5 939.5L139.5 940.5L138.5 941.5L137.5 942.5M146.5 944.5L146.5 945.5L147.5 945.5L146.5 944.5M154.5 936.5L150.5 942.5L156.5 942.5M154.5 936.5L154.5 945.5M158.5 934.5L159.5 935.5L160.5 936.5L161.5 938.5L161.5 940.5L161.5 942.5L161.5 944.5L160.5 946.5L159.5 947.5L158.5 948.5M269.5 941.5L277.5 941.5M284.5 936.5L280.5 942.5L286.5 942.5M284.5 936.5L284.5 945.5M294.5 939.5L293.5 940.5L292.5 941.5L291.5 942.5L289.5 941.5L289.5 940.5L288.5 939.5L289.5 937.5L289.5 936.5L291.5 936.5L292.5 936.5L293.5 937.5L294.5 939.5L294.5 941.5L293.5 943.5L292.5 945.5L291.5 945.5L290.5 945.5L289.5 945.5L289.5 944.5M297.5 944.5L297.5 945.5L298.5 945.5L297.5 944.5M302.5 938.5L303.5 937.5L304.5 936.5L304.5 945.5M313.5 934.5L312.5 935.5L311.5 936.5L310.5 938.5L310.5 940.5L310.5 942.5L310.5 944.5L311.5 946.5L312.5 947.5L313.5 948.5M316.5 941.5L323.5 941.5M331.5 936.5L326.5 942.5L333.5 942.5M331.5 936.5L331.5 945.5M339.5 936.5L335.5 942.5L341.5 942.5M339.5 936.5L339.5 945.5M344.5 944.5L344.5 945.5L345.5 945.5L344.5 944.5M348.5 938.5L348.5 937.5L349.5 936.5L350.5 936.5L351.5 936.5L352.5 936.5L353.5 937.5L353.5 938.5L353.5 939.5L352.5 941.5L348.5 945.5L353.5 945.5M356.5 934.5L357.5 935.5L358.5 936.5L359.5 938.5L359.5 940.5L359.5 942.5L359.5 944.5L358.5 946.5L357.5 947.5L356.5 948.5M455.5 941.5L463.5 941.5M466.5 938.5L467.5 937.5L467.5 936.5L468.5 936.5L470.5 936.5L471.5 937.5L471.5 938.5L471.5 939.5L470.5 941.5L466.5 945.5L472.5 945.5M479.5 936.5L474.5 942.5L481.5 942.5M479.5 936.5L479.5 945.5M484.5 944.5L483.5 945.5L484.5 945.5L484.5 944.5M493.5 939.5L492.5 940.5L491.5 941.5L490.5 942.5L488.5 941.5L488.5 940.5L487.5 939.5L488.5 937.5L488.5 936.5L490.5 936.5L491.5 936.5L492.5 937.5L493.5 939.5L493.5 941.5L492.5 943.5L491.5 945.5L490.5 945.5L489.5 945.5L488.5 945.5L488.5 944.5M499.5 934.5L498.5 935.5L497.5 936.5L497.5 938.5L496.5 940.5L496.5 942.5L497.5 944.5L497.5 946.5L498.5 947.5L499.5 948.5M502.5 941.5L510.5 941.5M513.5 938.5L514.5 937.5L514.5 936.5L515.5 936.5L517.5 936.5L518.5 936.5L518.5 937.5L519.5 938.5L519.5 939.5L518.5 939.5L517.5 941.5L513.5 945.5L519.5 945.5M524.5 936.5L523.5 936.5L522.5 938.5L522.5 940.5L522.5 941.5L522.5 943.5L523.5 945.5L524.5 945.5L525.5 945.5L526.5 945.5L527.5 943.5L528.5 941.5L528.5 940.5L527.5 938.5L526.5 936.5L525.5 936.5L524.5 936.5M531.5 944.5L531.5 945.5L531.5 944.5M537.5 936.5L536.5 936.5L535.5 938.5L534.5 940.5L534.5 941.5L535.5 943.5L536.5 945.5L537.5 945.5L538.5 945.5L539.5 945.5L540.5 943.5L540.5 941.5L540.5 940.5L540.5 938.5L539.5 936.5L538.5 936.5L537.5 936.5M543.5 934.5L544.5 935.5L545.5 936.5L546.5 938.5L546.5 940.5L546.5 942.5L546.5 944.5L545.5 946.5L544.5 947.5L543.5 948.5M654.5 936.5L653.5 936.5L652.5 937.5L652.5 938.5L653.5 939.5L654.5 939.5L655.5 940.5L657.5 940.5L658.5 941.5L658.5 942.5L658.5 943.5L658.5 944.5L657.5 945.5L656.5 945.5L654.5 945.5L653.5 945.5L652.5 944.5L652.5 943.5L652.5 942.5L652.5 941.5L653.5 940.5L655.5 940.5L656.5 939.5L657.5 939.5L658.5 938.5L658.5 937.5L657.5 936.5L656.5 936.5L654.5 936.5M662.5 938.5L663.5 937.5L664.5 936.5L664.5 945.5M670.5 944.5L670.5 945.5L670.5 944.5M674.5 938.5L674.5 937.5L675.5 936.5L676.5 936.5L677.5 936.5L678.5 936.5L679.5 937.5L679.5 938.5L679.5 939.5L678.5 941.5L673.5 945.5L679.5 945.5M685.5 934.5L685.5 935.5L684.5 936.5L683.5 938.5L682.5 940.5L682.5 942.5L683.5 944.5L684.5 946.5L685.5 947.5L685.5 948.5M694.5 936.5L690.5 945.5M688.5 936.5L694.5 936.5M703.5 936.5L698.5 945.5M697.5 936.5L703.5 936.5M706.5 944.5L706.5 945.5L706.5 944.5M711.5 938.5L712.5 937.5L713.5 936.5L713.5 945.5M718.5 934.5L719.5 935.5L720.5 936.5L721.5 938.5L721.5 940.5L721.5 942.5L721.5 944.5L720.5 946.5L719.5 947.5L718.5 948.5M9.5 948.5L9.5 957.5M9.5 948.5L12.5 957.5M16.5 948.5L12.5 957.5M16.5 948.5L16.5 957.5M19.5 948.5L19.5 957.5M19.5 957.5L24.5 957.5M28.5 948.5L28.5 957.5M25.5 948.5L31.5 948.5M33.5 953.5L41.5 953.5M44.5 948.5L45.5 948.5L44.5 948.5M44.5 951.5L44.5 957.5M52.5 951.5L52.5 958.5L52.5 959.5L51.5 960.5L50.5 960.5L49.5 960.5L48.5 960.5M52.5 952.5L51.5 951.5L50.5 951.5L49.5 951.5L48.5 951.5L47.5 952.5L47.5 954.5L47.5 956.5L48.5 957.5L49.5 957.5L50.5 957.5L51.5 957.5L52.5 956.5M56.5 951.5L56.5 957.5M56.5 954.5L56.5 952.5L57.5 951.5L58.5 951.5L59.5 951.5M64.5 948.5L63.5 948.5L62.5 948.5L61.5 950.5L61.5 957.5M60.5 951.5L63.5 951.5M69.5 946.5L68.5 947.5L67.5 948.5L67.5 950.5L66.5 952.5L66.5 954.5L67.5 956.5L67.5 958.5L68.5 959.5L69.5 960.5M77.5 948.5L77.5 957.5M77.5 952.5L76.5 951.5L75.5 951.5L74.5 951.5L73.5 951.5L72.5 952.5L72.5 954.5L72.5 956.5L73.5 957.5L74.5 957.5L75.5 957.5L76.5 957.5L77.5 956.5M80 948.5h1M80.5 951.5L80.5 957.5M83.5 951.5L83.5 960.5M83.5 952.5L84.5 951.5L85.5 951.5L86.5 951.5L87.5 951.5L88.5 952.5L89.5 954.5L88.5 956.5L87.5 957.5L86.5 957.5L85.5 957.5L84.5 957.5L83.5 956.5M91.5 946.5L92.5 947.5L93.5 948.5L94.5 950.5L94.5 952.5L94.5 954.5L94.5 956.5L93.5 958.5L92.5 959.5L91.5 960.5M107.5 948.5L103.5 948.5L102.5 952.5L103.5 951.5L104.5 951.5L105.5 951.5L107.5 951.5L107.5 952.5L108.5 954.5L107.5 956.5L107.5 957.5L105.5 957.5L104.5 957.5L103.5 957.5L102.5 956.5L102.5 955.5M111.5 956.5L111.5 957.5L112.5 957.5L111.5 956.5M117.5 948.5L115.5 948.5L115.5 949.5L115.5 950.5L115.5 951.5L116.5 951.5L118.5 952.5L119.5 952.5L120.5 953.5L121.5 954.5L121.5 955.5L120.5 956.5L120.5 957.5L118.5 957.5L117.5 957.5L115.5 957.5L115.5 956.5L115.5 955.5L115.5 954.5L115.5 953.5L116.5 952.5L117.5 952.5L119.5 951.5L120.5 951.5L120.5 950.5L120.5 949.5L120.5 948.5L118.5 948.5L117.5 948.5M126.5 946.5L126.5 947.5L125.5 948.5L124.5 950.5L123.5 952.5L123.5 954.5L124.5 956.5L125.5 958.5L126.5 959.5L126.5 960.5M134.5 949.5L134.5 948.5L133.5 948.5L132.5 948.5L131.5 948.5L130.5 950.5L129.5 952.5L129.5 954.5L130.5 956.5L131.5 957.5L132.5 957.5L134.5 957.5L134.5 956.5L135.5 954.5L134.5 953.5L134.5 952.5L132.5 951.5L131.5 952.5L130.5 953.5L129.5 954.5M138.5 956.5L138.5 957.5L139.5 957.5L138.5 956.5M147.5 948.5L142.5 948.5L142.5 952.5L142.5 951.5L144.5 951.5L145.5 951.5L146.5 951.5L147.5 952.5L148.5 954.5L147.5 956.5L146.5 957.5L145.5 957.5L144.5 957.5L142.5 957.5L142.5 956.5L142.5 955.5M150.5 946.5L151.5 947.5L152.5 948.5L153.5 950.5L153.5 952.5L153.5 954.5L153.5 956.5L152.5 958.5L151.5 959.5L150.5 960.5M289.5 948.5L294.5 948.5L291.5 951.5L292.5 951.5L293.5 952.5L294.5 952.5L294.5 954.5L294.5 956.5L293.5 957.5L291.5 957.5L290.5 957.5L289.5 957.5L288.5 956.5L288.5 955.5M297.5 956.5L297.5 957.5L298.5 957.5L297.5 956.5M303.5 948.5L302.5 948.5L301.5 949.5L301.5 950.5L302.5 951.5L303.5 951.5L304.5 952.5L306.5 952.5L306.5 953.5L307.5 954.5L307.5 955.5L306.5 956.5L306.5 957.5L305.5 957.5L303.5 957.5L302.5 957.5L301.5 956.5L301.5 955.5L301.5 954.5L301.5 953.5L302.5 952.5L303.5 952.5L305.5 951.5L306.5 951.5L306.5 950.5L306.5 949.5L306.5 948.5L305.5 948.5L303.5 948.5M313.5 946.5L312.5 947.5L311.5 948.5L310.5 950.5L310.5 952.5L310.5 954.5L310.5 956.5L311.5 958.5L312.5 959.5L313.5 960.5M320.5 948.5L316.5 954.5L322.5 954.5M320.5 948.5L320.5 957.5M325.5 956.5L325.5 957.5L325.5 956.5M331.5 948.5L330.5 948.5L329.5 950.5L328.5 952.5L328.5 953.5L329.5 955.5L330.5 957.5L331.5 957.5L332.5 957.5L333.5 957.5L334.5 955.5L334.5 953.5L334.5 952.5L334.5 950.5L333.5 948.5L332.5 948.5L331.5 948.5M337.5 946.5L338.5 947.5L339.5 948.5L340.5 950.5L340.5 952.5L340.5 954.5L340.5 956.5L339.5 958.5L338.5 959.5L337.5 960.5M466.5 950.5L467.5 949.5L468.5 948.5L468.5 957.5M480.5 948.5L475.5 957.5M473.5 948.5L480.5 948.5M483.5 956.5L483.5 957.5L483.5 956.5M488.5 950.5L489.5 949.5L490.5 948.5L490.5 957.5M499.5 946.5L498.5 947.5L497.5 948.5L496.5 950.5L496.5 952.5L496.5 954.5L496.5 956.5L497.5 958.5L498.5 959.5L499.5 960.5M503.5 950.5L504.5 949.5L505.5 948.5L505.5 957.5M516.5 948.5L512.5 957.5M510.5 948.5L516.5 948.5M520.5 956.5L519.5 957.5L520.5 957.5L520.5 956.5M526.5 948.5L525.5 948.5L524.5 950.5L523.5 952.5L523.5 953.5L524.5 955.5L525.5 957.5L526.5 957.5L527.5 957.5L528.5 957.5L529.5 955.5L529.5 953.5L529.5 952.5L529.5 950.5L528.5 948.5L527.5 948.5L526.5 948.5M532.5 946.5L533.5 947.5L534.5 948.5L535.5 950.5L535.5 952.5L535.5 954.5L535.5 956.5L534.5 958.5L533.5 959.5L532.5 960.5M662.5 948.5L661.5 948.5L660.5 949.5L660.5 950.5L661.5 951.5L662.5 951.5L664.5 952.5L665.5 952.5L666.5 953.5L666.5 954.5L666.5 955.5L666.5 956.5L665.5 957.5L664.5 957.5L662.5 957.5L661.5 957.5L660.5 956.5L660.5 955.5L660.5 954.5L660.5 953.5L661.5 952.5L663.5 952.5L664.5 951.5L665.5 951.5L666.5 950.5L666.5 949.5L665.5 948.5L664.5 948.5L662.5 948.5M670.5 956.5L669.5 957.5L670.5 957.5L670.5 956.5M679.5 951.5L679.5 952.5L678.5 953.5L677.5 954.5L676.5 954.5L675.5 953.5L674.5 952.5L673.5 951.5L674.5 949.5L675.5 948.5L676.5 948.5L677.5 948.5L678.5 948.5L679.5 949.5L679.5 951.5L679.5 953.5L679.5 955.5L678.5 957.5L677.5 957.5L676.5 957.5L674.5 957.5L674.5 956.5M686.5 946.5L685.5 947.5L684.5 948.5L683.5 950.5L683.5 952.5L683.5 954.5L683.5 956.5L684.5 958.5L685.5 959.5L686.5 960.5M694.5 951.5L694.5 952.5L693.5 953.5L692.5 954.5L691.5 954.5L690.5 953.5L689.5 952.5L689.5 951.5L689.5 949.5L690.5 948.5L691.5 948.5L692.5 948.5L693.5 948.5L694.5 949.5L694.5 951.5L694.5 953.5L694.5 955.5L693.5 957.5L692.5 957.5L691.5 957.5L689.5 957.5L689.5 956.5M698.5 956.5L698.5 957.5L699.5 957.5L698.5 956.5M706.5 948.5L702.5 954.5L709.5 954.5M706.5 948.5L706.5 957.5M711.5 946.5L712.5 947.5L713.5 948.5L714.5 950.5L714.5 952.5L714.5 954.5L714.5 956.5L713.5 958.5L712.5 959.5L711.5 960.5M9.5 960.5L9.5 969.5M9.5 969.5L14.5 969.5M16.5 965.5L24.5 965.5M27.5 960.5L28.5 960.5L27.5 960.5M27.5 963.5L27.5 969.5M35.5 963.5L35.5 970.5L35.5 971.5L34.5 972.5L33.5 972.5L32.5 972.5L31.5 972.5M35.5 964.5L34.5 963.5L33.5 963.5L32.5 963.5L31.5 963.5L31.5 964.5L30.5 966.5L31.5 968.5L31.5 969.5L32.5 969.5L33.5 969.5L34.5 969.5L35.5 968.5M39.5 963.5L39.5 969.5M39.5 966.5L39.5 964.5L40.5 963.5L41.5 963.5L42.5 963.5M47.5 960.5L46.5 960.5L45.5 960.5L44.5 962.5L44.5 969.5M43.5 963.5L46.5 963.5M52.5 958.5L51.5 959.5L50.5 960.5L50.5 962.5L49.5 964.5L49.5 966.5L50.5 968.5L50.5 970.5L51.5 971.5L52.5 972.5M60.5 960.5L60.5 969.5M60.5 964.5L59.5 963.5L58.5 963.5L57.5 963.5L56.5 963.5L55.5 964.5L55.5 966.5L55.5 968.5L56.5 969.5L57.5 969.5L58.5 969.5L59.5 969.5L60.5 968.5M63 960.5h1M63.5 963.5L63.5 969.5M66.5 963.5L66.5 972.5M66.5 964.5L67.5 963.5L68.5 963.5L69.5 963.5L70.5 963.5L71.5 964.5L72.5 966.5L71.5 968.5L70.5 969.5L69.5 969.5L68.5 969.5L67.5 969.5L66.5 968.5M74.5 958.5L75.5 959.5L76.5 960.5L77.5 962.5L77.5 964.5L77.5 966.5L77.5 968.5L76.5 970.5L75.5 971.5L74.5 972.5M107.5 963.5L107.5 964.5L106.5 965.5L105.5 966.5L103.5 965.5L102.5 964.5L102.5 963.5L102.5 961.5L103.5 960.5L105.5 960.5L106.5 960.5L107.5 961.5L107.5 963.5L107.5 965.5L107.5 967.5L106.5 969.5L105.5 969.5L104.5 969.5L103.5 969.5L102.5 968.5M111.5 968.5L111.5 969.5L112.5 969.5L111.5 968.5M115.5 960.5L120.5 960.5L118.5 963.5L119.5 963.5L120.5 964.5L121.5 966.5L120.5 968.5L119.5 969.5L118.5 969.5L117.5 969.5L115.5 969.5L115.5 968.5L115.5 967.5M126.5 958.5L126.5 959.5L125.5 960.5L124.5 962.5L123.5 964.5L123.5 966.5L124.5 968.5L125.5 970.5L126.5 971.5L126.5 972.5M134.5 961.5L134.5 960.5L133.5 960.5L132.5 960.5L131.5 960.5L130.5 962.5L129.5 964.5L129.5 966.5L130.5 968.5L131.5 969.5L132.5 969.5L134.5 969.5L134.5 968.5L135.5 966.5L134.5 965.5L134.5 964.5L132.5 963.5L131.5 964.5L130.5 965.5L129.5 966.5M138.5 968.5L138.5 969.5L139.5 969.5L138.5 968.5M148.5 960.5L143.5 969.5M142.5 960.5L148.5 960.5M150.5 958.5L151.5 959.5L152.5 960.5L153.5 962.5L153.5 964.5L153.5 966.5L153.5 968.5L152.5 970.5L151.5 971.5L150.5 972.5M288.5 962.5L289.5 961.5L289.5 960.5L290.5 960.5L292.5 960.5L293.5 960.5L293.5 961.5L294.5 962.5L294.5 963.5L293.5 963.5L292.5 965.5L288.5 969.5L294.5 969.5M297.5 968.5L297.5 969.5L298.5 969.5L297.5 968.5M305.5 960.5L301.5 966.5L307.5 966.5M305.5 960.5L305.5 969.5M313.5 958.5L312.5 959.5L311.5 960.5L310.5 962.5L310.5 964.5L310.5 966.5L310.5 968.5L311.5 970.5L312.5 971.5L313.5 972.5M316.5 962.5L316.5 961.5L317.5 960.5L318.5 960.5L319.5 960.5L320.5 960.5L321.5 961.5L321.5 962.5L321.5 963.5L320.5 965.5L316.5 969.5L322.5 969.5M325.5 968.5L325.5 969.5L325.5 968.5M330.5 962.5L331.5 961.5L332.5 960.5L332.5 969.5M337.5 958.5L338.5 959.5L339.5 960.5L340.5 962.5L340.5 964.5L340.5 966.5L340.5 968.5L339.5 970.5L338.5 971.5L337.5 972.5M475.5 962.5L476.5 961.5L477.5 960.5L477.5 969.5M483.5 968.5L483.5 969.5L484.5 969.5L483.5 968.5M487.5 962.5L488.5 961.5L488.5 960.5L489.5 960.5L491.5 960.5L492.5 960.5L492.5 961.5L493.5 962.5L493.5 963.5L492.5 963.5L491.5 965.5L487.5 969.5L493.5 969.5M499.5 958.5L498.5 959.5L497.5 960.5L497.5 962.5L496.5 964.5L496.5 966.5L497.5 968.5L497.5 970.5L498.5 971.5L499.5 972.5M503.5 962.5L504.5 961.5L505.5 960.5L505.5 969.5M512.5 968.5L511.5 969.5L512.5 969.5L512.5 968.5M516.5 962.5L516.5 961.5L516.5 960.5L517.5 960.5L519.5 960.5L520.5 960.5L520.5 961.5L521.5 962.5L521.5 963.5L520.5 963.5L520.5 965.5L515.5 969.5L521.5 969.5M524.5 958.5L525.5 959.5L526.5 960.5L527.5 962.5L527.5 964.5L527.5 966.5L527.5 968.5L526.5 970.5L525.5 971.5L524.5 972.5M656.5 960.5L652.5 966.5L658.5 966.5M656.5 960.5L656.5 969.5M661.5 960.5L666.5 960.5L664.5 963.5L665.5 963.5L666.5 964.5L667.5 966.5L666.5 968.5L665.5 969.5L664.5 969.5L663.5 969.5L661.5 969.5L661.5 968.5L661.5 967.5M670.5 968.5L670.5 969.5L670.5 968.5M676.5 960.5L675.5 960.5L674.5 962.5L673.5 964.5L673.5 965.5L674.5 967.5L675.5 969.5L676.5 969.5L677.5 969.5L678.5 969.5L679.5 967.5L679.5 965.5L679.5 964.5L679.5 962.5L678.5 960.5L677.5 960.5L676.5 960.5M685.5 958.5L685.5 959.5L684.5 960.5L683.5 962.5L682.5 964.5L682.5 966.5L683.5 968.5L684.5 970.5L685.5 971.5L685.5 972.5M688.5 962.5L689.5 961.5L689.5 960.5L690.5 960.5L692.5 960.5L693.5 960.5L693.5 961.5L694.5 962.5L694.5 963.5L693.5 963.5L692.5 965.5L688.5 969.5L694.5 969.5M698.5 962.5L699.5 961.5L700.5 960.5L700.5 969.5M706.5 968.5L706.5 969.5L706.5 968.5M715.5 961.5L715.5 960.5L713.5 960.5L712.5 960.5L711.5 960.5L710.5 962.5L710.5 964.5L710.5 966.5L710.5 968.5L711.5 969.5L712.5 969.5L713.5 969.5L714.5 969.5L715.5 968.5L715.5 966.5L715.5 965.5L714.5 964.5L713.5 963.5L712.5 963.5L711.5 964.5L710.5 965.5L710.5 966.5M718.5 958.5L719.5 959.5L720.5 960.5L721.5 962.5L721.5 964.5L721.5 966.5L721.5 968.5L720.5 970.5L719.5 971.5L718.5 972.5M590.5 982.5L590.5 987.5M590.5 984.5L591.5 983.5L592.5 982.5L593.5 982.5L593.5 983.5L593.5 984.5L593.5 987.5M598.5 980.5L597.5 980.5L596.5 981.5L596.5 987.5M595.5 982.5L598.5 982.5M600.5 980.5L600.5 987.5M602.5 982.5L602.5 986.5L603.5 987.5L604.5 987.5L605.5 987.5L606.5 986.5M606.5 982.5L606.5 987.5M608.5 982.5L611.5 987.5M611.5 982.5L608.5 987.5M614.5 982.5L613.5 983.5L614.5 983.5L614.5 982.5M614.5 986.5L613.5 987.5L614.5 987.5L614.5 986.5M623.5 979.5L622.5 989.5M625.5 979.5L624.5 989.5M622.5 983.5L626.5 983.5M621.5 985.5L626.5 985.5M633.5 979.5L628.5 989.5M637.5 979.5L636.5 980.5L635.5 982.5L635.5 983.5L635.5 985.5L635.5 986.5L636.5 988.5L637.5 989.5M643.5 983.5L642.5 983.5L642.5 982.5L641.5 982.5L640.5 983.5L639.5 983.5L639.5 984.5L639.5 985.5L639.5 986.5L640.5 987.5L641.5 987.5L642.5 987.5L643.5 986.5M645.5 982.5L645.5 987.5M645.5 984.5L646.5 983.5L647.5 982.5L648.5 982.5L648.5 983.5L648.5 984.5L648.5 987.5M648.5 984.5L649.5 983.5L650.5 982.5L651.5 982.5L652.5 983.5L652.5 984.5L652.5 987.5M654.5 984.5L656.5 982.5L658.5 984.5M659.5 982.5L659.5 981.5L660.5 981.5L660.5 980.5L661.5 980.5L662.5 980.5L663.5 980.5L663.5 981.5L663.5 982.5L663.5 983.5L662.5 984.5L659.5 987.5L663.5 987.5M674.5 983.5L673.5 983.5L673.5 982.5L672.5 982.5L671.5 983.5L670.5 983.5L671.5 984.5L673.5 985.5L674.5 986.5L673.5 987.5L672.5 987.5L671.5 987.5L670.5 986.5M684.5 983.5L683.5 982.5L682.5 982.5L681.5 983.5L681.5 984.5L682.5 984.5L683.5 985.5L684.5 985.5L684.5 986.5L684.5 987.5L683.5 987.5L682.5 987.5L681.5 987.5L681.5 986.5M686.5 982.5L686.5 987.5M686.5 984.5L687.5 983.5L688.5 982.5L689.5 982.5M695.5 980.5L695.5 987.5M695.5 980.5L698.5 987.5M700.5 980.5L698.5 987.5M700.5 980.5L700.5 987.5M703.5 984.5L706.5 984.5L706.5 983.5L705.5 982.5L704.5 982.5L703.5 983.5L703.5 984.5L703.5 985.5L703.5 986.5L703.5 987.5L704.5 987.5L705.5 987.5L706.5 987.5L706.5 986.5M708.5 980.5L710.5 987.5M713.5 980.5L710.5 987.5M714.5 979.5L715.5 980.5L716.5 982.5L716.5 983.5L716.5 985.5L716.5 986.5L715.5 988.5L714.5 989.5M595.5 993.5L594.5 992.5L594.5 991.5L593.5 991.5L592.5 991.5L591.5 991.5L591.5 992.5L590.5 993.5L590.5 994.5L590.5 995.5L590.5 996.5L591.5 997.5L591.5 998.5L592.5 998.5L593.5 998.5L594.5 998.5L594.5 997.5L595.5 996.5M597.5 993.5L597.5 998.5M597.5 995.5L597.5 994.5L598.5 994.5L598.5 993.5L599.5 993.5M601.5 995.5L604.5 995.5L604.5 994.5L603.5 993.5L602.5 993.5L602.5 994.5L601.5 994.5L601.5 995.5L601.5 996.5L601.5 997.5L602.5 998.5L603.5 998.5L604.5 998.5L604.5 997.5M610.5 993.5L610.5 998.5M610.5 994.5L609.5 993.5L608.5 993.5L607.5 994.5L606.5 995.5L606.5 996.5L607.5 997.5L607.5 998.5L608.5 998.5L609.5 998.5L610.5 998.5L610.5 997.5M613.5 991.5L613.5 997.5L613.5 998.5L614.5 998.5L615.5 998.5M612.5 993.5L614.5 993.5M616.5 995.5L620.5 995.5L620.5 994.5L619.5 994.5L619.5 993.5L618.5 993.5L617.5 994.5L616.5 994.5L616.5 995.5L616.5 996.5L616.5 997.5L617.5 998.5L618.5 998.5L619.5 998.5L620.5 997.5M626.5 991.5L626.5 998.5M626.5 994.5L625.5 994.5L624.5 993.5L623.5 993.5L623.5 994.5L622.5 994.5L622.5 995.5L622.5 996.5L622.5 997.5L623.5 998.5L624.5 998.5L625.5 998.5L626.5 997.5M628.5 993.5L628.5 994.5L629.5 994.5L628.5 993.5M628.5 997.5L628.5 998.5L629.5 998.5L628.5 997.5M640.5 992.5L640.5 991.5L639.5 991.5L638.5 991.5L637.5 991.5L636.5 992.5L636.5 993.5L637.5 994.5L639.5 995.5L640.5 995.5L640.5 996.5L640.5 997.5L640.5 998.5L639.5 998.5L638.5 998.5L637.5 998.5L636.5 997.5M646.5 993.5L646.5 998.5M646.5 994.5L645.5 994.5L645.5 993.5L644.5 993.5L643.5 994.5L642.5 995.5L642.5 996.5L643.5 997.5L643.5 998.5L644.5 998.5L645.5 998.5L646.5 997.5M649.5 991.5L649.5 997.5L649.5 998.5L650.5 998.5M648.5 993.5L650.5 993.5M661.5 992.5L661.5 991.5L660.5 991.5L659.5 991.5L658.5 991.5L657.5 992.5L657.5 993.5L658.5 994.5L660.5 995.5L661.5 995.5L661.5 996.5L661.5 997.5L661.5 998.5L660.5 998.5L659.5 998.5L658.5 998.5L657.5 997.5M663.5 995.5L667.5 995.5L667.5 994.5L666.5 994.5L666.5 993.5L665.5 993.5L664.5 994.5L663.5 995.5L663.5 996.5L664.5 997.5L664.5 998.5L665.5 998.5L666.5 998.5L667.5 997.5M669.5 993.5L669.5 1000.5M669.5 994.5L670.5 994.5L671.5 993.5L672.5 994.5L673.5 994.5L673.5 995.5L673.5 996.5L673.5 997.5L672.5 998.5L671.5 998.5L670.5 998.5L669.5 997.5M689.5 991.5L686.5 998.5M685.5 991.5L689.5 991.5M698.5 991.5L697.5 991.5L697.5 992.5L696.5 994.5L696.5 995.5L697.5 997.5L697.5 998.5L698.5 998.5L699.5 998.5L700.5 998.5L700.5 997.5L701.5 995.5L701.5 994.5L700.5 992.5L700.5 991.5L699.5 991.5L698.5 991.5M707.5 992.5L706.5 991.5L705.5 991.5L704.5 991.5L703.5 992.5L703.5 994.5L703.5 996.5L703.5 997.5L704.5 998.5L705.5 998.5L706.5 998.5L707.5 997.5L707.5 996.5L707.5 995.5L706.5 994.5L705.5 994.5L704.5 994.5L703.5 995.5L703.5 996.5M710.5 993.5L709.5 994.5L710.5 994.5L710.5 993.5M710.5 997.5L709.5 998.5L710.5 998.5L710.5 997.5M716.5 991.5L713.5 991.5L712.5 994.5L713.5 994.5L714.5 993.5L715.5 993.5L716.5 994.5L716.5 995.5L716.5 996.5L716.5 997.5L716.5 998.5L715.5 998.5L714.5 998.5L713.5 998.5L712.5 997.5M722.5 992.5L722.5 991.5L721.5 991.5L720.5 991.5L719.5 992.5L719.5 994.5L719.5 996.5L719.5 997.5L720.5 998.5L721.5 998.5L722.5 998.5L722.5 997.5L723.5 996.5L722.5 995.5L722.5 994.5L721.5 994.5L720.5 994.5L719.5 995.5L719.5 996.5M725.5 993.5L725.5 994.5L726.5 994.5L725.5 993.5M725.5 997.5L725.5 998.5L726.5 998.5L725.5 997.5M730.5 991.5L729.5 991.5L728.5 992.5L728.5 994.5L728.5 995.5L728.5 997.5L729.5 998.5L730.5 998.5L731.5 998.5L732.5 997.5L732.5 995.5L732.5 994.5L732.5 992.5L731.5 991.5L730.5 991.5M738.5 992.5L738.5 991.5L737.5 991.5L736.5 991.5L735.5 991.5L735.5 992.5L734.5 994.5L734.5 996.5L735.5 997.5L735.5 998.5L736.5 998.5L737.5 998.5L738.5 998.5L738.5 997.5L738.5 996.5L738.5 995.5L738.5 994.5L737.5 994.5L736.5 994.5L735.5 994.5L735.5 995.5L734.5 996.5M746.5 993.5L746.5 992.5L746.5 991.5L747.5 991.5L748.5 991.5L749.5 991.5L749.5 992.5L749.5 993.5L749.5 994.5L749.5 995.5L745.5 998.5L750.5 998.5M754.5 991.5L753.5 991.5L752.5 992.5L752.5 994.5L752.5 995.5L752.5 997.5L753.5 998.5L754.5 998.5L755.5 998.5L756.5 997.5L756.5 995.5L756.5 994.5L756.5 992.5L755.5 991.5L754.5 991.5M758.5 993.5L758.5 992.5L759.5 992.5L759.5 991.5L760.5 991.5L761.5 991.5L762.5 992.5L762.5 993.5L762.5 994.5L761.5 995.5L758.5 998.5L762.5 998.5M767.5 991.5L764.5 996.5L769.5 996.5M767.5 991.5L767.5 998.5"/>
</g>
<g style="filter:grayscale(1)">
<text font-size="8.721" fill="#000" font-weight="bold" transform="translate(695.000,904.646) rotate(-90) scale(0.9023,1)">Fri</text>
<text font-size="8.721" fill="#000" font-weight="bold" transform="translate(695.000,893.349) rotate(-90) scale(0.8810,1)">Sep</text>
<text font-size="8.721" fill="#000" font-weight="bold" transform="translate(695.000,874.550) rotate(-90) scale(1.2425,1)">6</text>
<text font-size="8.721" fill="#000" font-weight="bold" transform="translate(695.000,867.410) rotate(-90) scale(0.9357,1)">23:56:08</text>
<text font-size="8.721" fill="#000" font-weight="bold" transform="translate(695.000,834.422) rotate(-90) scale(0.9622,1)">2024</text>
</g>
</svg>
</body></html>
